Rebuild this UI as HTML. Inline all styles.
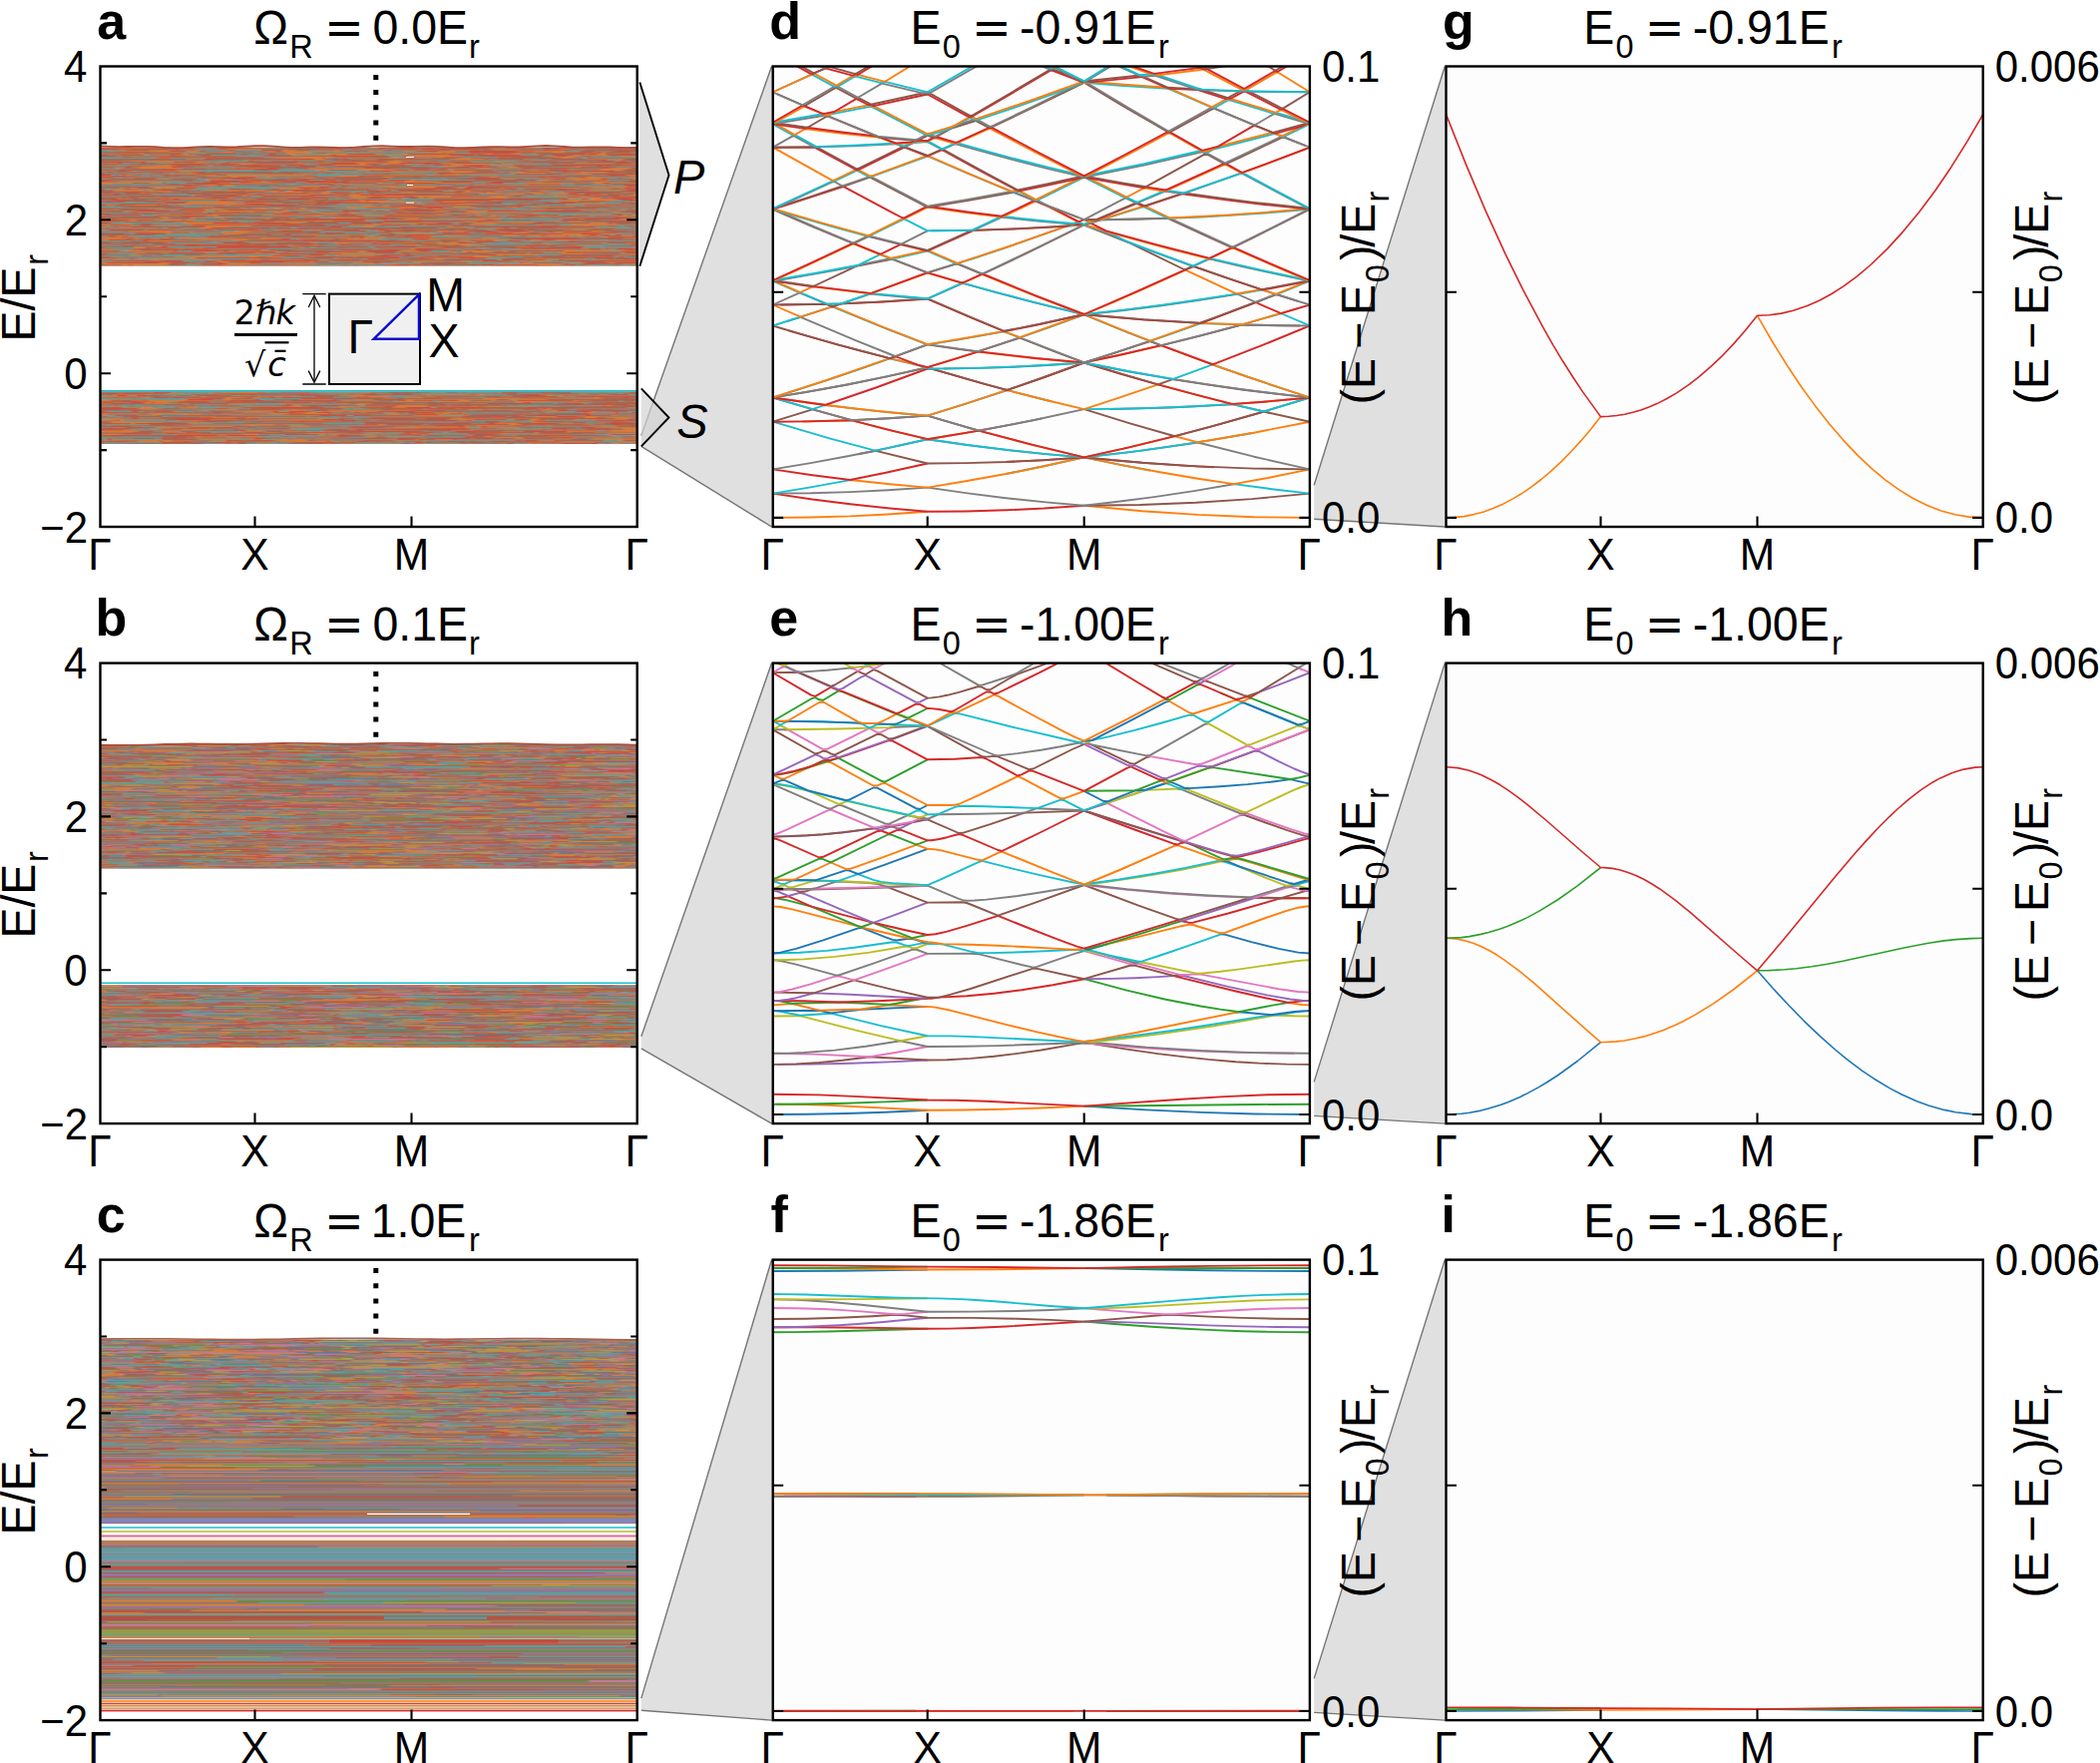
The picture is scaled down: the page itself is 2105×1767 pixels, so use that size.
<!DOCTYPE html>
<html><head><meta charset="utf-8"><title>Figure</title><style>html,body{margin:0;padding:0;background:#fff}svg{display:block}</style></head><body>
<svg width="2105" height="1767" viewBox="0 0 2105 1767" font-family="'Liberation Sans',sans-serif" fill="#000">
<rect width="2105" height="1767" fill="#fff"/>
<rect x="774.7" y="66.5" width="538.2" height="461.5" fill="#fdfdfd"/>
<rect x="1449.5" y="66.5" width="538.2" height="461.5" fill="#fdfdfd"/>
<rect x="774.7" y="664.6" width="538.2" height="461.5" fill="#fdfdfd"/>
<rect x="1449.5" y="664.6" width="538.2" height="461.5" fill="#fdfdfd"/>
<rect x="774.7" y="1262.6" width="538.2" height="461.5" fill="#fdfdfd"/>
<rect x="1449.5" y="1262.6" width="538.2" height="461.5" fill="#fdfdfd"/>
<defs><filter id="bl" x="-1%" y="-3%" width="102%" height="106%"><feGaussianBlur stdDeviation="1.6 0.6"/></filter><filter id="bl2" x="-1%" y="-1%" width="102%" height="102%"><feGaussianBlur stdDeviation="1.6 0.4"/></filter>
<clipPath id="cp00"><rect x="100.5" y="66.5" width="538.2" height="461.5"/></clipPath>
<clipPath id="cp01"><rect x="100.5" y="664.6" width="538.2" height="461.5"/></clipPath>
<clipPath id="cp02"><rect x="100.5" y="1262.6" width="538.2" height="461.5"/></clipPath>
<clipPath id="cp10"><rect x="774.7" y="66.5" width="538.2" height="461.5"/></clipPath>
<clipPath id="cp11"><rect x="774.7" y="664.6" width="538.2" height="461.5"/></clipPath>
<clipPath id="cp12"><rect x="774.7" y="1262.6" width="538.2" height="461.5"/></clipPath>
<clipPath id="cp20"><rect x="1449.5" y="66.5" width="538.2" height="461.5"/></clipPath>
<clipPath id="cp21"><rect x="1449.5" y="664.6" width="538.2" height="461.5"/></clipPath>
<clipPath id="cp22"><rect x="1449.5" y="1262.6" width="538.2" height="461.5"/></clipPath>
</defs>
<path d="M642.8 436.6L773.5 66.5V528L642.8 447.4Z" fill="#d3d3d3" fill-opacity=".7"/>
<path d="M642.8 436.6L773.5 66.5M773.5 528L642.8 447.4" stroke="#757575" stroke-width="1.4" fill="none"/>
<path d="M1317.2 486.3L1448.3 66.5V528L1317.2 520.3Z" fill="#d3d3d3" fill-opacity=".7"/>
<path d="M1317.2 486.3L1448.3 66.5M1448.3 528L1317.2 520.3" stroke="#757575" stroke-width="1.4" fill="none"/>
<path d="M642.8 1038.8L773.5 664.6V1126.1L642.8 1050.8Z" fill="#d3d3d3" fill-opacity=".7"/>
<path d="M642.8 1038.8L773.5 664.6M773.5 1126.1L642.8 1050.8" stroke="#757575" stroke-width="1.4" fill="none"/>
<path d="M1317.2 1084.4L1448.3 664.6V1126.1L1317.2 1118.4Z" fill="#d3d3d3" fill-opacity=".7"/>
<path d="M1317.2 1084.4L1448.3 664.6M1448.3 1126.1L1317.2 1118.4" stroke="#757575" stroke-width="1.4" fill="none"/>
<path d="M642.8 1702.1L773.5 1262.6V1724.1L642.8 1714.3Z" fill="#d3d3d3" fill-opacity=".7"/>
<path d="M642.8 1702.1L773.5 1262.6M773.5 1724.1L642.8 1714.3" stroke="#757575" stroke-width="1.4" fill="none"/>
<path d="M1317.2 1682.4L1448.3 1262.6V1724.1L1317.2 1716.4Z" fill="#d3d3d3" fill-opacity=".7"/>
<path d="M1317.2 1682.4L1448.3 1262.6M1448.3 1724.1L1317.2 1716.4" stroke="#757575" stroke-width="1.4" fill="none"/>
<path d="M641.3 82.5L670.5 175.5L641.3 266.8Z" fill="#d3d3d3" fill-opacity=".7"/><path d="M641.3 82.5L670.5 175.5L641.3 266.8" stroke="#000" stroke-width="1.9" fill="none"/>
<path d="M642.8 389.3L670.5 418.5L642.8 447.4Z" fill="#d3d3d3" fill-opacity=".7"/><path d="M642.8 389.3L670.5 418.5L642.8 447.4" stroke="#000" stroke-width="1.9" fill="none"/>
<rect x="101.2" y="147.6" width="536.8" height="119" fill="#b5785c"/>
<rect x="101.2" y="392.4" width="536.8" height="52.6" fill="#b5785c"/>
<clipPath id="ca"><path d="M101.2 147.6H638.0V266.6H101.2ZM101.2 392.4H638.0V445H101.2Z"/></clipPath>
<g clip-path="url(#ca)"><g opacity="0.52" filter="url(#bl)">
<g fill="none" stroke-width="0.95"><path d="M95 143.5h5m18 0h22m57 0h18m0 0h25m66 0h6m23 0h62m121 0h7m35 0h18M105 144.3h22m44 0h8m18 0h41m40 0h108m50 0h32m111 0h65M121 145.1h14m118 0h4m249 0h4m13 0h27m41 0h4m47 0h2M95 145.9h2m0 0h4m4 0h17m70 0h33m20 0h40m197 0h6m35 0h4m56 0h24M116 146.7h5m13 0h19m10 0h29m0 0h4m156 0h38m7 0h40m22 0h4m97 0h57M95 147.5h21m18 0h62m0 0h45m20 0h34m55 0h35m10 0h4m8 0h24m106 0h4M106 148.3h7m4 0h43m92 0h13m262 0h11M229 149.1h22m71 0h12m65 0h18m76 0h29m39 0h11M120 149.9h13m38 0h33m17 0h68m45 0h8m8 0h40m29 0h4m68 0h7m64 0h9m12 0h5m28 0h4m4 0h8M149 150.7h22m113 0h12m39 0h5m76 0h24m12 0h22m23 0h18M111 151.5h58m18 0h5m0 0h7m67 0h10m6 0h63m24 0h14m22 0h12m23 0h15m63 0h31m0 0h15M151 152.3h35m4 0h9m24 0h12m19 0h5m27 0h22m121 0h26m81 0h45m14 0h4m4 0h6m23 0h12M117 153.1h25m49 0h42m36 0h16m0 0h26m129 0h15m63 0h4m32 0h12m36 0h4M141 153.9h4m28 0h11m4 0h4m95 0h5m0 0h27m0 0h66m8 0h50m4 0h4m4 0h38m20 0h9m11 0h4m53 0h44M112 154.7h59m12 0h6m100 0h4m35 0h20m57 0h4m77 0h56m57 0h8M175 155.5h22m95 0h40m6 0h49m4 0h23m0 0h36m25 0h4m97 0h33M95 156.3h4m20 0h26m11 0h15m248 0h45m105 0h13m23 0h7m7 0h25M180 157.1h59m64 0h54m0 0h15m24 0h63m88 0h31m46 0h20M271 157.9h63m56 0h9m38 0h8m53 0h14m44 0h20m9 0h4m51 0h4M153 158.7h19m105 0h46m29 0h80m28 0h12m92 0h4M186 159.5h18m111 0h11m125 0h34m40 0h4m19 0h5m38 0h35M243 160.3h14m33 0h40m10 0h4m21 0h13m80 0h32M131 161.1h11m6 0h26m211 0h17m93 0h22m18 0h6m74 0h15M95 161.9h115m52 0h10m50 0h4m10 0h4m50 0h21m38 0h19m0 0h4m91 0h13m40 0h5M197 162.7h5m136 0h40m11 0h4m0 0h16m8 0h24m32 0h33m134 0h4M110 163.5h8m38 0h52m9 0h6m7 0h15m52 0h5m15 0h16m24 0h43m43 0h12m121 0h33m0 0h7M95 164.3h8m137 0h24m34 0h15m47 0h6m17 0h22m0 0h21m15 0h51m10 0h33m88 0h21M111 165.1h8m9 0h12m25 0h10m59 0h5m4 0h9m81 0h23m0 0h14m57 0h4m21 0h62M157 165.9h14m38 0h4m48 0h21m54 0h33m75 0h14m164 0h22M142 166.7h13m0 0h23m10 0h50m173 0h4m30 0h25m30 0h16m61 0h15m12 0h4M132 167.5h40m145 0h8m185 0h9m47 0h16M95 168.3h29m15 0h23m4 0h16m57 0h23m0 0h6m212 0h19m0 0h25m93 0h15M115 169.1h5m18 0h44m125 0h23m4 0h51m7 0h7m33 0h7m8 0h45m40 0h23m50 0h22m0 0h7m0 0h4M229 169.9h28m52 0h81m59 0h4m106 0h18m23 0h28M317 170.7h12m29 0h37m15 0h4m179 0h20m0 0h11M95 171.5h18m15 0h6m25 0h41m193 0h12m0 0h74m50 0h23M180 172.3h12m0 0h5m134 0h4m20 0h4m25 0h18m50 0h22m47 0h5m26 0h6m10 0h42m29 0h5M131 173.1h34m40 0h27m0 0h22m182 0h4m11 0h30m0 0h16m0 0h8m7 0h43m27 0h4M170 173.9h4m13 0h12m146 0h25m27 0h4m0 0h25m83 0h38m30 0h50M166 174.7h30m108 0h9m26 0h4m102 0h13m105 0h30M121 175.5h11m64 0h21m10 0h78m67 0h57m4 0h65m129 0h15M99 176.3h14m94 0h106m30 0h16m271 0h12M221 177.1h36m10 0h4m48 0h41m4 0h50m11 0h4m54 0h57m6 0h4m35 0h8M122 177.9h4m4 0h10m23 0h8m0 0h6m15 0h6m34 0h5m24 0h15m33 0h6m70 0h9m97 0h7m90 0h13m30 0h4M95 178.7h15m20 0h4m122 0h6m27 0h31m12 0h4m106 0h4m98 0h67m11 0h17m0 0h5M156 179.5h15m37 0h25m271 0h13m51 0h15m0 0h19m32 0h4M193 180.3h27m164 0h5m22 0h12m115 0h17m19 0h35m26 0h9M108 181.1h4m128 0h26m60 0h13m12 0h65m126 0h8m27 0h4m62 0h1M119 181.9h69m84 0h11m123 0h33m39 0h9m111 0h17M100 182.7h61m91 0h20m76 0h95m149 0h13m0 0h5M95 183.5h32m0 0h6m18 0h11m57 0h14m6 0h40m28 0h4m4 0h20m43 0h5m55 0h34m56 0h60m7 0h9m8 0h9m0 0h23M95 184.3h15m177 0h8m38 0h18m56 0h25m53 0h14m4 0h29m0 0h31m34 0h17M168 185.1h4m27 0h34m122 0h8m0 0h12m99 0h13M207 185.9h10m8 0h14m105 0h6m27 0h20m129 0h38M223 186.7h11m37 0h4m30 0h28m20 0h92m0 0h8m116 0h7M150 187.5h49m9 0h4m65 0h43m70 0h47m22 0h10m113 0h27m0 0h26M120 188.3h4m0 0h13m17 0h22m169 0h5m7 0h23m32 0h24m21 0h4m41 0h80m11 0h32m16 0h3M109 189.1h15m8 0h64m84 0h4m5 0h14m9 0h6m183 0h4m117 0h22M207 189.9h16m48 0h46m5 0h32m0 0h12m14 0h45m151 0h47M114 190.7h27m9 0h4m49 0h62m114 0h9m4 0h4m38 0h69m0 0h4m37 0h14M113 191.5h59m56 0h13m4 0h35m10 0h5m158 0h4m10 0h4m71 0h4m43 0h5m0 0h16m0 0h12M159 192.3h12m104 0h25m8 0h23m22 0h4m0 0h4m41 0h14m48 0h20m4 0h4m4 0h6m121 0h4M95 193.1h3m41 0h7m128 0h4m6 0h21m17 0h30m8 0h4m26 0h80m19 0h7m34 0h17m15 0h15M95 193.9h7m40 0h14m92 0h10m51 0h5m10 0h6m150 0h21m8 0h36m4 0h16m49 0h8m4 0h18M101 194.7h12m40 0h5m55 0h25m63 0h27m24 0h14m9 0h11m59 0h19m16 0h4m4 0h37m10 0h33m68 0h8M194 195.5h4m0 0h5m36 0h14m12 0h45m26 0h8m4 0h13m231 0h13m0 0h4m12 0h4m4 0h15M95 196.3h3m145 0h4m10 0h5m88 0h121m28 0h17m41 0h32m47 0h8M262 197.1h4m15 0h92m13 0h18m11 0h37m39 0h16m15 0h46M139 197.9h13m0 0h15m60 0h5m122 0h13m52 0h6m4 0h84m60 0h9m0 0h19m11 0h32M171 198.7h10m4 0h16m28 0h4m104 0h5m8 0h20m13 0h22m14 0h4m0 0h13m21 0h49m61 0h35M118 199.5h15m29 0h11m7 0h39m14 0h5m4 0h15m22 0h9m23 0h15m69 0h4m195 0h23m17 0h10M156 200.3h6m198 0h4m195 0h62M311 201.1h4m17 0h56m184 0h42M163 201.9h21m6 0h4m0 0h12m0 0h13m0 0h10m27 0h21m31 0h11m43 0h4m4 0h35m39 0h56m57 0h23M187 202.7h57m80 0h4m16 0h16m0 0h40m0 0h49m0 0h18m160 0h14M162 203.5h4m20 0h50m10 0h38m19 0h14m86 0h17m158 0h25M165 204.3h4m12 0h64m94 0h36m75 0h13m0 0h18m29 0h4m8 0h10m35 0h9m62 0h6M105 205.1h14m18 0h24m14 0h15m28 0h35m203 0h18m94 0h44M106 205.9h4m14 0h33m151 0h4m56 0h5M110 206.7h4m85 0h8m56 0h6m96 0h9m8 0h9m33 0h47m112 0h58M207 207.5h7m135 0h68m37 0h23m30 0h11m14 0h8m0 0h18m0 0h9m0 0h9M130 208.3h35m77 0h4m8 0h9m14 0h30m29 0h32m33 0h22m0 0h4m87 0h7m121 0h2M205 209.1h45m4 0h24m23 0h4m44 0h7m69 0h51m11 0h6m51 0h4M155 209.9h40m0 0h28m38 0h6m8 0h14m6 0h25m67 0h21m26 0h8m180 0h22M95 210.7h25m105 0h4m145 0h16m145 0h28m18 0h45m12 0h6M122 211.5h13m52 0h28m4 0h71m9 0h14m59 0h4m24 0h8m28 0h15m15 0h23M133 212.3h23m58 0h43m27 0h6m23 0h4m151 0h80m31 0h4m11 0h4m4 0h12m0 0h8M102 213.1h5m83 0h17m43 0h4m4 0h24m39 0h51m17 0h6m11 0h7m24 0h25m4 0h22m66 0h6m55 0h20m4 0h5M170 213.9h12m93 0h18m13 0h32m12 0h6m40 0h10m58 0h5m4 0h6m10 0h26M111 214.7h4m98 0h23m201 0h5m87 0h11M95 215.5h3m0 0h6m52 0h63m44 0h76m19 0h32m4 0h59m25 0h4m10 0h4m80 0h34m15 0h4m4 0h8M207 216.3h11m96 0h5m142 0h11m4 0h51m9 0h30m50 0h28M95 217.1h6m60 0h6m48 0h13m42 0h5m0 0h14m79 0h71m18 0h4m81 0h4m26 0h23m25 0h24M112 217.9h9m37 0h10m24 0h15m9 0h6m82 0h25m4 0h4m0 0h31m113 0h19M95 218.7h14m54 0h9m18 0h4m52 0h27m61 0h27m36 0h23m93 0h10M118 219.5h50m54 0h5m39 0h4m21 0h6m109 0h95m80 0h5m40 0h18M169 220.3h13m4 0h20m160 0h23m16 0h15m58 0h9m8 0h5m116 0h28M120 221.1h75m120 0h38m152 0h5m38 0h13M129 221.9h8m102 0h9m27 0h59m30 0h6m95 0h35m57 0h6m7 0h16m48 0h10M95 222.7h13m0 0h8m59 0h58m21 0h54m153 0h14m38 0h24m26 0h22M186 223.5h27m76 0h12m83 0h54m20 0h4m13 0h59m58 0h18m4 0h4m23 0h3M95 224.3h4m22 0h12m20 0h106m154 0h5m54 0h24m77 0h19m0 0h15M95 225.1h38m216 0h33m41 0h33m15 0h57m10 0h17m20 0h35m0 0h34M95 225.9h15m80 0h93m18 0h8m56 0h62m113 0h4m21 0h53m19 0h7M121 226.7h20m12 0h24m29 0h4m0 0h42m98 0h27m210 0h4M95 227.5h9m101 0h23m139 0h5m76 0h19M95 228.3h63m26 0h27m228 0h4m57 0h4m53 0h19m12 0h45M170 229.1h15m16 0h14m136 0h4m30 0h10m75 0h7m163 0h4M235 229.9h4m8 0h13m65 0h24m10 0h4m106 0h4m6 0h26m67 0h15m11 0h7M144 230.7h4m66 0h4m56 0h31m6 0h12m69 0h11m13 0h24m17 0h4m27 0h4m33 0h4m36 0h26M95 231.5h10m23 0h42m68 0h25m115 0h7m54 0h12m4 0h14m28 0h4m29 0h5m58 0h14M151 232.3h16m0 0h27m28 0h30m145 0h8m7 0h9m20 0h6m15 0h4m39 0h4m47 0h46M131 233.1h41m51 0h23m20 0h17m0 0h6m12 0h9m51 0h8m145 0h14m21 0h15M165 233.9h16m0 0h86m113 0h15m0 0h35m0 0h6m19 0h17m14 0h47m8 0h11m12 0h41m0 0h5m0 0h6m24 0h4M224 234.7h17m73 0h4m79 0h40m127 0h19m20 0h19M303 235.5h63m139 0h12m4 0h70m7 0h4m30 0h4M115 236.3h16m118 0h8m112 0h7m37 0h52m39 0h17m7 0h14m8 0h17m14 0h22m20 0h11M119 237.1h4m8 0h10m225 0h34m47 0h25m68 0h46m20 0h38M95 237.9h26m43 0h24m73 0h4m49 0h72m15 0h4m200 0h5M95 238.7h35m4 0h4m26 0h6m11 0h49m32 0h20m59 0h10m64 0h17m51 0h16m126 0h19M106 239.5h20m6 0h14m5 0h9m29 0h78m0 0h14m18 0h15m0 0h21m14 0h32m49 0h82m125 0h7M95 240.3h13m125 0h15m93 0h49m10 0h40m91 0h13m15 0h15m0 0h4m64 0h2M106 241.1h15m4 0h11m13 0h24m40 0h87m25 0h4m123 0h19m24 0h4m28 0h14m4 0h24m17 0h24M149 241.9h54m105 0h12m89 0h4m50 0h39m4 0h5m115 0h7M375 242.7h4m75 0h4m58 0h5M165 243.5h4m81 0h27m34 0h4m22 0h25m16 0h39m6 0h36m85 0h4m53 0h4m23 0h16M176 244.3h26m126 0h15m0 0h7m14 0h8m67 0h53m117 0h9M249 245.1h4m61 0h10m81 0h72m71 0h7m21 0h13m0 0h14M126 245.9h4m69 0h40m38 0h4m0 0h38m90 0h9m43 0h9m55 0h14m0 0h12m89 0h4M465 246.7h22m79 0h36M134 247.5h27m132 0h11m7 0h5m101 0h27m73 0h14M136 248.3h5m50 0h14m273 0h12m114 0h40M135 249.1h5m10 0h5m0 0h17m43 0h25m19 0h10m32 0h4m107 0h4m20 0h4m67 0h8m0 0h7m57 0h10M95 249.9h18m58 0h38m82 0h10m76 0h39m28 0h16m59 0h37m32 0h4m42 0h4M95 250.7h27m0 0h19m322 0h13m76 0h24m8 0h30M127 251.5h4m0 0h43m45 0h4m6 0h49m67 0h4m0 0h19m32 0h19m45 0h45m56 0h79M95 252.3h19m89 0h15m58 0h4m80 0h4m34 0h31m15 0h12m9 0h4m5 0h15m15 0h4m10 0h43m0 0h5m0 0h23m54 0h1M113 253.1h32m18 0h28m5 0h29m12 0h41m52 0h45m76 0h17m6 0h20m67 0h6m55 0h5M133 253.9h8m0 0h28m87 0h5m28 0h19m7 0h60m35 0h36m118 0h39m19 0h22M399 254.7h5m87 0h93M130 255.5h12m60 0h22m49 0h21m44 0h21m0 0h25m18 0h4m92 0h39m94 0h13M102 256.3h4m132 0h4m0 0h30m29 0h30m0 0h45m14 0h7m16 0h6m11 0h9m11 0h53m112 0h16M112 257.1h4m0 0h6m53 0h62m13 0h36m189 0h17m79 0h37M161 257.9h97m11 0h14m22 0h10m39 0h31m34 0h69m50 0h6M192 258.7h4m293 0h19M95 259.5h35m4 0h23m0 0h51m44 0h8m76 0h16m41 0h8m34 0h9m82 0h61M155 260.3h11m45 0h12m24 0h13m11 0h33m122 0h4m0 0h16m150 0h44m0 0h4M95 261.1h7m47 0h9m24 0h8m171 0h15m4 0h13m69 0h22m24 0h10m16 0h19M213 261.9h40m58 0h51m42 0h21m65 0h4m20 0h40m84 0h6M95 262.7h50m46 0h4m24 0h9m57 0h30m98 0h33m4 0h5m0 0h17m133 0h36M95 263.5h12m53 0h12m25 0h4m23 0h26m104 0h4m4 0h13m5 0h4m140 0h10m30 0h23m23 0h6M106 264.3h62m74 0h50m4 0h21m25 0h36m9 0h35m33 0h92m0 0h16m62 0h19M99 265.1h57m0 0h12m56 0h21m38 0h29m74 0h14m99 0h62m27 0h9M123 265.9h5m5 0h37m12 0h73m66 0h20m9 0h4m6 0h4m46 0h22m47 0h4m57 0h33M101 266.7h28m0 0h8m231 0h9m33 0h4m76 0h7m88 0h46M112 267.5h5m18 0h65m4 0h17m11 0h9m256 0h40m29 0h22m8 0h24M95 268.3h46m14 0h4m80 0h35m8 0h5m10 0h8m170 0h49m9 0h62m10 0h5m4 0h13M97 269.1h25m55 0h4m0 0h5m20 0h8m69 0h22m107 0h21m12 0h4m0 0h16m39 0h22m95 0h4M112 269.9h4m152 0h15m59 0h4m21 0h10m228 0h5" stroke="#ff7f0e"/><path d="M111 143.5h7m22 0h5m95 0h44m11 0h11m19 0h4m68 0h76m52 0h23m8 0h4m18 0h54M95 144.3h10m164 0h9m108 0h42m4 0h4m46 0h22m37 0h15M163 145.1h90m4 0h5m27 0h15m11 0h25m65 0h7m87 0h7m44 0h19m26 0h35M122 145.9h58m105 0h9m20 0h102m195 0h4M95 146.7h21m5 0h13m79 0h29m8 0h28m269 0h13M241 147.5h20m39 0h4m0 0h46m35 0h10m4 0h8m24 0h9m8 0h6m30 0h49M95 148.3h11m84 0h4m22 0h36m126 0h39m43 0h13m32 0h18m20 0h46M104 149.1h26m0 0h40m0 0h25m20 0h14m105 0h9m7 0h12m55 0h76m29 0h39m51 0h32M95 149.9h25m222 0h8m40 0h29m4 0h56m92 0h8m9 0h28m4 0h4M175 150.7h4m82 0h23m47 0h4m5 0h5m43 0h4m92 0h4m31 0h53m58 0h7M169 151.5h14m0 0h4m12 0h8m69 0h6m63 0h24m48 0h23m29 0h49m100 0h14M101 152.3h9m125 0h19m5 0h9m187 0h81m45 0h14m4 0h4m6 0h15M233 153.1h4m82 0h9m142 0h19m0 0h11m0 0h18m48 0h32m0 0h4M95 153.9h46m99 0h31m12 0h4m98 0h4m54 0h4m46 0h20m69 0h4M171 154.7h12m85 0h10m70 0h30m31 0h33m109 0h22m4 0h22m22 0h9M95 155.5h13m63 0h4m157 0h6m112 0h25m4 0h44m30 0h11m45 0h35M99 156.3h20m83 0h9m52 0h30m45 0h36m0 0h16m74 0h4m4 0h22m65 0h10M161 157.1h19m310 0h37M121 157.9h11m27 0h106m69 0h22m54 0h7m28 0h19m48 0h44M323 158.7h4m16 0h4m125 0h36m80 0h11M204 159.5h9m38 0h5m0 0h48m0 0h11m11 0h25m45 0h27m96 0h6m42 0h4M185 160.3h36m4 0h18m91 0h6m38 0h17m160 0h55m13 0h4M345 161.1h28m0 0h12m17 0h17m98 0h18m66 0h14m15 0h14M272 161.9h27m234 0h22m0 0h4m62 0h7M95 162.7h52m26 0h7m5 0h12m29 0h22m4 0h67m59 0h7m24 0h4m113 0h4m59 0h51M118 163.5h6m99 0h7m103 0h24m43 0h20m0 0h15m20 0h18m143 0h4M103 164.3h9m219 0h29m6 0h17m43 0h15m57 0h4M95 165.1h12m68 0h28m17 0h9m0 0h5m18 0h12m0 0h42m13 0h14m56 0h18m28 0h17m68 0h4m28 0h92M171 165.9h38m4 0h48m25 0h50m82 0h26m19 0h26m0 0h4m37 0h92M238 166.7h45m17 0h18m19 0h22m111 0h14m114 0h6m4 0h4m29 0h3M125 167.5h7m40 0h23m167 0h13m81 0h16m4 0h23M124 168.3h15m96 0h4m29 0h12m85 0h22m0 0h63m74 0h31m48 0h8m21 0h12M182 169.1h96m23 0h6m78 0h7m19 0h21m90 0h4m29 0h15m68 0h6M95 169.9h6m68 0h39m5 0h4m44 0h20m24 0h4m128 0h7m77 0h4m52 0h23m28 0h16M99 170.7h17m12 0h50m217 0h15m44 0h40m68 0h8M117 171.5h11m193 0h4m44 0h4m9 0h11m127 0h9m35 0h53M155 172.3h25m17 0h11m4 0h36m278 0h22m16 0h4m42 0h15M107 173.1h6m79 0h13m49 0h45m141 0h11m54 0h7m66 0h4M95 173.9h11m56 0h8m40 0h5m110 0h8m8 0h4m39 0h13m41 0h71M95 174.7h31m163 0h4m69 0h17m170 0h14m30 0h4m0 0h45M95 175.5h18m495 0h19M113 176.3h14m23 0h4m21 0h6m178 0h26m239 0h6m12 0h2M101 177.1h33m170 0h15m41 0h4m50 0h11m49 0h5m61 0h6m4 0h12M95 177.9h20m83 0h11m19 0h4m5 0h20m69 0h34m121 0h10m43 0h36m12 0h6M150 178.7h8m64 0h34m211 0h35m116 0h4M138 179.5h14m81 0h15m208 0h44m17 0h9m28 0h9m39 0h12m24 0h6M95 180.3h11m138 0h44m11 0h12m13 0h14m42 0h4m5 0h22m122 0h5M95 181.1h13m101 0h5m0 0h26m26 0h60m17 0h8m179 0h8m94 0h11M95 181.9h24m91 0h54m19 0h107m4 0h12m33 0h14m0 0h18m16 0h5m4 0h23M96 182.7h4m103 0h49m20 0h4m30 0h42m95 0h32m16 0h23m30 0h20m24 0h4M133 183.5h6m46 0h34m92 0h4m20 0h4m8 0h31m17 0h18m0 0h25m48 0h20m98 0h4M168 184.3h10m16 0h66m58 0h15M189 185.1h10m95 0h30m51 0h24m0 0h58m9 0h8m55 0h12m66 0h27M95 185.9h55m0 0h43m6 0h4m14 0h4m22 0h36m206 0h14m125 0h20M183 186.7h16m61 0h11m4 0h24m308 0h4m16 0h17M132 187.5h18m170 0h11m106 0h4m0 0h14m14 0h45M137 188.3h17m22 0h23m98 0h29m110 0h4m25 0h4m0 0h33m80 0h11m32 0h16M95 189.1h3m26 0h8m171 0h9m10 0h10m59 0h22m0 0h61m31 0h9m97 0h11M162 189.9h6m149 0h5m44 0h5m54 0h24m15 0h9m0 0h5m0 0h21m0 0h19m7 0h51m47 0h21M110 190.7h4m40 0h26m85 0h96m27 0h4m4 0h13m0 0h25m124 0h33m36 0h17M109 191.5h4m182 0h11m61 0h20m144 0h7m0 0h4m80 0h22M95 192.3h17m0 0h38m64 0h9m6 0h38m64 0h22m41 0h4m86 0h4m31 0h4m20 0h4m17 0h59M128 193.1h11m7 0h4m165 0h7m34 0h4M102 193.9h19m35 0h8m37 0h10m0 0h20m27 0h51m146 0h21m93 0h32M113 194.7h36m89 0h10m88 0h4m31 0h4m11 0h59m31 0h4m45 0h10m33 0h12m5 0h19M228 195.5h11m14 0h12m45 0h26m25 0h50m165 0h16M160 196.3h31m4 0h11m41 0h6m9 0h54m22 0h4m174 0h4m0 0h4m65 0h34M226 197.1h7m4 0h6m23 0h9m98 0h13m18 0h11m37 0h39m20 0h11m46 0h14m14 0h48M122 197.9h4m4 0h9m74 0h14m74 0h27m39 0h52m6 0h4M99 198.7h19m46 0h7m34 0h24m113 0h8m20 0h13m26 0h10m144 0h4m35 0h31m0 0h11M95 199.5h23m38 0h6m11 0h7m77 0h8m23 0h23m88 0h4m86 0h62m12 0h4m0 0h4m46 0h17M111 200.3h20m31 0h80m106 0h12m65 0h118m78 0h23M95 201.1h33m91 0h10m206 0h26m9 0h23m31 0h12M116 201.9h6m123 0h11m21 0h13m29 0h43m4 0h4m68 0h6m56 0h5m93 0h9m23 0h4M95 202.7h23m47 0h16m63 0h23m39 0h18m4 0h16m147 0h63m27 0h4m38 0h4M166 203.5h20m131 0h21m18 0h25m58 0h42m64 0h33M120 204.3h45m80 0h21m33 0h4m78 0h38m95 0h8m23 0h22m39 0h4M130 205.1h7m28 0h4m84 0h58m4 0h15m122 0h4m62 0h10M95 205.9h3m4 0h4m12 0h6m33 0h4m27 0h38m9 0h23m4 0h26m85 0h12m4 0h5m4 0h56m82 0h4m45 0h59M269 206.7h27m95 0h33m47 0h55m115 0h3M214 207.5h13m190 0h37m23 0h4m37 0h4m54 0h4M165 208.3h48m94 0h22m39 0h33m26 0h18m65 0h4M297 209.1h4m100 0h18m129 0h50M442 209.9h17m7 0h19m124 0h13M139 210.7h18m21 0h29m22 0h57m43 0h45m16 0h17m0 0h36m120 0h18M139 211.5h32m44 0h4m123 0h20m46 0h28m53 0h35m8 0h52M107 212.3h18m31 0h49m85 0h23m134 0h21m130 0h4m20 0h22M235 213.1h7m12 0h4m24 0h19m71 0h8m0 0h9m6 0h11m7 0h8m41 0h4m22 0h4m68 0h50M114 213.9h39m29 0h11m15 0h34m102 0h6m60 0h37m68 0h19M96 214.7h15m74 0h28m60 0h42m0 0h8m13 0h13m264 0h11M119 215.5h23m201 0h15m32 0h4m59 0h16m52 0h30m5 0h5m57 0h7m4 0h4M258 216.3h4m122 0h14m0 0h20m148 0h12M182 217.1h20m48 0h20m19 0h9m59 0h7m186 0h22m23 0h5m0 0h9M95 217.9h17m56 0h18m0 0h6m266 0h23m19 0h34m81 0h7M223 218.7h5m133 0h4m10 0h22m185 0h52M285 219.5h6m15 0h66m9 0h25m157 0h18m5 0h36M95 220.3h35m6 0h15m31 0h4m71 0h36m0 0h43m0 0h30m54 0h4m63 0h8m69 0h14M363 221.1h4m17 0h121M95 221.9h34m123 0h23m59 0h30m13 0h88m131 0h7m0 0h20m5 0h6M160 222.7h15m133 0h5m296 0h35M95 223.5h9m109 0h54m0 0h22m62 0h33m54 0h16m80 0h23m53 0h4M133 224.3h20m265 0h33m88 0h6m92 0h7M140 225.1h22m31 0h14m11 0h4m0 0h21m7 0h49m83 0h30m48 0h11m57 0h10M110 225.9h18m155 0h18m12 0h36m78 0h25M141 226.7h4m54 0h7m74 0h48m125 0h6m69 0h10m0 0h22m65 0h19M329 227.5h15m56 0h15m59 0h32m0 0h24m9 0h59M167 228.3h17m27 0h27m22 0h12m101 0h35m96 0h8m41 0h4M95 229.1h10m139 0h37m14 0h37m23 0h30m63 0h22M105 229.9h35m365 0h32m68 0h28M109 230.7h35m4 0h66m4 0h56m49 0h39m17 0h13m20 0h4m24 0h13m0 0h4m39 0h29m4 0h36M124 231.5h4m153 0h23m40 0h24m27 0h44m62 0h29m59 0h4M194 232.3h28m86 0h6m0 0h7m106 0h5m34 0h4m7 0h24m47 0h8m56 0h7m4 0h21M289 233.1h12m68 0h8m65 0h72m50 0h35m6 0h15M95 233.9h35m5 0h23m167 0h21M95 234.7h30m9 0h25m0 0h9m150 0h18m53 0h4m50 0h121m19 0h20M145 235.5h5m135 0h7m114 0h23m162 0h7m18 0h8M389 236.3h8m84 0h23m17 0h7m39 0h4m32 0h4M123 237.1h8m14 0h5m20 0h4m157 0h35m34 0h33m153 0h15M121 237.9h4m82 0h24m62 0h21m91 0h28m75 0h21m81 0h34M130 238.7h4m100 0h28m97 0h7m105 0h12m55 0h39m0 0h4m27 0h17M281 239.5h11m126 0h12m82 0h81m0 0h10M108 240.3h64m7 0h4m82 0h54m75 0h6m126 0h5m13 0h11m54 0h4m4 0h25M142 241.1h7m155 0h4m0 0h17m4 0h45m42 0h4m51 0h24m12 0h20m55 0h4M142 241.9h7m109 0h50m12 0h85m37 0h17m52 0h12m46 0h4m0 0h4m60 0h5M218 242.7h27m134 0h4m93 0h31m50 0h37m5 0h29m0 0h16M95 243.5h17m110 0h28m124 0h4m81 0h15m59 0h11M151 244.3h25m84 0h12m0 0h12m0 0h44m44 0h29m0 0h38m194 0h5M134 245.1h15m20 0h80m50 0h15m10 0h24m33 0h11m141 0h15M185 245.9h10m0 0h4m40 0h27m83 0h4m101 0h7M123 246.7h9m29 0h9m13 0h107m35 0h4m25 0h7m39 0h5m82 0h66m54 0h37M161 247.5h8m47 0h77m11 0h7m5 0h4m55 0h42m27 0h10m77 0h4m33 0h19m50 0h7M145 248.3h29m31 0h81m51 0h6m94 0h31m22 0h94M140 249.1h10m22 0h6m16 0h17m94 0h5m106 0h20m96 0h47m10 0h55M133 249.9h8m228 0h4m43 0h16m28 0h20m0 0h24m88 0h11m15 0h16m4 0h6M141 250.7h121m79 0h19m27 0h15m13 0h35m26 0h8M174 251.5h5m13 0h27m4 0h6m49 0h4m37 0h4m45 0h32m19 0h15M114 252.3h4m118 0h8m0 0h32m27 0h57m8 0h30m102 0h4m118 0h21M99 253.1h14m112 0h8m82 0h15m45 0h22m71 0h6m48 0h23m22 0h42m18 0h11M95 253.9h4m70 0h38m10 0h39m5 0h28m19 0h7m60 0h20m208 0h19M284 254.7h24M310 255.5h16m58 0h4m0 0h14m83 0h13m85 0h9m11 0h18M95 256.3h7m39 0h13m118 0h29m75 0h14m12 0h11m218 0h13M108 257.1h4m59 0h4m123 0h13m58 0h106m165 0h4M95 257.9h6m247 0h6m31 0h16m123 0h10m0 0h4m6 0h82M95 258.7h1m38 0h5m57 0h69m0 0h9m0 0h4m32 0h24m4 0h88m32 0h31m106 0h19M130 259.5h4m233 0h4m52 0h12m36 0h5m25 0h4m104 0h8m6 0h12M108 260.3h7m108 0h4m102 0h4m37 0h6m21 0h29m20 0h43m0 0h10m4 0h45m11 0h7M112 261.1h26m0 0h11m15 0h11m0 0h7m40 0h98m15 0h26m15 0h4m104 0h24m61 0h8m0 0h14m33 0h18M105 261.9h4m25 0h51m20 0h8m40 0h58m172 0h7m78 0h34m0 0h29m0 0h7M145 262.7h46m4 0h24m9 0h57m30 0h4m4 0h4m35 0h32m15 0h4m33 0h4M107 263.5h53m12 0h6m39 0h7m26 0h10m115 0h5m41 0h4m95 0h4m33 0h7m23 0h10m0 0h4m0 0h9m6 0h28M168 264.3h13m17 0h31m210 0h12m0 0h4m129 0h41M95 265.1h4m117 0h8m343 0h21M128 265.9h5m260 0h17m22 0h6m45 0h57m33 0h4m37 0h9M95 266.7h6m118 0h15m270 0h4m26 0h19M95 267.5h17m5 0h18m230 0h11m39 0h17m6 0h12m138 0h8M141 268.3h14m31 0h45m47 0h4m23 0h42m60 0h10m107 0h5m66 0h10m5 0h4M165 269.1h7m293 0h39m58 0h4m29 0h19m28 0h2M147 269.9h121m15 0h7m87 0h4m103 0h33" stroke="#d62728"/><path d="M182 143.5h15m87 0h11m17 0h13m148 0h45m30 0h8m76 0h12M127 144.3h12m54 0h4m41 0h4m10 0h17m199 0h14m22 0h37M139 145.1h24m211 0h13m53 0h34m95 0h5m4 0h13M101 145.9h4m75 0h8m0 0h4m102 0h20m111 0h57m6 0h15m24 0h6m74 0h4m4 0h29M153 146.7h10m79 0h8m28 0h4m18 0h52m145 0h18m4 0h8m4 0h16m70 0h8m0 0h11M121 147.5h6m313 0h8m6 0h30M113 148.3h4m68 0h5m127 0h39m70 0h9m8 0h4m35 0h19m22 0h4m62 0h18m35 0h2M95 149.1h9m158 0h12m0 0h48m40 0h25M133 149.9h38m118 0h45m145 0h12m53 0h7m28 0h4m53 0h8M125 150.7h4m0 0h20m79 0h8m60 0h16m128 0h12m22 0h6m8 0h9m88 0h45m7 0h7M581 151.5h16m17 0h4m14 0h12M95 152.3h6m9 0h41m473 0h8M142 153.1h49m124 0h4m218 0h17m52 0h38M145 153.9h28m33 0h30m35 0h12m106 0h4m58 0h4m67 0h11m4 0h45M189 154.7h60m193 0h44m56 0h9m22 0h4m30 0h14m9 0h13M121 155.5h24m52 0h15m57 0h23m247 0h9m16 0h12M171 156.3h16m24 0h24m67 0h36m65 0h8m57 0h4m22 0h51m10 0h4m23 0h13M95 157.1h21m4 0h41m211 0h20m135 0h20M95 157.9h7m254 0h34m186 0h5m8 0h4M206 158.7h63m163 0h24m52 0h56m16 0h4m15 0h45M95 159.5h91m27 0h38m126 0h19m27 0h28m34 0h4m10 0h20m22 0h7m5 0h14m4 0h15m40 0h18M95 160.3h61m0 0h29m36 0h4m119 0h21m182 0h8m72 0h17M95 161.1h36m117 0h7m39 0h51m86 0h64M248 161.9h14m55 0h5m18 0h50m36 0h14m136 0h40M180 162.7h5m63 0h4m67 0h19m47 0h4m52 0h32m61 0h44M140 163.5h16m101 0h40m138 0h8m30 0h28m49 0h26m44 0h13m4 0h7M112 164.3h8m0 0h120m73 0h18m288 0h4M140 165.1h7m4 0h4m215 0h11M373 165.9h45m96 0h16M127 166.7h15m36 0h10m171 0h14m0 0h38m105 0h61m58 0h6M95 167.5h19m134 0h69m38 0h7m13 0h55m89 0h18m45 0h37M280 168.3h30m140 0h26m79 0h48M95 169.1h14m0 0h6m163 0h5m14 0h4m142 0h4m45 0h11m23 0h6M119 169.9h50m88 0h4m156 0h12m15 0h5m101 0h9M116 170.7h12m126 0h18m57 0h29m56 0h36m89 0h23m62 0h20M373 171.5h9m97 0h41m32 0h12m63 0h17M95 172.3h60m93 0h27m4 0h32m48 0h8m107 0h23m51 0h4m73 0h14M330 173.1h7m222 0h19m29 0h37M150 173.9h12m37 0h11m5 0h81m251 0h7m73 0h17M196 174.7h24m93 0h5m61 0h12m50 0h4m70 0h34M161 175.5h35m21 0h10m415 0h2M164 176.3h6m23 0h14m178 0h85m97 0h57M95 177.1h6m33 0h43m252 0h45m5 0h4m79 0h23M222 177.9h6m29 0h4m15 0h4m0 0h24m11 0h11m34 0h25m9 0h27m56 0h4m17 0h36m106 0h4M134 178.7h16m52 0h20m98 0h7m9 0h106m4 0h21M95 179.5h4m10 0h29m14 0h4m15 0h27m78 0h49m0 0h65m110 0h4m59 0h5m46 0h20M106 180.3h87m27 0h6m69 0h4m43 0h38m95 0h28m0 0h30m98 0h4M182 181.1h23m211 0h114m20 0h27m4 0h51M188 181.9h7m73 0h4m118 0h4m77 0h7m149 0h17M95 182.7h1m180 0h22m216 0h6m44 0h24m42 0h14M139 183.5h12m11 0h5m176 0h4m261 0h4M164 184.3h4m92 0h27m152 0h4m56 0h4m72 0h14m0 0h4m21 0h30M172 185.1h17m135 0h12m151 0h4m50 0h52m41 0h10M221 185.9h4m104 0h15m53 0h4m53 0h12m4 0h4m25 0h11m12 0h4M219 186.7h4m110 0h4m4 0h8m104 0h32M95 187.5h37m382 0h68M101 188.3h19m217 0h8m95 0h17M228 189.1h24m14 0h14m52 0h59m123 0h6m4 0h44M95 189.9h11m62 0h25m36 0h32m188 0h15M95 190.7h11m93 0h4m158 0h18M95 191.5h14m63 0h28m41 0h4m35 0h6m20 0h22m59 0h6m6 0h46m12 0h10m4 0h25M182 192.3h8m13 0h11m9 0h6m75 0h4m53 0h20m9 0h4m4 0h4m14 0h48m28 0h4M98 193.1h10m0 0h4m12 0h4m22 0h105m50 0h10m54 0h21m187 0h67M125 193.9h17m30 0h29m30 0h17m86 0h52m90 0h4m65 0h4m52 0h13M149 194.7h4m34 0h26m127 0h12m256 0h28M95 195.5h26m82 0h25m116 0h4m63 0h94m104 0h12m4 0h4M121 196.3h35m50 0h4m0 0h33m99 0h8M128 197.1h98m7 0h4m38 0h6M259 197.9h8M122 198.7h16m95 0h47m0 0h57m173 0h53M133 199.5h23m109 0h14m47 0h4m103 0h56m62 0h12m19 0h4m0 0h4M131 200.3h16m95 0h106m16 0h33m8 0h9m0 0h11M128 201.1h37m64 0h6m15 0h30m35 0h12m134 0h9m34 0h20m100 0h7m0 0h13M107 201.9h5m10 0h36m26 0h6m231 0h17m142 0h18M118 202.7h8m22 0h17m16 0h6m80 0h39m181 0h4m70 0h20m4 0h16M284 203.5h19m35 0h18m125 0h23m117 0h20M303 204.3h14m0 0h22m36 0h6m45 0h24m31 0h25m26 0h13m86 0h7M95 205.1h10m14 0h11m200 0h9m189 0h19M161 205.9h20m49 0h5m23 0h4m26 0h13m11 0h19m63 0h4m56 0h22m4 0h56M95 206.7h9m10 0h59m205 0h4m169 0h18M127 207.5h32m0 0h26m42 0h43m16 0h43m152 0h26m73 0h31M217 208.3h25m4 0h4m79 0h7m147 0h6m54 0h99M95 209.1h52m35 0h23m77 0h15m20 0h32m70 0h6m205 0h4M95 209.9h20m4 0h36m68 0h23m43 0h6m113 0h26m51 0h19m42 0h11M120 210.7h19m487 0h12M95 211.5h27m13 0h4m237 0h10m65 0h9m64 0h8m97 0h15M129 212.3h4m124 0h10m54 0h4m0 0h25m35 0h23m140 0h31m4 0h11M95 213.1h7m29 0h7m69 0h28m7 0h8m171 0h12m177 0h5m20 0h4M100 213.9h14m128 0h33m131 0h4m222 0h12M143 214.7h20m7 0h15m192 0h47m0 0h13m13 0h5m57 0h4M104 215.5h15m100 0h44m76 0h4m145 0h4m25 0h4m30 0h5m85 0h3M155 216.3h52m11 0h17m0 0h23m65 0h5m0 0h37m53 0h43m11 0h4m51 0h9m42 0h14M101 217.1h60m41 0h13m123 0h19m7 0h4m93 0h29m8 0h4m5 0h35m4 0h4m59 0h11M121 217.9h28m0 0h9m114 0h18m78 0h90m119 0h5m40 0h22M109 218.7h54m9 0h18m38 0h18m27 0h48m99 0h19m114 0h7M112 219.5h6m77 0h14m0 0h13m5 0h39m4 0h11m16 0h9m66 0h9M151 220.3h4m51 0h51m243 0h33m45 0h23M95 221.1h25m142 0h53m38 0h10m151 0h34m13 0h51m0 0h32M137 221.9h4m24 0h65m18 0h4m311 0h7m16 0h10m27 0h5M125 222.7h35m73 0h7m73 0h109m57 0h4m54 0h22M104 223.5h9m193 0h34m122 0h13m82 0h35m26 0h15M99 224.3h10m150 0h115m77 0h21m24 0h43m78 0h20M207 225.1h11m25 0h7m49 0h27m92 0h5m132 0h6M128 225.9h24m157 0h4m139 0h18M95 226.7h12m38 0h8m28 0h18m53 0h28m52 0h18m27 0h10m72 0h69m81 0h12M114 227.5h4m14 0h73m210 0h33m82 0h9M158 228.3h5m75 0h22m16 0h16m6 0h75m35 0h31m79 0h13m0 0h22m80 0h11M105 229.1h4m76 0h16m14 0h29m37 0h14m37 0h15m0 0h4m44 0h43m59 0h78m19 0h24M140 229.9h7m57 0h19m77 0h9m40 0h10m4 0h106m4 0h6m89 0h4m15 0h11M403 230.7h9m49 0h27m103 0h22M385 231.5h10m74 0h23m43 0h54m18 0h22m12 0h3M252 232.3h15m0 0h41m53 0h4m20 0h8m12 0h7m101 0h9m97 0h4M95 233.1h1m76 0h19m119 0h51m16 0h17m134 0h13m58 0h6M158 233.9h7m102 0h54m115 0h19m78 0h8M218 234.7h6m17 0h31m12 0h7m45 0h39m18 0h4m236 0h11M95 235.5h50m5 0h4m75 0h28m0 0h15m108 0h26m23 0h15m158 0h10M109 236.3h6m96 0h38m18 0h51m31 0h20m7 0h13m18 0h6m58 0h10m61 0h4m61 0h16m11 0h10M108 237.1h11m31 0h20m4 0h60m0 0h97M386 237.9h15M138 238.7h13m19 0h6m175 0h4m77 0h35m32 0h39m50 0h20M126 239.5h6m14 0h5m9 0h15m160 0h14m63 0h6m185 0h21M172 240.3h7m4 0h14m51 0h17m54 0h22m49 0h4m46 0h20M121 241.1h4m249 0h21m25 0h32M131 241.9h11m99 0h17M95 242.7h112m176 0h55m4 0h8m8 0h10m53 0h4m69 0h5M121 243.5h23m0 0h21m112 0h34m106 0h6m51 0h10m125 0h19M95 244.3h45m97 0h23m90 0h14m215 0h30m29 0h6M153 245.1h16m84 0h35m4 0h7m49 0h4m129 0h52m22 0h21m57 0h11M116 245.9h10m4 0h6m130 0h4m49 0h4m17 0h9m77 0h23m102 0h29M132 246.7h24m14 0h13m111 0h31m70 0h5m5 0h9m0 0h12m0 0h39m88 0h4M95 247.5h39m186 0h50m84 0h63m34 0h17M95 248.3h10m181 0h16m41 0h4m125 0h6M95 249.1h40m49 0h10m17 0h4m95 0h29m42 0h31m110 0h10M141 249.9h30m82 0h38m22 0h56m63 0h12m133 0h11M269 250.7h28m63 0h27m238 0h19M95 251.5h26m161 0h37m4 0h11m116 0h10m0 0h4m45 0h56M284 252.3h19m166 0h5m21 0h5m8 0h10M145 253.1h18m28 0h5m37 0h4m164 0h46m47 0h28m87 0h13m16 0h6M395 253.9h15m36 0h82m4 0h32M95 254.7h13m29 0h101m41 0h5m24 0h36m60 0h9m48 0h30m145 0h8M95 255.5h35m26 0h9m19 0h18m204 0h20m54 0h5m78 0h20m9 0h11M439 256.3h11m53 0h48m0 0h64M95 257.1h13m14 0h10m26 0h13m115 0h12m13 0h38m9 0h11m123 0h19m32 0h24m41 0h8m5 0h19M101 257.9h9m148 0h11m46 0h21M96 258.7h10m0 0h12m11 0h5m144 0h7m223 0h79m31 0h26M290 259.5h17m64 0h16m22 0h14m82 0h21m91 0h6m12 0h9M227 260.3h20m13 0h11m33 0h15m14 0h37m6 0h21M427 261.1h35m91 0h16m22 0h33M113 261.9h4m0 0h17m228 0h38m94 0h20M319 262.7h4m4 0h4m251 0h23m36 0h3M178 263.5h19m63 0h4m73 0h17m75 0h41m64 0h23M181 264.3h5m131 0h21m84 0h17m128 0h4M168 265.1h19m15 0h14m184 0h30m4 0h15m4 0h42M95 265.9h28m47 0h12m126 0h13m20 0h9m4 0h6m78 0h41M194 266.7h25m15 0h60m0 0h29m16 0h29m129 0h7m77 0h4M221 267.5h11m9 0h68m67 0h39m35 0h47m123 0h24M159 268.3h27m45 0h4m52 0h10m50 0h18m164 0h4M172 269.1h5m9 0h20m99 0h72m23 0h12m21 0h12m98 0h19m4 0h29m19 0h7m4 0h6M290 269.9h39m52 0h12m70 0h21m33 0h27m0 0h5m61 0h6" stroke="#8c564b"/><path d="M100 143.5h4m0 0h7m218 0h6M139 144.3h32m71 0h10m176 0h4m124 0h23M95 145.1h26m14 0h4m201 0h34m13 0h14m21 0h18m190 0h12M416 145.9h5m0 0h4m78 0h20M282 146.7h18m90 0h7m40 0h22m4 0h34m18 0h4m8 0h4m105 0h8M295 147.5h5m233 0h4M160 148.3h13m0 0h12m9 0h4m115 0h4m100 0h9m9 0h8m30 0h9m56 0h5m64 0h35M195 149.1h20m36 0h11m125 0h12m173 0h40M204 149.9h17m277 0h37m16 0h11m70 0h4M95 150.7h2m74 0h4m4 0h20m113 0h19m22 0h35m4 0h24m64 0h4m31 0h4m53 0h13M207 151.5h59m117 0h22m50 0h14m128 0h17M199 152.3h24m45 0h18M95 153.1h4m4 0h14m211 0h22m5 0h47m0 0h38m82 0h15M586 153.9h4m44 0h10M95 154.7h17m137 0h19M108 155.5h13m28 0h22m69 0h10m6 0h13m279 0h5M145 156.3h11m31 0h15m33 0h4m54 0h9m293 0h10m7 0h7M116 157.1h4m119 0h64m156 0h31m88 0h46M132 157.9h27m258 0h20M269 158.7h8m179 0h4m108 0h12M351 159.5h26m112 0h10m30 0h12m45 0h5M257 160.3h33m40 0h4m61 0h63m32 0h44M142 161.1h6m26 0h46m35 0h39m125 0h12m110 0h60M411 161.9h15m93 0h14m26 0h4m65 0h16M202 162.7h20m191 0h4m89 0h20m4 0h4m44 0h11M95 163.5h15m98 0h9m28 0h12m45 0h15m184 0h49m83 0h4M264 164.3h34m237 0h84M107 165.1h4m36 0h4m4 0h6m0 0h4m38 0h17m19 0h4m142 0h4m31 0h7m87 0h6m4 0h12M95 165.9h62m212 0h4M95 166.7h32m156 0h17m18 0h13m0 0h6m147 0h16m92 0h6m14 0h23M114 167.5h11m70 0h53m77 0h30m75 0h8m4 0h14m16 0h4m23 0h11m27 0h29m53 0h25M162 168.3h4m144 0h55m111 0h4m131 0h6M120 169.1h18m145 0h14m33 0h4m65 0h4m36 0h4m60 0h19m48 0h35M208 169.9h5m4 0h12m161 0h27m12 0h8m16 0h68m4 0h25M95 170.7h4m173 0h7m219 0h41m31 0h23M113 171.5h4m21 0h21m458 0h10M208 172.3h4m99 0h20m4 0h20m12 0h17m18 0h50m45 0h4m57 0h6M113 173.1h18m45 0h16m107 0h31m225 0h4m27 0h21M117 173.9h26m31 0h13m109 0h29m8 0h8m35 0h8m42 0h12m116 0h23M126 174.7h40m54 0h9m38 0h22m4 0h11m39 0h19m29 0h50m201 0h2M132 175.5h29m144 0h10m53 0h4m126 0h110M95 176.3h4m28 0h16m27 0h5m6 0h12m120 0h7m150 0h20m0 0h77M177 177.1h44m50 0h33m293 0h47M126 177.9h4m10 0h23m14 0h15m17 0h13m82 0h5m112 0h39m11 0h6m98 0h7m19 0h30M110 178.7h20m45 0h27m60 0h4m61 0h5m208 0h4M105 179.5h4m139 0h28m172 0h8m70 0h28M240 180.3h4m44 0h7m43 0h4m213 0h19M112 181.1h70m157 0h4M492 181.9h4m23 0h79m17 0h12M302 182.7h4m214 0h24m66 0h20M279 183.5h28m32 0h4m40 0h12m77 0h14m38 0h4m60 0h7M178 184.3h16m105 0h19m114 0h7m4 0h42m108 0h4M141 185.1h27m65 0h9m94 0h19m136 0h38m64 0h14M193 185.9h6m4 0h4m32 0h4m36 0h10m61 0h27m97 0h11m25 0h12M104 186.7h29m66 0h20m15 0h26m39 0h6m44 0h4m132 0h84m7 0h31M199 187.5h9m123 0h59m65 0h4m176 0h9M95 188.3h6m225 0h7m52 0h9M98 189.1h7m213 0h4m152 0h27m67 0h43M123 189.9h39m61 0h6m289 0h7M106 190.7h4m70 0h19m313 0h32m47 0h4M200 191.5h28m268 0h28m0 0h7m15 0h43M150 192.3h9m12 0h11m8 0h13m178 0h9m112 0h17m4 0h20m84 0h17M112 193.1h12m131 0h19m4 0h6m186 0h19m7 0h34m17 0h7M164 193.9h8m142 0h10m6 0h4m52 0h69m46 0h8m113 0h4M248 194.7h53m27 0h8m30 0h5m93 0h12m128 0h4M121 195.5h61m323 0h71M98 196.3h23m35 0h4m31 0h4m121 0h22m133 0h4m49 0h4m95 0h13M95 197.1h33m115 0h10m254 0h4m71 0h14M95 197.9h27m4 0h4m37 0h46m19 0h27m8 0h34m27 0h26m215 0h4M95 198.7h4m19 0h4m16 0h26m17 0h4m16 0h4m231 0h21M219 199.5h14m114 0h44M95 200.3h16m36 0h9m241 0h8M165 201.1h18m52 0h15m30 0h31m16 0h5m161 0h11m32 0h36M95 201.9h12m5 0h4m42 0h5m66 0h16m45 0h18m299 0h15M134 202.7h14m319 0h20m114 0h22M157 203.5h5m74 0h10m135 0h22m21 0h15m80 0h26M95 204.3h25m49 0h8m89 0h8m7 0h14m315 0h21M161 205.1h4m146 0h4m86 0h51m22 0h22m51 0h21m44 0h32M110 205.9h8m183 0h7m23 0h37m108 0h4M104 206.7h6m63 0h26m8 0h56m33 0h29m49 0h4m160 0h13m18 0h14M121 207.5h6m75 0h5m63 0h16m43 0h14m179 0h10m79 0h12m0 0h21M95 208.3h35m83 0h4m33 0h4m235 0h21m11 0h22M147 209.1h35m68 0h4m51 0h12m187 0h7m14 0h19M115 209.9h4m127 0h15m6 0h8m184 0h7m38 0h42m11 0h52M157 210.7h21m39 0h8m92 0h12m114 0h73M171 211.5h16m103 0h9m63 0h10m18 0h10m60 0h6m118 0h45M97 212.3h10m210 0h4m29 0h35m23 0h39M138 213.1h52m243 0h4m55 0h7m0 0h55M153 213.9h17m23 0h15m85 0h13m163 0h4M115 214.7h28m20 0h7m153 0h13m13 0h28m65 0h8m5 0h57m4 0h13M469 215.5h9m4 0h6m8 0h21m93 0h8M95 216.3h60m107 0h52m282 0h20M167 217.1h15m46 0h22m48 0h40m101 0h18m33 0h8M534 217.9h43m5 0h33M365 218.7h10m64 0h62m22 0h4m0 0h26m7 0h7m4 0h11M95 219.5h17m56 0h27m86 0h4m337 0h4M130 220.3h6m19 0h8m370 0h31m37 0h15M218 221.1h13m279 0h4M141 221.9h19m70 0h9M116 222.7h5m301 0h39m14 0h4m4 0h30m72 0h24M301 223.5h5m327 0h8M109 224.3h12m257 0h16m151 0h28m34 0h10M162 225.1h31m144 0h12m63 0h6M349 225.9h16m105 0h17m25 0h16m16 0h21M112 226.7h9m207 0h4m55 0h16m157 0h27m4 0h18M108 227.5h6m4 0h14m96 0h101m300 0h15M272 228.3h4m167 0h57m76 0h12M109 229.1h35m0 0h26m268 0h10m29 0h4m94 0h14m0 0h5M147 229.9h30m46 0h12m4 0h8m29 0h24m9 0h16m212 0h31m65 0h11M95 230.7h5m270 0h9m113 0h4m117 0h31M105 231.5h19m46 0h48m45 0h18m23 0h40m107 0h4m37 0h5m132 0h12M95 232.3h56m214 0h20m8 0h4m24 0h6m20 0h15m8 0h7m32 0h4m9 0h26m54 0h10M246 233.1h20m275 0h8m71 0h19M552 233.9h12m52 0h24M125 234.7h9m62 0h22m54 0h12m7 0h23m61 0h14m48 0h6M154 235.5h4m60 0h11m43 0h13m7 0h11m141 0h61m12 0h4m103 0h8m4 0h8M95 236.3h14m91 0h11m46 0h10m130 0h10m58 0h6m75 0h4M95 237.1h13M125 237.9h11m95 0h30m4 0h28m186 0h29m21 0h76M151 238.7h13m66 0h4m48 0h59m46 0h28m52 0h4m110 0h7M95 239.5h11m69 0h14m435 0h13M197 240.3h36m227 0h36m59 0h4m19 0h4m31 0h4M95 241.1h11m67 0h40m87 0h4m91 0h21m87 0h4m34 0h4m24 0h13M203 241.9h19m15 0h4m164 0h4m16 0h17m17 0h4m72 0h20m22 0h49m7 0h4M207 242.7h6m73 0h85m0 0h4m75 0h4m53 0h9m9 0h23m0 0h9M112 243.5h9m241 0h12m140 0h19m15 0h53M140 244.3h11m51 0h30m0 0h5m324 0h18m39 0h15M95 245.1h39m154 0h4m60 0h29m96 0h4m145 0h7M95 245.9h21m24 0h45m168 0h56m13 0h4m23 0h5m178 0h8M95 246.7h28m206 0h25m7 0h25m0 0h9m162 0h9M535 247.5h16M174 248.3h17m156 0h90m31 0h4M178 249.1h6m56 0h19m33 0h9m38 0h42m59 0h20M209 249.9h44m48 0h12m243 0h21m30 0h4M297 250.7h44m61 0h13m35 0h13m21 0h50m0 0h7m5 0h6M334 251.5h11M118 252.3h85m15 0h18m128 0h4m121 0h6m94 0h33M278 253.1h23m146 0h4M99 253.9h34M238 254.7h30m149 0h44m123 0h52M142 255.5h14m138 0h16m116 0h4m0 0h50m79 0h4m58 0h10M397 256.3h5m24 0h4M132 257.1h26m79 0h13m99 0h9m164 0h21m24 0h4M110 257.9h39m0 0h12m175 0h12M118 258.7h11m156 0h25m24 0h4m88 0h32m129 0h8m19 0h4M260 259.5h30m17 0h29m16 0h11m24 0h6m8 0h8m35 0h27m5 0h11m100 0h22M95 260.3h13m211 0h10m237 0h21M158 261.1h6m26 0h28m0 0h4m98 0h15m58 0h34m91 0h16M95 261.9h10m4 0h4m287 0h4m21 0h38m91 0h14M394 262.7h15m63 0h43m4 0h12M201 263.5h16m47 0h73m21 0h4m34 0h4m25 0h4M95 264.3h11m80 0h12m40 0h4m50 0h4m42 0h4m36 0h9m176 0h4m13 0h4M245 265.1h38m147 0h4m15 0h4m42 0h4m62 0h6m63 0h14M255 265.9h53m56 0h29M323 266.7h16m38 0h33m4 0h25m69 0h26m19 0h28m50 0h13M309 267.5h56m67 0h6m99 0h29M365 268.3h9m43 0h42m168 0h17M95 269.1h2m117 0h69m98 0h19m231 0h11M116 269.9h31m182 0h13m4 0h17m30 0h18m0 0h52m86 0h17m50 0h23" stroke="#7f7f7f"/><path d="M145 143.5h37M179 144.3h14M262 145.1h27m15 0h11m86 0h4m7 0h10m52 0h25m11 0h13m51 0h4M225 145.9h20m288 0h50M196 146.7h17M116 147.5h5m6 0h7m407 0h103M198 148.3h18m49 0h48m43 0h22m69 0h13m41 0h4M343 149.1h7M535 149.9h9M97 150.7h28m74 0h29m8 0h25m84 0h8M95 151.5h16m453 0h17M186 152.3h4m118 0h121M99 153.1h4m134 0h32m42 0h4m35 0h5m100 0h15M184 153.9h4m4 0h14m30 0h4M278 154.7h11m4 0h35m50 0h27m238 0h1M145 155.5h4m63 0h28m10 0h6m131 0h4m132 0h16M239 156.3h24m127 0h13m8 0h8m126 0h10M392 157.1h4M102 157.9h19m144 0h6m128 0h11m54 0h34m83 0h4m8 0h47M95 158.7h58m19 0h34m121 0h9m0 0h7m4 0h5m232 0h4M534 160.3h13m63 0h13M220 161.1h28M210 161.9h38m51 0h18m9 0h10m104 0h9m23 0h47M147 162.7h26m49 0h4M124 163.5h16M492 164.3h6M119 165.1h9m178 0h13m62 0h4m22 0h13m11 0h4m101 0h16M282 165.9h4m172 0h5m30 0h21M415 166.7h30M438 167.5h4M182 168.3h53M403 169.1h8M101 169.9h4m0 0h14m162 0h24M178 170.7h76m25 0h38m133 0h4m40 0h4M134 171.5h4m62 0h121m4 0h44M275 172.3h4m222 0h20M95 173.1h12m58 0h11m161 0h99M106 173.9h11m26 0h7m220 0h6M229 174.7h38m51 0h21m119 0h57M113 175.5h8m194 0h53m61 0h4M143 176.3h7m4 0h10m156 0h23M257 177.1h10m326 0h4M115 177.9h7m338 0h11m99 0h5m60 0h5M158 178.7h17m91 0h23m213 0h38m71 0h7M99 179.5h6m93 0h10m182 0h58M226 180.3h14m71 0h13m99 0h52m134 0h22M205 181.1h4m329 0h4M195 181.9h15m54 0h4M161 182.7h42m95 0h4m173 0h16M167 183.5h18m48 0h6m267 0h18M110 184.3h54m131 0h4m52 0h56m156 0h12M95 185.1h46m101 0h52m163 0h9M289 185.9h40m72 0h53m12 0h4m94 0h60M95 186.7h9m29 0h50m154 0h4m270 0h16M212 187.5h65M199 188.3h98m36 0h4m13 0h7m23 0h5m9 0h18m49 0h4M105 189.1h4m87 0h32m24 0h14m18 0h5m231 0h4M106 189.9h17m70 0h14m54 0h10m100 0h9M141 190.7h9m357 0h5m83 0h32M286 191.5h4m38 0h39m26 0h6m46 0h8M267 192.3h8m25 0h4m243 0h17M352 193.1h4m8 0h5m185 0h8M121 193.9h4m440 0h4M95 194.7h6m57 0h29m297 0h4m92 0h5M182 195.5h12M253 196.3h4m218 0h24m29 0h29M253 197.1h9M513 197.9h56m32 0h11M405 198.7h4m97 0h4M238 199.5h4m88 0h17m44 0h4m8 0h30m138 0h11m8 0h4M543 200.3h16M183 201.1h36m169 0h47m179 0h10M405 201.9h16m84 0h52m65 0h8m4 0h10M126 202.7h8m420 0h7m80 0h3M95 203.5h62m263 0h4m80 0h15m84 0h18m20 0h3M177 204.3h4m93 0h7m14 0h4m120 0h7m80 0h4m66 0h30M169 205.1h6m15 0h28m121 0h62m95 0h22M98 205.9h4m79 0h7m38 0h4m155 0h4m151 0h45M325 206.7h40m161 0h12M95 207.5h26m64 0h17m141 0h6M263 208.3h14m168 0h38M278 209.1h4m74 0h45m75 0h11m6 0h11m7 0h14m73 0h32m4 0h10M320 209.9h67M207 210.7h10m69 0h31m199 0h19M313 211.5h29m44 0h4M95 212.3h2m28 0h4m76 0h9m53 0h17M107 213.1h24m170 0h20M95 213.9h5m238 0h6m12 0h40m51 0h17m15 0h10m45 0h98M95 214.7h1m140 0h37m267 0h73m11 0h20M142 215.5h14m405 0h15M319 216.3h4m42 0h19m208 0h4M502 217.1h5M207 217.9h9m6 0h50m18 0h14m25 0h4M194 218.7h29m98 0h13m167 0h12m54 0h4m63 0h10M501 219.5h62M163 220.3h6m220 0h16m19 0h54M195 221.1h23m13 0h31m105 0h17M160 221.9h5m205 0h7m123 0h57M121 222.7h4m115 0h14m305 0h4M113 223.5h73m154 0h11m103 0h4M374 224.3h4m16 0h19M133 225.1h7m186 0h11m119 0h4m101 0h14M152 225.9h38m297 0h25m16 0h12m78 0h19M107 226.7h5m65 0h4m222 0h50m168 0h4M104 227.5h4m236 0h23m5 0h28m67 0h7m124 0h31M163 228.3h4m125 0h6m214 0h6M481 229.1h16m121 0h22M95 229.9h10m72 0h27m56 0h16M100 230.7h9m196 0h6m51 0h8M218 231.5h20m130 0h10M321 232.3h40m71 0h9m60 0h4M96 233.1h35m60 0h32m171 0h48m197 0h5M130 233.9h5m186 0h4m21 0h34m92 0h14M168 234.7h28m426 0h11M158 235.5h60m148 0h14m232 0h4M131 236.3h69m118 0h31m222 0h10M141 237.1h4m288 0h14m25 0h68m61 0h5M136 237.9h28m24 0h19m226 0h46M176 238.7h5m174 0h4m7 0h21M292 239.5h7m82 0h31M496 240.3h30m56 0h27M136 241.1h6m357 0h4m107 0h34M95 241.9h36m91 0h15m176 0h12m77 0h4m17 0h12m20 0h14m73 0h2M213 242.7h5m27 0h41m152 0h4m26 0h8M169 243.5h53m93 0h22m147 0h30m91 0h4M492 244.3h69M149 245.1h4m239 0h13m198 0h23M136 245.9h4m130 0h7m46 0h17m78 0h4m48 0h55m55 0h52M156 246.7h5m129 0h4m308 0h5M169 247.5h47m154 0h5m212 0h50M105 248.3h31m5 0h4m157 0h35m247 0h20M269 249.1h23m168 0h47M113 249.9h20m240 0h4m127 0h15m84 0h4m4 0h7M262 250.7h7m272 0h5m30 0h8m30 0h11M121 251.5h6m52 0h13m242 0h16M280 252.3h4m145 0h15m12 0h9M95 253.1h4m202 0h14m82 0h4m144 0h16M207 253.9h10m311 0h4M108 254.7h29m131 0h11m65 0h55m14 0h4M165 255.5h19m40 0h49m53 0h12m199 0h22M106 256.3h35m13 0h84m181 0h7M511 257.1h11m94 0h5M283 257.9h22m96 0h18m69 0h28m0 0h8m102 0h18M139 258.7h53M208 259.5h44m111 0h4m120 0h14M115 260.3h40m11 0h45m288 0h4m45 0h11m28 0h9M102 261.1h10m530 0h2M185 261.9h20m258 0h20M331 262.7h14m0 0h17m153 0h4m12 0h51M384 263.5h12m4 0h21m49 0h50M229 264.3h9m333 0h9M187 265.1h15m110 0h74m211 0h33M577 265.9h37m9 0h21M137 266.7h57m245 0h51M200 267.5h4M235 268.3h4m35 0h4m96 0h33m52 0h16M122 269.1h43m212 0h4m145 0h17M95 269.9h17m251 0h4m199 0h39m34 0h5" stroke="#17becf"/></g>
<g fill="none" stroke-width="0.95"><path d="M149 388.5h11m66 0h25m10 0h4m38 0h16m44 0h7m117 0h22m29 0h24m4 0h40M95 389.3h6m142 0h5m38 0h25m8 0h9m201 0h4m73 0h30M133 390.1h35m103 0h6m193 0h13M102 390.9h6m42 0h4m32 0h22m11 0h4m0 0h4m18 0h5m14 0h4m85 0h50m172 0h4M103 391.7h4m36 0h8m11 0h24m4 0h5m29 0h10m161 0h22m102 0h8m29 0h5m81 0h2M250 392.5h27m61 0h6m0 0h15m16 0h13m0 0h45m23 0h19m16 0h8m129 0h4m5 0h7M211 393.3h29m0 0h28m52 0h62m49 0h11m0 0h6m11 0h5m4 0h5M118 394.1h6m20 0h20m4 0h36m20 0h34m107 0h6m128 0h8m0 0h4m31 0h15m21 0h9M165 394.9h17m31 0h4m80 0h11m171 0h19m119 0h27M103 395.7h4m5 0h36m69 0h4m136 0h7m58 0h61m61 0h47m9 0h10M172 396.5h4m15 0h6m42 0h10m91 0h26m18 0h7m36 0h4m46 0h9m61 0h4M95 397.3h43m0 0h4m61 0h4m51 0h36m56 0h39m113 0h11m46 0h4m0 0h14M146 398.1h5m51 0h51m0 0h8m109 0h17m21 0h34m89 0h27m24 0h44M95 398.9h9m14 0h38m70 0h16m12 0h4m145 0h20m63 0h22m88 0h5m30 0h9M183 399.7h19m21 0h9m151 0h15m87 0h121M105 400.5h26m94 0h30m46 0h29m24 0h20m32 0h91m13 0h38M101 401.3h10m21 0h67m0 0h32m110 0h38m28 0h7m46 0h12m21 0h25m57 0h17M95 402.1h27m28 0h35m50 0h7m104 0h4m48 0h32m10 0h29m10 0h16m20 0h63M138 402.9h28m118 0h31m20 0h4m55 0h94m32 0h30m58 0h36M111 403.7h16m18 0h6m4 0h16m142 0h15m188 0h8m46 0h14M95 404.5h15m35 0h44m39 0h19m0 0h10m24 0h12m47 0h10m7 0h16m98 0h17m67 0h4m26 0h4M359 405.3h4m267 0h7M119 406.1h4m85 0h33m9 0h4m36 0h11m55 0h75m20 0h8m53 0h4m62 0h36M294 406.9h10m36 0h16m42 0h30m46 0h5m8 0h16m35 0h4m65 0h12M95 407.7h58m35 0h8m22 0h93m30 0h34m0 0h10m9 0h100m0 0h42m17 0h8M144 408.5h6m28 0h27m130 0h5m0 0h5m48 0h13m222 0h10M138 409.3h25m17 0h15m159 0h11m92 0h5m77 0h4m6 0h4M121 410.1h37m46 0h34m44 0h14m0 0h11m61 0h5m4 0h4m11 0h32m4 0h21m21 0h14m58 0h10m15 0h7M218 410.9h32m43 0h4m168 0h63m4 0h6m6 0h17m21 0h9M196 411.7h10m52 0h29m0 0h4m0 0h22m16 0h84m141 0h4M173 412.5h4m56 0h40m48 0h24m4 0h30m37 0h18m109 0h12m0 0h12m25 0h4M209 413.3h4m31 0h18m34 0h21m44 0h7m68 0h8m0 0h16m73 0h7m43 0h34M95 414.1h5m0 0h88m82 0h18m18 0h10m0 0h25m44 0h16m43 0h22m123 0h7m17 0h9m0 0h16M104 414.9h4m44 0h49m63 0h64m35 0h45m10 0h32m14 0h4M96 415.7h9m49 0h6m26 0h16m22 0h37m129 0h9m229 0h4M101 416.5h4m4 0h6m23 0h19m104 0h59m95 0h55m52 0h4m87 0h5M201 417.3h14m140 0h4m61 0h43m76 0h19m21 0h21M214 418.1h107m52 0h45m75 0h11m28 0h25m30 0h57M95 418.9h4m102 0h36m11 0h12m200 0h4m91 0h42m11 0h23m12 0h1M107 419.7h15m123 0h4m70 0h20m78 0h9m24 0h39m6 0h45m77 0h16m0 0h11M95 420.5h71m45 0h29m19 0h64m129 0h23m56 0h9m35 0h4m8 0h41M95 421.3h13m12 0h5m51 0h27m41 0h5m41 0h47m34 0h6m86 0h5m59 0h21M95 422.1h4m8 0h16m241 0h4m245 0h9m4 0h18M112 422.9h40m18 0h4m22 0h12m21 0h7m10 0h6m11 0h16m0 0h20m7 0h29m197 0h10m23 0h16M109 423.7h55m23 0h9m301 0h28m8 0h22m44 0h12M131 424.5h4m54 0h24m284 0h21m42 0h14M241 425.3h63m75 0h9m34 0h8m81 0h11m63 0h10M108 426.1h39m102 0h26m90 0h20m82 0h85M186 426.9h67m36 0h21m31 0h5m49 0h4m65 0h4m10 0h20m50 0h28m0 0h28m13 0h14M132 427.7h11m50 0h40m58 0h25m98 0h45m7 0h4m134 0h14M116 428.5h10m30 0h33m206 0h21m0 0h105m76 0h45M150 429.3h21m92 0h7m83 0h4m31 0h32m81 0h17m19 0h4m82 0h19M182 430.1h15m0 0h16m26 0h4m28 0h6m10 0h15m42 0h10m163 0h8m100 0h14M123 430.9h4m13 0h4m5 0h68m108 0h4m143 0h30m22 0h24m65 0h31M100 431.7h39m108 0h18m100 0h33m55 0h21m73 0h4m4 0h12m0 0h17m0 0h16m4 0h36M102 432.5h37m25 0h17m59 0h22m21 0h14m0 0h12m14 0h10m171 0h21m44 0h28m16 0h26M95 433.3h38m29 0h24m79 0h16m89 0h4m0 0h9m60 0h7m86 0h5m27 0h4M186 434.1h15m108 0h16m88 0h23m50 0h53m71 0h27M95 434.9h28m42 0h4m77 0h5m0 0h8m39 0h80m4 0h34m85 0h7m82 0h54M95 435.7h23m59 0h80m63 0h5m5 0h10m24 0h11m158 0h39M423 436.5h4m41 0h5m41 0h4m93 0h4m21 0h8M95 437.3h8m90 0h89m37 0h19m28 0h12m4 0h42m65 0h4m57 0h73m13 0h8M187 438.1h4m6 0h4m48 0h10m114 0h4m108 0h38M197 438.9h44m256 0h54M97 439.7h11m4 0h22m21 0h7m154 0h16m88 0h8m44 0h4m40 0h9m29 0h22m19 0h49M198 440.5h67m10 0h14m4 0h13m84 0h7m19 0h4m16 0h18m140 0h50M106 441.3h88m85 0h29m22 0h4m188 0h4m14 0h15m66 0h4M95 442.1h3m45 0h16m5 0h8m36 0h119m57 0h21m19 0h9m9 0h7m29 0h16m58 0h54m0 0h38M128 442.9h45m4 0h7m4 0h7m14 0h17m57 0h70m17 0h4m25 0h28m209 0h8M100 443.7h5m327 0h27m65 0h72m20 0h20M223 444.5h4m4 0h8m20 0h16m50 0h8m8 0h62m13 0h10m43 0h4m26 0h8m25 0h11m70 0h9m11 0h7M235 445.3h42m227 0h25m26 0h89M223 446.1h12m113 0h6m30 0h26m108 0h11m30 0h10m0 0h47M130 446.9h39m15 0h6m9 0h5m191 0h13m25 0h5m149 0h33M95 447.7h2m77 0h4m52 0h11m18 0h4m10 0h7m35 0h6m65 0h5m62 0h4m19 0h17m92 0h4M95 448.5h28m31 0h4m9 0h4m4 0h43m159 0h38m48 0h76m8 0h4m9 0h13" stroke="#ff7f0e"/><path d="M251 388.5h10m10 0h32m206 0h6m4 0h19M158 389.3h33m4 0h48m5 0h38m42 0h4m186 0h11m4 0h50M95 390.1h25m0 0h13m304 0h33m68 0h54m5 0h4M108 390.9h42m77 0h6m17 0h14m4 0h41m17 0h9M95 391.7h8m131 0h17m231 0h37m8 0h29M138 392.5h52m5 0h33m49 0h37m237 0h46M145 393.3h4m4 0h19m276 0h11m5 0h4m34 0h4M95 394.1h23m6 0h20m114 0h11m0 0h42m183 0h5m12 0h8m105 0h20M95 394.9h70m52 0h4m28 0h8M95 395.7h8m4 0h5m79 0h26m66 0h29m52 0h58m99 0h19m56 0h4m10 0h21M116 396.5h13m7 0h24m141 0h22m100 0h4m97 0h23M247 397.3h11m57 0h21m99 0h67m11 0h46m18 0h67M151 398.1h34m85 0h7m5 0h6m0 0h47m22 0h13m256 0h9m4 0h5M114 398.9h4m38 0h13m4 0h53m44 0h8m105 0h13m0 0h7m20 0h40m95 0h8m35 0h30M202 399.7h21m78 0h17m146 0h4m0 0h5M187 400.5h28m40 0h6m73 0h4m298 0h4M231 401.3h35m26 0h45m0 0h4m60 0h6m42 0h11m58 0h57M122 402.1h28m35 0h50m7 0h10m0 0h35m103 0h4m36 0h4m61 0h20m63 0h34m5 0h4M102 402.9h36m39 0h33m16 0h23m20 0h6m40 0h20m4 0h4m4 0h43M95 403.7h16m20 0h14m6 0h4m137 0h21m15 0h4m196 0h5m60 0h21M125 404.5h20m343 0h48m23 0h26m48 0h11M143 405.3h20m123 0h8m138 0h23m121 0h54M164 406.1h6m4 0h21m81 0h14m11 0h55m160 0h4m40 0h18M95 406.9h8m88 0h52m90 0h7m25 0h33m30 0h46m68 0h4m57 0h4m16 0h21M311 407.7h8m66 0h9M112 408.5h4m58 0h4m79 0h68m64 0h4m13 0h27m26 0h24m44 0h53m5 0h43M95 409.3h43m126 0h82m41 0h70m43 0h39m4 0h6M95 410.1h26m37 0h10m70 0h19m0 0h21m110 0h4m57 0h21m14 0h4m86 0h29m4 0h7M95 410.9h47m396 0h6m17 0h10M161 411.7h10m0 0h17m23 0h4m98 0h16m84 0h34m38 0h8m65 0h73M95 412.5h11m25 0h9m54 0h4m75 0h7m9 0h22m34 0h4m30 0h37m78 0h4m78 0h16M95 413.3h25m93 0h31m31 0h21m21 0h16m22 0h6m39 0h36m24 0h4m49 0h20m84 0h4m11 0h12M207 414.1h17m64 0h18m116 0h14m4 0h4m22 0h9m4 0h7m89 0h14M143 414.9h5m260 0h10m32 0h14m174 0h6M95 415.7h1m225 0h36m59 0h25m23 0h5m4 0h51m46 0h23M95 416.5h6m14 0h23m182 0h29m4 0h19m98 0h4m52 0h33m27 0h27M130 417.3h34m177 0h14m112 0h9m4 0h28m4 0h11m35 0h21M120 418.1h14m70 0h10m310 0h8m25 0h30M131 418.9h9m20 0h41m40 0h7m124 0h81m11 0h78m0 0h4m51 0h11m27 0h8M175 419.7h41m4 0h25m4 0h53m37 0h16m8 0h26m0 0h28m9 0h24m94 0h60M166 420.5h45m112 0h23m94 0h8m27 0h12m10 0h12m17 0h5M116 421.3h4m221 0h30m6 0h82m9 0h6m123 0h39M180 422.1h48m28 0h17m19 0h66m67 0h76m34 0h22m65 0h4M95 422.9h17m96 0h21m70 0h7m179 0h39M363 423.7h52m5 0h5m29 0h29m42 0h4m45 0h14m23 0h24M101 424.5h21m5 0h4m4 0h54m245 0h39m16 0h8m36 0h27m52 0h25M149 425.3h43m112 0h75m9 0h34m58 0h31m11 0h10m4 0h10m49 0h31M95 426.1h13m167 0h10m131 0h51m106 0h15m0 0h4m22 0h9M171 426.9h15m98 0h5m39 0h13m98 0h25m9 0h5m36 0h15m15 0h4m83 0h13M95 427.7h37m101 0h11m109 0h28m0 0h15m63 0h7m15 0h7M126 428.5h30m69 0h10m115 0h24m5 0h6m196 0h16M107 429.3h8m72 0h23m60 0h23m151 0h24m14 0h15m55 0h61m29 0h2M95 430.1h37m32 0h18m31 0h6m34 0h18m57 0h16m10 0h118m71 0h25M95 430.9h21m0 0h7m21 0h5m180 0h22m6 0h5m34 0h58m48 0h4m58 0h49M216 431.7h31m18 0h18m6 0h8m41 0h17m0 0h10m109 0h9m29 0h8m120 0h4M139 432.5h16m202 0h67m31 0h24m46 0h6m0 0h38M186 433.3h5m54 0h20m34 0h59m25 0h4m18 0h38m7 0h26m7 0h53m5 0h27M126 434.1h48m230 0h9m126 0h11M123 434.9h30m16 0h73m17 0h39m80 0h4m34 0h8m44 0h33m79 0h4M284 435.7h36m79 0h17m59 0h21m115 0h31M111 436.5h60m4 0h44m8 0h44m67 0h25m53 0h7m124 0h6M103 437.3h21m48 0h17m93 0h7m49 0h28m101 0h18m138 0h13M162 438.1h25m4 0h6m326 0h89M114 438.9h8m0 0h6m113 0h41m116 0h99m54 0h5m7 0h12m49 0h13m6 0h1M95 439.7h2m65 0h25m67 0h7m106 0h53m8 0h44m4 0h18m8 0h14m9 0h10m41 0h10M187 440.5h11m199 0h19m4 0h4m30 0h4M95 441.3h7m123 0h18m7 0h25m241 0h6m4 0h14m15 0h5m65 0h13M117 442.1h22m33 0h10m22 0h4m119 0h6m25 0h26m21 0h19m70 0h17M95 442.9h29m60 0h4m239 0h39m27 0h15m9 0h46M161 443.7h32m21 0h18m5 0h4m67 0h28m78 0h4m0 0h4m174 0h16M403 444.5h9m95 0h10m46 0h38M145 445.3h16m70 0h4m122 0h4m168 0h26M241 446.1h54m6 0h6m13 0h13m77 0h18M169 446.9h15m20 0h7m141 0h43m124 0h8m4 0h33m0 0h18M137 447.7h37m71 0h9m9 0h10m7 0h27m302 0h27M123 448.5h31m4 0h9m285 0h11m76 0h4m54 0h4m6 0h20" stroke="#d62728"/><path d="M95 388.5h26m39 0h38m67 0h6m65 0h27m7 0h73m163 0h38M191 389.3h4m137 0h20m236 0h18m30 0h8M249 390.1h22m6 0h12m0 0h19m4 0h4m74 0h47m87 0h14m54 0h5M208 390.9h11m94 0h13m9 0h18m50 0h67M323 391.7h54M95 392.5h43m90 0h22m64 0h5m156 0h7m5 0h4m8 0h52M390 393.3h41m75 0h67m57 0h14M164 394.1h4m203 0h51m135 0h21m20 0h22M221 394.9h28m59 0h17m24 0h29m16 0h18m57 0h10m23 0h9m0 0h68M230 395.7h53m29 0h6m189 0h10m74 0h5M160 396.5h12m4 0h11m0 0h4m6 0h35m91 0h17m174 0h10m40 0h5M152 397.3h8m47 0h40m89 0h6m0 0h8M95 398.1h2m20 0h24m49 0h12m59 0h9m216 0h45m104 0h4M104 398.9h10m128 0h12m24 0h105m138 0h37M232 399.7h22m64 0h65m15 0h46m29 0h12m121 0h38M274 400.5h27m73 0h32m91 0h13m38 0h88m4 0h4M111 401.3h21m247 0h22m13 0h35m23 0h21m99 0h52M287 402.1h41m0 0h14m270 0h5m8 0h12M249 402.9h20m6 0h9m59 0h4M171 403.7h121m44 0h108m0 0h72m8 0h4m38 0h4m44 0h30M110 404.5h15m64 0h39m122 0h7m16 0h34m21 0h17m21 0h5m65 0h19m34 0h44M95 405.3h40m28 0h21m41 0h4m138 0h65m23 0h121m61 0h7M431 406.1h8m4 0h4m12 0h43m52 0h6m54 0h28M115 406.9h4m9 0h7m148 0h11m10 0h29m23 0h4m119 0h8m16 0h5M178 407.7h10m373 0h75M95 408.5h17m4 0h7m121 0h13m104 0h28m48 0h22m24 0h44m53 0h5m53 0h6M163 409.3h17m35 0h13m22 0h14m86 0h4m11 0h22m75 0h38m53 0h22M168 410.1h32m78 0h4m25 0h9m0 0h27m30 0h4m4 0h7m136 0h18m10 0h15M250 410.9h34m32 0h13m54 0h82m63 0h4m59 0h53M129 411.7h32m27 0h8m280 0h9m8 0h21m117 0h13M144 412.5h5m6 0h18m36 0h24m201 0h60m4 0h45m69 0h18M120 413.3h89m159 0h16m12 0h4m140 0h8M341 414.1h44m16 0h4m4 0h13m53 0h4m78 0h18M95 414.9h9m141 0h19m64 0h4m164 0h4m39 0h99M289 415.7h32m36 0h14m153 0h46M157 416.5h75m140 0h43m59 0h48M95 417.3h14m14 0h7m85 0h92m4 0h22m130 0h4m9 0h4m43 0h4m109 0h8M134 418.1h70m136 0h4m25 0h4m45 0h47m0 0h28m11 0h20M237 418.9h4m305 0h9M122 419.7h53m41 0h4m82 0h17m40 0h4m177 0h4m60 0h13M240 420.5h19m126 0h4m0 0h51m47 0h10m18 0h11m14 0h35m53 0h11M203 421.3h41m271 0h12m109 0h8M228 422.1h28m17 0h19m265 0h23M252 422.9h11m96 0h24m0 0h4m155 0h19m0 0h4m16 0h42M95 423.7h14m55 0h19m232 0h5m63 0h14m32 0h4M122 424.5h5m86 0h111m41 0h69m84 0h15m73 0h6m25 0h7M430 425.3h9m0 0h41m52 0h4m10 0h39m41 0h18M147 426.1h23m0 0h4m211 0h31m136 0h21m50 0h21M111 426.9h60m139 0h18m107 0h4m29 0h5M244 427.7h47m327 0h26M189 428.5h36m22 0h9m118 0h5m142 0h56m65 0h2M95 429.3h12m8 0h35m21 0h16m30 0h22m181 0h24M160 430.1h4m71 0h4m38 0h10m34 0h7m258 0h39M235 430.9h13m114 0h34m58 0h18M195 431.7h21m67 0h6m12 0h37m92 0h23m30 0h29m8 0h27M181 432.5h13m73 0h16m54 0h20m122 0h25m135 0h5M133 433.3h29m29 0h21m69 0h18m59 0h4m114 0h7m89 0h24M95 434.1h31m48 0h4m23 0h19m0 0h89m38 0h20m91 0h28m64 0h60M424 434.9h7m111 0h38M340 435.7h6m183 0h4M95 436.5h16m60 0h4m252 0h41m5 0h31m14 0h29m6 0h54M124 437.3h48m17 0h4m185 0h4m42 0h20m49 0h8m0 0h49M201 438.1h27m69 0h53m27 0h11m76 0h21M128 438.9h69m153 0h22m0 0h19m165 0h7m74 0h6M108 439.7h4m22 0h21m106 0h7m64 0h35m131 0h4m33 0h19m32 0h9M107 440.5h6m49 0h25m237 0h12m136 0h17M243 441.3h7m58 0h8m48 0h31m165 0h46m32 0h6M98 442.1h19m42 0h5m18 0h22m245 0h29m33 0h26M124 442.9h4m98 0h45m82 0h17m4 0h25m71 0h23m15 0h9M193 443.7h21m27 0h7m47 0h7m0 0h6m32 0h17m65 0h6m0 0h4m27 0h26M126 444.5h79m22 0h4m8 0h9m40 0h37m8 0h8m154 0h4M98 445.3h47m62 0h12m173 0h112M190 446.1h23m82 0h6m6 0h13m108 0h74m9 0h7m11 0h30m57 0h28M234 446.9h57m135 0h7m187 0h6M97 447.7h40m104 0h4m9 0h5m62 0h4m57 0h4m71 0h19m21 0h88M218 448.5h12m185 0h37m186 0h6" stroke="#8c564b"/><path d="M198 388.5h28m93 0h17m107 0h30m42 0h4m43 0h4M101 389.3h57m153 0h4m88 0h89m0 0h26m65 0h5M168 390.1h81m59 0h4m4 0h74m93 0h41m77 0h39m0 0h4M95 390.9h7m52 0h32m47 0h12m225 0h105m24 0h15m24 0h6M151 391.7h11m33 0h29m27 0h72m94 0h65m79 0h81M190 392.5h5m139 0h4m21 0h16m58 0h23m26 0h5m145 0h5M95 393.3h50m4 0h4m127 0h40m62 0h8m83 0h5M204 394.1h20m260 0h10m93 0h11M257 394.9h40m28 0h20m45 0h4m18 0h4m82 0h4m77 0h38M221 395.7h9m88 0h12m0 0h27m160 0h4m19 0h4M249 396.5h52m65 0h18m7 0h5m20 0h7m8 0h46m9 0h28m55 0h75M142 397.3h10m8 0h43m186 0h46M103 398.1h14m24 0h5m39 0h5m160 0h7m85 0h32m84 0h24M169 398.9h4m85 0h12m193 0h23m22 0h13m45 0h30m44 0h4M95 399.7h1m0 0h4m344 0h20M131 400.5h17m67 0h10m105 0h4m4 0h16M95 401.3h6m165 0h26M342 402.1h4m4 0h40m79 0h10M390 402.9h4m156 0h58M127 403.7h4m201 0h4M293 404.5h47m67 0h21m17 0h21M135 405.3h8m41 0h41M95 406.1h24m51 0h4m80 0h22m163 0h4m59 0h10m130 0h2M139 406.9h42m0 0h10m52 0h40m336 0h4M153 407.7h11m155 0h22m195 0h17m83 0h8M240 408.5h4m81 0h10m10 0h16M195 409.3h20m13 0h5m342 0h69M200 410.1h4m284 0h36m79 0h4m7 0h30M142 410.9h4m0 0h19m0 0h6m113 0h9m4 0h19m13 0h54m195 0h4M95 411.7h34m86 0h43m189 0h29m38 0h40M106 412.5h4m39 0h6m43 0h11m102 0h4m281 0h16M262 413.3h13m58 0h22M188 414.1h19m17 0h46m166 0h4m46 0h71m81 0h6M108 414.9h35m58 0h44m87 0h31m117 0h16m4 0h39M105 415.7h49m48 0h22m37 0h11m10 0h7m82 0h19m9 0h17m53 0h4m126 0h29m4 0h12M232 416.5h29m298 0h27m32 0h19m0 0h7M168 417.3h33m106 0h4m22 0h8m18 0h61m88 0h4m88 0h9m0 0h27M95 418.1h25M99 418.9h22m220 0h31m81 0h7m171 0h4M489 419.7h6M346 420.5h39m63 0h4m187 0h5M108 421.3h8m9 0h51m73 0h4m7 0h30m47 0h4m118 0h4M99 422.1h8m261 0h57m155 0h33M152 422.9h18m165 0h24m28 0h27m209 0h21M183 423.7h4m56 0h120m62 0h29m101 0h19m21 0h4m36 0h9M95 424.5h6m372 0h16m85 0h32M192 425.3h49M174 426.1h75m36 0h4m15 0h22m266 0h22M95 426.9h16m148 0h25m62 0h29m0 0h20m4 0h36m63 0h16m15 0h15M164 427.7h6m0 0h23m123 0h37m43 0h13m79 0h47m18 0h51M95 428.5h21m119 0h12m9 0h94m35 0h10m182 0h4M210 429.3h7m22 0h24m85 0h5m4 0h31m80 0h14m15 0h4m112 0h10M219 430.1h16m8 0h10m219 0h45m8 0h18m25 0h4M127 430.9h13m77 0h18m116 0h6m191 0h16M96 431.7h4m39 0h56m102 0h4m97 0h32m121 0h4M155 432.5h9m30 0h5m63 0h5m66 0h4m87 0h31m142 0h16M216 433.3h29m117 0h8m17 0h18m191 0h48M178 434.1h8m139 0h22m53 0h4m233 0h7M242 434.9h4m292 0h4m42 0h6M118 435.7h45m162 0h5m16 0h18m11 0h24m17 0h59m21 0h33m43 0h27M219 436.5h8m44 0h13m40 0h14m25 0h53m88 0h10m93 0h4M289 437.3h14m12 0h4m125 0h23m18 0h4M232 438.1h17m363 0h4M95 438.9h19m172 0h64M187 439.7h46m35 0h48m178 0h4M289 440.5h4m13 0h84m68 0h114m17 0h5M194 441.3h21m60 0h4m37 0h14m4 0h30M337 442.1h21m75 0h9m95 0h15M173 442.9h4m18 0h14m62 0h12m183 0h4m93 0h40M232 443.7h5m11 0h9m20 0h18m41 0h4m145 0h39m112 0h8M95 444.5h31m286 0h4m45 0h8m4 0h4m0 0h18m48 0h20m42 0h8m9 0h11M161 445.3h38m108 0h50m26 0h9M175 446.1h15m23 0h10m12 0h6m113 0h30m118 0h9M211 446.9h23m57 0h45m72 0h18m12 0h45m143 0h18M307 447.7h8m10 0h37m54 0h28m159 0h6m27 0h8M171 448.5h4m115 0h64m0 0h23m203 0h17m4 0h6m20 0h11" stroke="#7f7f7f"/><path d="M121 388.5h28m324 0h14M315 389.3h4m33 0h51M309 390.9h4m266 0h20m15 0h24M107 391.7h36m43 0h4m187 0h18M319 392.5h15m263 0h31M172 393.3h39m57 0h12m198 0h24m71 0h23m0 0h34M311 394.1h54m57 0h62m35 0h23m78 0h4M182 394.9h31m132 0h4m29 0h12m26 0h53M148 395.7h43m292 0h24m124 0h13M95 396.5h21m13 0h7m96 0h7m157 0h20m135 0h13M294 397.3h21M97 398.1h6m174 0h5m53 0h15m37 0h21m66 0h12M100 399.7h83m71 0h47M95 400.5h10m43 0h39m74 0h13M394 402.1h4m36 0h6m181 0h4m12 0h7M95 402.9h7m64 0h11m33 0h16m262 0h32M533 403.7h33m18 0h9M257 404.5h24M229 405.3h57m8 0h65m4 0h4M123 406.1h41m31 0h13m33 0h9m197 0h4m69 0h34M103 406.9h12m4 0h9m7 0h4m221 0h5m143 0h30m8 0h57M164 407.7h14m18 0h22M123 408.5h21m6 0h24m31 0h35m193 0h4M233 409.3h17m96 0h4M343 410.1h25m56 0h4M171 410.9h47m353 0h7M206 411.7h5M110 412.5h21m9 0h4m33 0h17m86 0h9m26 0h6m246 0h9m54 0h14M384 413.3h12m68 0h49m35 0h35m38 0h11M405 414.1h4m187 0h17M148 414.9h4m316 0h12M160 415.7h26m86 0h10m159 0h23m129 0h6M105 416.5h4m240 0h4M109 417.3h14m41 0h4m359 0h12M321 418.1h19m4 0h25M121 418.9h10m9 0h20m100 0h5m0 0h76M95 419.7h12m248 0h4M509 420.5h6m64 0h8M253 421.3h7m214 0h41m33 0h49M123 422.1h57m178 0h6m137 0h34M174 422.9h22m40 0h10m168 0h71m39 0h8M196 423.7h47m345 0h7M324 424.5h41M95 425.3h54M289 426.1h15m22 0h39M253 426.9h6m345 0h13M143 427.7h21m245 0h5m56 0h11m54 0h18M293 429.3h55m170 0h19m4 0h11M132 430.1h28m142 0h19m251 0h14m53 0h5M248 430.9h77m181 0h18M95 431.7h1m504 0h4M95 432.5h7m97 0h41m69 0h14M212 433.3h4M367 434.1h33m36 0h22M153 434.9h12m266 0h37m40 0h30M163 435.7h14m80 0h27m315 0h12m31 0h2M284 436.5h40m291 0h21M303 437.3h12M95 438.1h67m66 0h4m27 0h38m53 0h23m15 0h76m152 0h28M282 438.9h4m105 0h7m177 0h49M233 439.7h21M95 440.5h12m6 0h49m103 0h10M102 441.3h4m109 0h10m170 0h121m90 0h15M139 442.1h4m190 0h4M603 442.9h33M95 443.7h1m0 0h4m5 0h56m96 0h20m80 0h57m198 0h4M205 444.5h18m25 0h11m16 0h13m138 0h35m56 0h15m69 0h4m35 0h4M95 445.3h3m101 0h8m12 0h12m46 0h30m54 0h22M95 446.1h80m158 0h15M95 446.9h35m60 0h9m137 0h16m131 0h36m8 0h4m51 0h5M178 447.7h52m132 0h20m9 0h25m28 0h9m40 0h4m92 0h14M230 448.5h60m253 0h4m4 0h9m13 0h7" stroke="#17becf"/></g>
</g></g>
<path d="M101.2 391.8H638.0" stroke="#17becf" stroke-width="1.6"/>
<path d="M407 157.4h8M408 185.5h6M407 203.2h8" stroke="#fff" stroke-width="1"/>
<path d="M101.2 146.3 110.3 146.8 119.4 147.1 128.5 147 137.6 146.8 146.7 146.8 155.8 147.2 164.9 147.9 174 148.3 183.1 148.3 192.2 147.7 201.3 147.2 210.4 147 219.5 147.1 228.6 147.3 237.7 147.1 246.8 146.6 255.9 146.1 265 146.1 274.1 146.6 283.2 147.3 292.3 147.8 301.4 147.8 310.5 147.5 319.6 147.4 328.7 147.6 337.8 148 346.9 148.1 356 147.7 365.1 147 374.1 146.4 383.2 146.2 392.3 146.6 401.4 147 410.5 147 419.6 146.8 428.7 146.6 437.8 146.9 446.9 147.5 456 148.2 465.1 148.4 474.2 148 483.3 147.5 492.4 147.1 501.5 147.1 510.6 147.3 519.7 147.3 528.8 146.9 537.9 146.3 547 146 556.1 146.3 565.2 147 574.3 147.6 583.4 147.7 592.5 147.5 601.6 147.3 610.7 147.5 619.8 147.9 628.9 148.2 638 148" stroke="#a8503c" stroke-width="1.8" fill="none"/>
<rect x="101.2" y="746" width="536.8" height="124.6" fill="#a97b68"/>
<rect x="101.2" y="987.2" width="536.8" height="62.8" fill="#a97b68"/>
<clipPath id="cb"><path d="M101.2 746H638.0V870.6H101.2ZM101.2 987.2H638.0V1050H101.2Z"/></clipPath>
<g clip-path="url(#cb)"><g opacity="0.52" filter="url(#bl)">
<g fill="none" stroke-width="0.95"><path d="M95 742.8h11M260 743.6h4m183 0h31M208 744.4h23M199 745.2h44m77 0h4M115 746h4m11 0h6m73 0h4M236 747.6h5m102 0h34M192 748.4h14m203 0h4m47 0h13m101 0h20M121 749.2h14m14 0h19m0 0h26m27 0h7m13 0h13m289 0h18M231 750h20m193 0h10m120 0h4M580 750.8h6M191 751.6h59m264 0h38M315 752.4h4M569 753.2h11M471 754.8h18m60 0h9M521 755.6h25m35 0h7m37 0h18M174 756.4h9m446 0h11M319 757.2h6m155 0h20M300 758h10M109 758.8h7m86 0h61m43 0h83m80 0h4m12 0h7m17 0h10m95 0h15M321 759.6h41m95 0h11m78 0h26M359 760.4h4m9 0h54M350 761.2h25m94 0h33m4 0h33m14 0h11m13 0h9M158 762h11m143 0h27M192 762.8h21M517 763.6h28M182 764.4h19m128 0h31M416 765.2h25M314 766h5m50 0h14m246 0h4M198 766.8h12M389 767.6h20m143 0h4M193 768.4h31m19 0h12m28 0h29m223 0h14M160 769.2h34m136 0h12m8 0h17m101 0h10m21 0h22M236 770h4m99 0h4m147 0h23M635 770.8h9M155 771.6h5m96 0h4m135 0h43M379 772.4h4m255 0h6M317 773.2h4m16 0h70M309 774h33M120 774.8h7m265 0h22m64 0h63M230 777.2h10m223 0h8M406 778h4m179 0h35M263 778.8h14m232 0h16M309 779.6h48m121 0h80M248 780.4h4m86 0h39m31 0h64m86 0h4m5 0h6M95 781.2h46m101 0h6m73 0h8M279 782h71M541 782.8h10M232 783.6h11m122 0h27m231 0h21M221 784.4h4M364 785.2h40m67 0h16m27 0h23M309 786h51m49 0h4m185 0h4M373 786.8h77M307 787.6h103M371 789.2h28m107 0h8m60 0h13M95 790h1m87 0h4m130 0h23m219 0h36M509 790.8h6M170 791.6h45m191 0h49m165 0h15M239 792.4h18m27 0h21m85 0h19M293 794h6m75 0h91m30 0h50M203 794.8h27M292 796.4h12m158 0h10m123 0h8M358 797.2h16m45 0h25m38 0h4M95 798.8h5m31 0h29m103 0h24M242 799.6h57m43 0h28m52 0h4m120 0h40M195 800.4h42m10 0h42M495 801.2h8m87 0h8m38 0h8M109 802.8h57m200 0h62m22 0h13m20 0h12m38 0h20M522 804.4h12m10 0h32m22 0h18M184 805.2h66M218 806h18m146 0h39m108 0h11M470 806.8h23M264 807.6h4m126 0h5m72 0h5m4 0h4M497 810h39M106 810.8h10m100 0h13m9 0h39m4 0h4m225 0h27M162 811.6h10m73 0h4m4 0h32M642 814h2M195 814.8h20m16 0h22m376 0h15M231 816.4h4m328 0h7m11 0h5m53 0h4M155 818h25m235 0h4m34 0h36m129 0h26M571 818.8h35M119 819.6h4m175 0h4m193 0h62M101 820.4h4m403 0h22M369 821.2h4m109 0h19m11 0h4M508 822h21M164 822.8h6M171 823.6h9M271 824.4h46m190 0h26M327 825.2h4m45 0h4M131 826h24m209 0h14M132 826.8h4m281 0h39M128 827.6h4m98 0h13m124 0h81m78 0h4m87 0h7M479 828.4h4M95 829.2h2m18 0h42m151 0h11m160 0h16m86 0h28M166 830h11m189 0h27m89 0h8m103 0h14M185 830.8h6m76 0h32m65 0h4M95 831.6h5m475 0h4M170 832.4h4m190 0h27M150 833.2h40m22 0h18m311 0h9m89 0h4M142 834h7m66 0h9m79 0h32M571 835.6h15M101 836.4h24m46 0h4m255 0h18m44 0h13M218 837.2h18m142 0h4m230 0h32M290 838.8h14M415 839.6h39m42 0h12m4 0h45M95 840.4h3m54 0h28M162 841.2h74m323 0h49M500 842h4m21 0h11M351 842.8h28M112 843.6h43M396 844.4h7m175 0h54M538 845.2h4M108 846h69m177 0h4M282 846.8h4m308 0h23m4 0h4M111 847.6h19m95 0h14m155 0h4m90 0h33m8 0h15M333 848.4h10m4 0h18M213 849.2h21M306 850.8h4m326 0h5M587 851.6h38M95 852.4h2m94 0h35M555 853.2h17M149 854h17m372 0h31m53 0h22M492 854.8h13m5 0h32m18 0h59M228 855.6h91m239 0h18M377 856.4h25m238 0h4M142 857.2h4m8 0h23m438 0h27M98 858.8h29m474 0h8M434 860.4h13m77 0h5m107 0h8M232 861.2h14m386 0h5M346 862.8h12m17 0h44m108 0h22M169 863.6h27m386 0h4M104 864.4h4m26 0h29m154 0h21M131 865.2h39m264 0h71m37 0h4M550 866h13M521 866.8h18m62 0h22M136 867.6h45M95 868.4h4m9 0h4m55 0h12m355 0h74M128 870h45m4 0h90m218 0h24m81 0h6m13 0h4M395 871.6h8m0 0h55M187 872.4h27M137 873.2h18m160 0h4M180 874h17m185 0h14" stroke="#1f77b4"/><path d="M190 742h41m179 0h14M224 742.8h4m154 0h10m4 0h24m73 0h12m125 0h14M95 743.6h5m58 0h4m44 0h39m106 0h75m129 0h5m60 0h24M231 744.4h4m48 0h31m15 0h41m69 0h4M152 745.2h47m44 0h6m8 0h6m86 0h33m158 0h26M119 746h11m136 0h57m152 0h34M112 746.8h42m32 0h110m128 0h7m7 0h5m42 0h12m130 0h17M126 747.6h16m56 0h32m11 0h9m20 0h4m232 0h9M95 748.4h34m144 0h11m29 0h4m70 0h22m12 0h22M95 749.2h5m35 0h14m45 0h23m268 0h58m50 0h23M198 750h4m49 0h53m150 0h120M133 750.8h9m128 0h16m9 0h101m4 0h22m172 0h21M136 751.6h55m63 0h4m193 0h6m8 0h29m58 0h10m0 0h35M97 752.4h78m81 0h4m42 0h13m142 0h10m58 0h7m7 0h12m4 0h13m17 0h40m5 0h14M95 753.2h4m7 0h23m14 0h31m0 0h7m45 0h34m45 0h5m81 0h8m78 0h34m8 0h4m34 0h8M354 754h4m226 0h4m12 0h44M224 754.8h4m292 0h13m25 0h9m34 0h7m24 0h8M186 755.6h38m48 0h41m44 0h44m17 0h77m51 0h4M183 756.4h12m157 0h29m5 0h23m93 0h4m118 0h5M95 757.2h81m324 0h13m47 0h4M181 758h20m109 0h12m30 0h68m75 0h17M170 758.8h12m244 0h4m4 0h4m24 0h7m67 0h33M104 759.6h4m74 0h107m73 0h5m148 0h4m4 0h23m43 0h6m18 0h31M255 760.4h4m75 0h21M271 761.2h38m33 0h4m193 0h7m22 0h9m9 0h9m16 0h19m7 0h7M95 762h23m29 0h11m11 0h91m148 0h40m135 0h12M157 762.8h7m7 0h21m44 0h41m195 0h24M144 763.6h11m113 0h19m66 0h7m9 0h36m45 0h39m20 0h8M128 764.4h8m0 0h46m30 0h66m10 0h12m101 0h6m0 0h18m62 0h15m80 0h24M147 765.2h81m54 0h118m62 0h22M167 766h69m116 0h9m52 0h24m0 0h4m42 0h47m18 0h16M218 766.8h121m18 0h28m23 0h79m143 0h14M95 767.6h36m56 0h6m175 0h21M255 768.4h21m45 0h15m227 0h17M113 769.2h27m88 0h12M95 770h24m143 0h25m158 0h45m23 0h21m28 0h17m21 0h11m27 0h6M222 770.8h16m157 0h4m4 0h4m10 0h8m37 0h53m116 0h4M160 771.6h6m94 0h13m99 0h23M95 772.4h31m88 0h4m73 0h50m211 0h32M220 773.2h28m60 0h9M146 774h17m40 0h5m4 0h50m17 0h5m4 0h14m298 0h20M153 774.8h4m188 0h32m11 0h4m46 0h4M128 775.6h18m104 0h4m60 0h8m17 0h29m0 0h19m5 0h26m0 0h6m60 0h50m25 0h78M135 776.4h4m50 0h11m44 0h28m70 0h4m6 0h50m7 0h7m68 0h24M139 777.2h23m105 0h22M138 778h43m250 0h62m4 0h92m35 0h20M102 778.8h16m27 0h22m20 0h5m85 0h9m65 0h9m141 0h4m24 0h4m86 0h12M125 779.6h9m285 0h39m100 0h12M176 780.4h17m211 0h4m154 0h5m28 0h9M141 781.2h8m99 0h4m45 0h12m132 0h26m32 0h17m21 0h36m0 0h19m46 0h6M350 782h11m46 0h4m55 0h32m61 0h13M354 782.8h6m5 0h13m139 0h8m26 0h7m48 0h7M243 783.6h10m4 0h4m210 0h50m72 0h4M113 784.4h12m290 0h47m127 0h29m17 0h9M145 785.2h30m42 0h4m28 0h4m10 0h15M95 786h11m67 0h6m4 0h38m139 0h9m36 0h4m8 0h6m56 0h8m33 0h24m69 0h9M96 786.8h8m0 0h21m89 0h14m34 0h41m176 0h11M100 787.6h11m14 0h28m31 0h11m98 0h14m154 0h12m8 0h14M148 788.4h23m8 0h19m49 0h11m181 0h4m23 0h4m17 0h58m0 0h6m39 0h22M102 789.2h42m187 0h13m153 0h9m8 0h9M115 790h46m0 0h4m4 0h14m130 0h4m53 0h10m117 0h4m21 0h23M95 790.8h38m196 0h70m27 0h17m15 0h51m86 0h4M95 791.6h33m117 0h33m38 0h21m141 0h4m153 0h4m0 0h5M148 792.4h30m5 0h4m270 0h43m44 0h40m8 0h15M169 793.2h19m36 0h16m7 0h4m144 0h4m78 0h5m95 0h16M95 794h2m153 0h19M283 794.8h9m14 0h70m70 0h12m101 0h74m6 0h5M95 795.6h3m112 0h61m36 0h25m117 0h71M472 796.4h4m84 0h6m55 0h19M184 797.2h11m78 0h8m125 0h13m72 0h24m117 0h12M95 798h1m103 0h13m15 0h8m40 0h51m4 0h4m21 0h12m68 0h39m126 0h44M100 798.8h17m88 0h4m4 0h50m116 0h47m64 0h13m22 0h18m68 0h8M426 799.6h13m4 0h4M348 800.4h15m14 0h19m51 0h5m18 0h49m73 0h46M171 801.2h17m24 0h29m104 0h24m93 0h25m16 0h20m35 0h32M202 802h41M97 802.8h12m57 0h4m11 0h14m75 0h13m145 0h22m13 0h20m120 0h13M181 803.6h4m72 0h15m13 0h13m63 0h26M95 804.4h3m6 0h24m18 0h11m134 0h62m119 0h32m30 0h10m79 0h11M100 805.2h13m16 0h28m126 0h58m19 0h9m44 0h4m103 0h29m6 0h4m17 0h68M185 806h23m275 0h15m71 0h4M178 806.8h15m49 0h10m104 0h24m52 0h4m82 0h27m4 0h36m18 0h22M215 807.6h9m48 0h12m46 0h23m46 0h8m117 0h18m26 0h10m18 0h21m11 0h14M182 808.4h22m8 0h5m137 0h4m128 0h24m71 0h21M271 809.2h4m0 0h26m68 0h36m52 0h29m154 0h4M148 810h4m114 0h25m101 0h22m7 0h49m99 0h10M116 810.8h4m20 0h23m175 0h29m53 0h17m29 0h7m99 0h7M433 811.6h14m4 0h53m34 0h14M215 812.4h4m4 0h4m9 0h8m7 0h13m12 0h4m11 0h7M238 813.2h13m181 0h11m111 0h11m70 0h9M251 814h12m21 0h30m54 0h13m77 0h18m0 0h51m4 0h11m38 0h47M257 814.8h8m0 0h9m6 0h27m292 0h6M117 815.6h5m17 0h22m4 0h22m79 0h7m125 0h13M180 816.4h30m109 0h40m59 0h14m61 0h40M95 817.2h19m36 0h93m55 0h4m211 0h4m67 0h18M199 818h4m0 0h77m86 0h20m25 0h4m8 0h30m125 0h6m19 0h15M150 818.8h6m30 0h17m9 0h58m99 0h39m32 0h53m68 0h4m41 0h4M183 819.6h10m71 0h14m16 0h4m56 0h4m116 0h21M105 820.4h8m116 0h22m288 0h24m40 0h19m13 0h9M95 821.2h44m16 0h49m112 0h4m60 0h24m112 0h4M95 822h19m92 0h21m277 0h4M191 822.8h16m245 0h12m12 0h4m90 0h22m36 0h16M114 823.6h14m117 0h22m161 0h16m48 0h23m6 0h8m0 0h7M134 824.4h53m158 0h19m8 0h37M95 825.2h9m18 0h79m32 0h35m23 0h4m262 0h62m15 0h5M161 826h8m22 0h11m302 0h18m50 0h10M136 826.8h10M132 827.6h8m29 0h43m31 0h41m22 0h4m4 0h25m147 0h14m20 0h6M95 828.4h2m86 0h4m28 0h34m25 0h26m43 0h20m26 0h4m53 0h6m31 0h11m29 0h4m22 0h4M240 829.2h17m32 0h5m171 0h4m0 0h10M95 830h5m33 0h5m15 0h13m130 0h10m98 0h4m25 0h26m38 0h96m14 0h4M95 830.8h4m82 0h4m56 0h6m80 0h37m230 0h50M120 831.6h8m159 0h16m147 0h7m77 0h6m13 0h6m42 0h21m9 0h13M95 832.4h36m30 0h9m4 0h14m33 0h44m0 0h23m41 0h4m178 0h4m62 0h14m37 0h7M103 833.2h4m87 0h18m160 0h18m49 0h49m17 0h32M250 834h8m100 0h20m103 0h23m80 0h36M125 834.8h5m69 0h4m48 0h12m106 0h47m126 0h4m82 0h16M144 835.6h8m183 0h54m227 0h23M295 836.4h4m210 0h5m72 0h4M95 837.2h7m73 0h4m328 0h17m46 0h23m7 0h4M238 838h9m29 0h29m82 0h15m4 0h4m27 0h48m72 0h9m4 0h4m33 0h31M95 838.8h54m45 0h14m25 0h29m143 0h21m167 0h41M154 839.6h9m174 0h78m39 0h38m92 0h49M98 840.4h13m69 0h4m35 0h4m125 0h12m28 0h13m4 0h4m48 0h53M255 841.2h34m114 0h34M156 842h5m172 0h50m121 0h17m38 0h12m63 0h10M107 842.8h37m40 0h46m276 0h65M205 843.6h14m10 0h4m246 0h17m24 0h28m89 0h7M356 844.4h4m17 0h19m12 0h4m54 0h6m82 0h15M253 845.2h12m64 0h40m18 0h15m110 0h26M259 846h24m42 0h9m64 0h6m21 0h76m20 0h21m8 0h16m49 0h29M108 846.8h22m17 0h4m149 0h18m9 0h4m73 0h18m29 0h12m75 0h20m16 0h20M134 847.6h4m117 0h14m65 0h50m5 0h5m4 0h54m69 0h4m41 0h55M184 848.4h6m15 0h18m26 0h52m42 0h4m62 0h14m51 0h4m4 0h4m70 0h19M104 849.2h21m65 0h9m60 0h6m62 0h4m9 0h4m135 0h47m115 0h3M123 850h43m155 0h4m54 0h17m59 0h29M110 850.8h9m25 0h107m59 0h11m19 0h7m23 0h58m54 0h15m135 0h4m5 0h3M95 851.6h66m100 0h10m21 0h45m69 0h4m22 0h19M97 852.4h5m195 0h8m28 0h93M141 853.2h13m166 0h11m16 0h92m51 0h4m10 0h6m8 0h17m43 0h44M224 854h4m132 0h34m192 0h29M206 854.8h59m24 0h17m55 0h18m126 0h5m46 0h4M98 855.6h30m49 0h47m121 0h4m110 0h4m90 0h5M125 856.4h6m72 0h12m46 0h16m25 0h4m40 0h14m187 0h87M146 857.2h8m63 0h40m99 0h4m10 0h4m61 0h12m19 0h16m42 0h7m20 0h21m70 0h2M233 858h56m37 0h11m10 0h5m33 0h17m131 0h42M266 858.8h13m59 0h12m28 0h63m4 0h45m107 0h4M221 859.6h36m145 0h6m184 0h9M187 860.4h25m32 0h22m30 0h14m4 0h21m112 0h13m31 0h5m43 0h83M95 861.2h5m122 0h4m105 0h73m27 0h21m33 0h4m87 0h4M159 862h4m91 0h4m49 0h11m63 0h57m17 0h9m167 0h9M253 862.8h32m12 0h16m128 0h24m84 0h10M105 863.6h4m13 0h47m143 0h53m9 0h12m175 0h21M95 864.4h5m30 0h4m51 0h13m4 0h4m52 0h20m103 0h33m72 0h8M95 865.2h13m148 0h10m0 0h5m16 0h4m38 0h23m186 0h4m36 0h25m14 0h27M95 866h43m43 0h11m140 0h13m82 0h30m106 0h31m33 0h6M456 866.8h6m161 0h9M95 867.6h41m114 0h33m86 0h11m61 0h22m124 0h9m18 0h14M196 868.4h13m146 0h4m6 0h4m49 0h24m4 0h80m90 0h8M95 869.2h20m79 0h18m5 0h7m60 0h9m62 0h49m137 0h21m54 0h27M173 870h4m90 0h4m172 0h42m24 0h7M387 870.8h4m41 0h9m78 0h23M174 871.6h37m48 0h8m4 0h40m4 0h4m14 0h18m13 0h5m144 0h4m81 0h17m19 0h4M221 872.4h23m17 0h9m84 0h4M159 873.2h4m6 0h19m109 0h18m182 0h56M95 874h16m181 0h14m70 0h6m14 0h6m4 0h7m71 0h35m24 0h9m11 0h12m6 0h21" stroke="#ff7f0e"/><path d="M435 742h23m65 0h97M165 742.8h4M99 744.4h17m333 0h32m153 0h10M95 746h15M466 746.8h19m12 0h19M230 747.6h6M129 748.4h9m456 0h17M370 749.2h4m4 0h4m84 0h4m91 0h5m50 0h7M95 750.8h24M467 752.4h34M338 753.2h23M288 754h25m88 0h5m48 0h6M117 754.8h6m228 0h4m27 0h15m92 0h26M138 756.4h27m156 0h31M349 757.2h16m148 0h24M169 758h8M95 758.8h3m471 0h19M289 759.6h32m259 0h9M605 760.4h31M211 761.2h41M503 762h62M118 762.8h39m153 0h121M201 764.4h4M546 765.2h7M236 766h7m18 0h9m95 0h4m79 0h35m47 0h4M513 766.8h62M131 767.6h33m136 0h21m109 0h4M217 769.2h11M181 770h6m407 0h6M95 770.8h4M341 772.4h38m138 0h4M95 773.2h76m244 0h15M423 774h71M309 774.8h8M424 775.6h60M156 776.4h10M254 777.2h9m26 0h4m207 0h34m100 0h4M347 778h59M387 778.8h4m240 0h13M134 779.6h23M301 780.4h20M182 781.2h10m171 0h33m82 0h7m145 0h8M498 782h4M378 782.8h12M95 783.6h36m32 0h6m248 0h54M234 784.4h4M616 785.2h4M228 786.8h7M443 788.4h23m146 0h22M156 789.2h23m28 0h11M96 790h19m276 0h50m162 0h4M399 790.8h12m36 0h11m57 0h80M278 791.6h9m292 0h11M309 792.4h4m195 0h13m108 0h15M256 793.2h44m217 0h20M97 794h42m352 0h4M539 794.8h4M113 796.4h35M141 798h18m20 0h20M603 798.8h8M120 799.6h33m217 0h25M95 801.2h41m110 0h94M104 802h9m195 0h40M283 802.8h13m286 0h4M298 803.6h16m13 0h34M98 804.4h6m57 0h16M113 805.2h16m28 0h4M140 806h8m219 0h10M100 806.8h5M159 807.6h56m226 0h6m195 0h2M203 809.2h56M623 810h21M175 810.8h23m412 0h34M500 812.4h32M139 813.2h15M389 814h58M541 814.8h43M309 815.6h33m141 0h17M235 816.4h4M310 817.2h20M302 818.8h4M161 819.6h14m193 0h74M113 820.4h73m26 0h6m33 0h9m113 0h38M404 821.2h42M442 822h4M174 822.8h17m162 0h52m6 0h33m25 0h7M610 823.6h7M95 824.4h5M155 826h6m177 0h18M483 826.8h4m69 0h68M140 827.6h18M163 828.4h14m298 0h4m15 0h10M271 829.2h10m13 0h10m65 0h4m34 0h42M317 830h7M128 830.8h22m255 0h4M377 831.6h4M211 832.4h10M143 833.2h7m258 0h31M95 834h8m46 0h21M216 835.6h4m70 0h6M317 836.4h51M179 837.2h35M211 838h4M563 838.8h21M419 840.4h28m160 0h4M110 841.2h21m361 0h34M95 842h15m291 0h10M513 844.4h9M172 845.2h18m50 0h13m342 0h49M225 846h10M211 847.6h8M234 849.2h25M337 851.6h69m45 0h6M107 853.2h34m75 0h28m301 0h10M95 854h2m518 0h7M472 855.6h10M215 856.4h4m196 0h20M158 858h59m77 0h5m38 0h4m103 0h30M350 858.8h28M148 859.6h73M183 860.4h4m189 0h10M100 861.2h8m92 0h22m68 0h31m4 0h6m83 0h12M354 862h11M617 863.6h4M108 865.2h4m87 0h46m80 0h4m33 0h23M479 866h15M576 866.8h4M355 867.6h4m221 0h7m49 0h8M241 868.4h11M277 870.8h22M488 871.6h10m96 0h4M623 873.2h4" stroke="#2ca02c"/><path d="M109 742h23m13 0h17m169 0h47m242 0h15M250 742.8h9m222 0h6m53 0h66M100 743.6h58m4 0h23m106 0h5m281 0h9M116 744.4h52m25 0h15m27 0h29m113 0h4m35 0h17m100 0h101M104 745.2h5m38 0h5m111 0h52m9 0h4m5 0h9m71 0h4m185 0h42M165 746h44m168 0h10m161 0h13m42 0h14M95 746.8h17m42 0h32m174 0h5m12 0h40m14 0h7m185 0h4M95 747.6h18m69 0h16m52 0h20m24 0h4m16 0h6m83 0h35M303 748.4h10m4 0h5m121 0h17m66 0h4m96 0h18M100 749.2h5m112 0h4m14 0h6m109 0h20m4 0h4m51 0h14m27 0h11m85 0h27M95 750h40m76 0h6m87 0h15m30 0h46m183 0h7m0 0h4m28 0h18M236 750.8h34m16 0h9m187 0h17m53 0h18M321 751.6h32m104 0h8m41 0h4m115 0h19M186 752.4h47m138 0h8m153 0h7M129 753.2h14m121 0h22m163 0h28m46 0h34m23 0h64M114 754h9m207 0h24m221 0h9m4 0h12M157 754.8h10m110 0h38m32 0h4m46 0h4m114 0h5m47 0h26m15 0h24M99 755.6h10m130 0h33m129 0h17m170 0h37M165 756.4h9m45 0h50m149 0h23m12 0h32m21 0h12m122 0h4M176 757.2h4m0 0h7m350 0h4m23 0h34M95 758h58m93 0h34m140 0h23m0 0h17m21 0h14m17 0h31m27 0h7m13 0h6m40 0h8M98 758.8h11m154 0h4m9 0h30m109 0h11m12 0h24m15 0h8M140 759.6h11m4 0h17m400 0h8M355 760.4h4m4 0h9m127 0h4m41 0h34m58 0h6M95 761.2h4m15 0h26m67 0h4m41 0h19m75 0h4m29 0h32m25 0h29m130 0h16m19 0h7M266 762h11m0 0h27m35 0h33m197 0h14M95 762.8h17m52 0h7m106 0h29m156 0h4m40 0h8m125 0h5M165 763.6h9m231 0h19m0 0h18m51 0h16m36 0h99M278 764.4h10m33 0h4m142 0h20m15 0h4m27 0h36M141 765.2h6m259 0h4m74 0h19m50 0h18M116 766h29m4 0h4m90 0h18m68 0h23m281 0h11M148 766.8h38m206 0h16M193 767.6h4m128 0h33m144 0h13M470 768.4h65m14 0h10m0 0h4m44 0h18m0 0h19M107 769.2h6m408 0h78M140 770h10m90 0h22m370 0h6M99 770.8h5m214 0h11m96 0h15m75 0h4m39 0h7m24 0h14M188 771.6h59m353 0h44M161 772.4h4m78 0h21m119 0h16m209 0h30M171 773.2h6m97 0h34m99 0h8m85 0h67m30 0h32M95 774h13m0 0h38m17 0h40m59 0h17m82 0h62m119 0h31m47 0h24M95 774.8h8m24 0h26m184 0h8m32 0h7m30 0h24m146 0h17M95 775.6h33m87 0h12m27 0h60m8 0h17m298 0h7M95 776.4h40m31 0h4m0 0h7m23 0h44m172 0h13m98 0h11m35 0h4M201 777.2h29m119 0h4m104 0h6m25 0h12m34 0h5m7 0h17m63 0h8M95 778h23m94 0h4m116 0h4m4 0h7m63 0h21M95 778.8h7m138 0h15m35 0h27m66 0h4m76 0h38m4 0h4M95 779.6h30m121 0h11m158 0h4m151 0h41M95 780.4h7m4 0h7m208 0h8m4 0h5m134 0h15m64 0h7m46 0h26M261 781.2h36m99 0h26m105 0h10m55 0h4M95 782h38M95 782.8h41m25 0h121m66 0h6m107 0h43m74 0h5M131 783.6h6m91 0h4m289 0h12m22 0h23m19 0h15M164 784.4h4m314 0h34m0 0h18m7 0h21M95 785.2h1m157 0h4m291 0h15M221 786h44m104 0h13m125 0h13m121 0h3M95 786.8h1m47 0h36m124 0h28m0 0h4m126 0h8m6 0h4m23 0h26M95 787.6h5m126 0h67m237 0h32m11 0h4m4 0h62M171 788.4h8m51 0h17m11 0h51m16 0h114m31 0h5m76 0h39M218 789.2h21m0 0h13m197 0h4m16 0h19m35 0h51m13 0h12m0 0h14M165 790h4m322 0h6m48 0h14m40 0h4M255 790.8h70m118 0h4m152 0h18M304 791.6h12m30 0h4m112 0h16m97 0h4M223 792.4h4m30 0h27m21 0h4m49 0h32m19 0h21m91 0h4m82 0h22M96 793.2h22m9 0h21m40 0h17m95 0h7m20 0h24m48 0h12m71 0h35m31 0h23m66 0h6M153 794h4M142 794.8h61m255 0h81m4 0h16m74 0h6M98 795.6h26m147 0h36m119 0h10m84 0h26m31 0h7m18 0h4M95 796.4h18m191 0h67m76 0h15M95 797.2h3m17 0h7m34 0h28m37 0h8m21 0h12m19 0h19M159 798h20m62 0h5m18 0h11m51 0h4m78 0h7m59 0h13m13 0h38m28 0h34M153 799.6h52m14 0h14m66 0h43m53 0h5m132 0h14m66 0h5m11 0h5M95 800.4h5m24 0h11m228 0h14m19 0h8m32 0h11m12 0h11M453 801.2h9m140 0h4M95 802h9m88 0h10m41 0h19m86 0h27m4 0h19m104 0h79M195 802.8h15m7 0h45m48 0h4m206 0h13m63 0h7M163 803.6h18m310 0h45m33 0h60M157 804.4h4m16 0h41m63 0h10m166 0h15m44 0h6m54 0h4m14 0h4M95 805.2h5m150 0h33m115 0h15m146 0h4M95 806h23m30 0h5m59 0h6m18 0h41M95 806.8h5m51 0h27m56 0h4m39 0h79m28 0h48m61 0h4m0 0h21m67 0h18M146 807.6h13m65 0h24m36 0h7m251 0h4m46 0h4M95 808.4h44m17 0h8m53 0h121m46 0h65m0 0h37M194 809.2h9m56 0h12m173 0h13m55 0h62m15 0h51M95 810h15m63 0h15m12 0h27m9 0h30m25 0h42m246 0h29M95 810.8h11m24 0h10m173 0h5m49 0h53M290 811.6h25m15 0h9m79 0h15m119 0h4M102 812.4h48m382 0h4M95 813.2h8m10 0h26m51 0h16m4 0h28m13 0h4m28 0h10m117 0h12m34 0h45m31 0h5M192 814h28m136 0h4m21 0h4m62 0h11m69 0h4M130 814.8h23m100 0h4m17 0h6M99 815.6h18m5 0h17m203 0h4m89 0h48m17 0h29m107 0h8M127 816.4h6m8 0h16m138 0h24m160 0h14m40 0h30M288 817.2h10m32 0h7m109 0h67m99 0h9M103 818h16m267 0h25M493 818.8h24M97 819.6h4m74 0h4m66 0h19m94 0h4m98 0h14m109 0h59M95 820.4h6m85 0h26m48 0h24m18 0h57m52 0h22m130 0h40M204 821.2h58m9 0h45m151 0h15m19 0h11m121 0h11M162 822h5m70 0h15m0 0h5m0 0h6m107 0h67m141 0h35M160 822.8h4m82 0h65m302 0h15M145 823.6h26m9 0h14m26 0h18m43 0h4m159 0h48m44 0h4M100 824.4h9m255 0h4m41 0h98m40 0h55M433 825.2h27m69 0h28M117 826h10m46 0h18m195 0h17m53 0h12m54 0h50m10 0h7m38 0h11M122 826.8h10m14 0h4m16 0h46m119 0h21m272 0h20M95 827.6h29m96 0h10m109 0h28m81 0h4M316 828.4h27m20 0h21m9 0h4m4 0h41m10 0h23M334 829.2h35m4 0h34m53 0h5m34 0h29M228 830h33m22 0h4m4 0h5m17 0h4m76 0h4m11 0h13m38 0h23m8 0h7M247 830.8h5m51 0h24m41 0h7m140 0h25M159 831.6h40m68 0h4m69 0h6m143 0h17m91 0h4m21 0h5M288 832.4h41m178 0h4M234 833.2h56m50 0h4m12 0h16m18 0h14m84 0h17m45 0h46M103 834h39m28 0h4m14 0h27m47 0h15m70 0h11m50 0h38M130 834.8h6m47 0h4m20 0h4m8 0h4m101 0h4m19 0h22m142 0h4m31 0h7m33 0h38M130 835.6h14m107 0h21m24 0h5m4 0h4M125 836.4h46m4 0h17m74 0h14m19 0h18m135 0h7M110 837.2h9m11 0h7m77 0h4m26 0h29m255 0h35M95 838h11m379 0h63m18 0h4M266 838.8h24m82 0h33m146 0h12M105 839.6h22m89 0h32m4 0h32m5 0h24m195 0h4m45 0h27m53 0h7M116 840.4h4m73 0h26m4 0h8m62 0h4m43 0h8m61 0h10m91 0h61M131 841.2h19m139 0h65m0 0h49M110 842h20m17 0h9m20 0h17m64 0h19m142 0h16m26 0h22m11 0h7M178 842.8h6m155 0h4m36 0h6m21 0h15m161 0h30M233 843.6h24m30 0h19m30 0h30m186 0h8m73 0h4M152 844.4h4m56 0h4m187 0h5m36 0h22m6 0h41m60 0h5M95 845.2h5m44 0h28m60 0h4m166 0h10m4 0h9m40 0h26M104 846h4m95 0h22m133 0h32m152 0h4M134 846.8h9m0 0h4M246 847.6h9m14 0h65m50 0h5m136 0h4m20 0h12M95 848.4h13m0 0h5m77 0h4m107 0h10m54 0h21m37 0h11m164 0h9M125 849.2h16m203 0h62m146 0h9M325 850h46m76 0h8m73 0h6m11 0h8M136 850.8h4m122 0h5m99 0h4m62 0h15m5 0h11m15 0h4m15 0h12m17 0h106M213 851.6h48m264 0h62M187 852.4h4m434 0h19M95 853.2h12m69 0h23m45 0h15m0 0h53m127 0h31m24 0h10M107 854h19m4 0h19m17 0h58m4 0h31m275 0h4m31 0h17M95 854.8h23m38 0h50m100 0h42m31 0h9m231 0h20m0 0h5M319 855.6h22m122 0h9m34 0h12m8 0h27m81 0h7M435 856.4h65M103 857.2h39m49 0h10m56 0h15M95 858h15m15 0h33m141 0h6m47 0h28m34 0h30m30 0h47m54 0h8M127 858.8h75m4 0h60m261 0h70m12 0h26M142 859.6h6m109 0h35m19 0h76m21 0h4m83 0h34m25 0h38m49 0h3M123 860.4h19m70 0h13m57 0h4m49 0h41m84 0h31m131 0h14M254 861.2h4m28 0h4m114 0h10m104 0h37m82 0h7M95 862h4m33 0h4m19 0h4m4 0h20m49 0h22m4 0h4m86 0h6m11 0h16m57 0h4m22 0h32m0 0h4m66 0h16M95 862.8h1m127 0h21m41 0h12m126 0h18m35 0h45m38 0h85M201 863.6h11m59 0h14m85 0h4m131 0h36m45 0h20M100 864.4h4m77 0h4m51 0h22m80 0h18m187 0h8m16 0h47M170 865.2h21m54 0h4m22 0h4m21 0h14m221 0h7m8 0h32M138 866h7m11 0h25m11 0h14m77 0h32m51 0h27m101 0h12m19 0h8M142 866.8h18m33 0h4m297 0h13m32 0h21M311 867.6h22m88 0h20m76 0h23m56 0h18M162 868.4h5m42 0h5m0 0h27M244 869.2h28m4 0h8m140 0h7m39 0h8m96 0h42M95 870h8m199 0h20m0 0h121M119 870.8h9m171 0h7m24 0h29m278 0h5M117 871.6h4m94 0h9m8 0h10m0 0h17m60 0h14m36 0h26m69 0h24m14 0h11m4 0h34m87 0h6M149 872.4h38m57 0h4m110 0h74M277 873.2h9m149 0h12m37 0h5m64 0h46M111 874h65m56 0h4m13 0h43m110 0h4m7 0h9m130 0h11" stroke="#d62728"/><path d="M132 742h13M228 742.8h22M245 743.6h15M332 746.8h10m174 0h11M390 747.6h13M611 748.4h15M200 750.8h36m230 0h4M250 751.6h4M360 752.4h11M181 753.2h45M138 754h33m104 0h13m118 0h44m24 0h75M199 754.8h25m91 0h19m99 0h23m141 0h4M195 756.4h16m64 0h24M177 758h4m20 0h45m34 0h20M492 758.8h17m124 0h11M120 759.6h20M479 760.4h20M99 761.2h15M390 762h4M496 762.8h10M186 763.6h82m19 0h4m47 0h15m7 0h9M205 764.4h7M383 766h30M339 766.8h14m32 0h7M197 767.6h36M240 769.2h25M406 770h30m114 0h6m59 0h8M104 770.8h34m37 0h47m132 0h41m4 0h4m200 0h4M348 771.6h24M126 772.4h31m242 0h43M488 773.2h12M515 774h10M176 774.8h121m151 0h4m89 0h29M197 775.6h18M394 777.2h22M357 779.6h58m43 0h20M113 780.4h45m472 0h14M197 782h18M253 783.6h4m81 0h27m27 0h16m170 0h6m0 0h9M221 785.2h14m77 0h52m52 0h4m161 0h35M106 786h9m308 0h43M179 787.6h5m226 0h18m215 0h1M595 790h4M172 790.8h83M337 791.6h9M307 793.2h16m214 0h11m95 0h1M292 794.8h6M332 795.6h34M412 796.4h18M325 797.2h33M136 798h5M117 798.8h7M95 799.6h25m356 0h7M115 800.4h9M136 801.2h35m316 0h8M170 802.8h11m372 0h29m34 0h28M128 804.4h18M118 806h5m154 0h90m173 0h11m88 0h5M112 806.8h39m313 0h6M491 807.6h33m54 0h14M188 810h12M229 810.8h9m235 0h17M285 811.6h5m214 0h34M536 812.4h108M293 813.2h37m92 0h6m137 0h40M114 814h38m68 0h31M327 814.8h89m209 0h4M379 815.6h4M210 816.4h21M114 817.2h21m305 0h6M98 818h5M530 820.4h9M174 822h12M99 822.8h61M187 824.4h62M268 825.2h23M598 826h29M212 826.8h4m29 0h77M310 827.6h4M304 829.2h4m269 0h4m28 0h30M421 830h12M124 830.8h4m22 0h10m249 0h10M446 831.6h4M135 832.4h26m230 0h8M190 833.2h4m449 0h1M174 834h14m89 0h26m32 0h12m31 0h26M263 834.8h30M152 835.6h26m311 0h82M459 836.4h26m29 0h4M106 837.2h4M123 838h88M208 838.8h4m214 0h121M95 839.6h10M447 840.4h10M545 841.2h14M276 842h34m124 0h21m27 0h11M284 842.8h4m34 0h4M223 843.6h6m208 0h4M148 844.4h4m177 0h27m4 0h17m192 0h4M100 845.2h44M199 846h4m98 0h24m9 0h20m36 0h8M426 846.8h25m32 0h55M171 847.6h24m277 0h16M113 848.4h71M105 850h18m161 0h37m75 0h51M251 850.8h11m166 0h4M410 851.6h22m193 0h19M288 852.4h9m172 0h24m49 0h83M312 853.2h8M97 854h10m333 0h30m39 0h25M118 854.8h33M95 855.6h3M500 857.2h24M217 858h16M441 858.8h4M292 859.6h14m295 0h13M168 860.4h11m350 0h6M258 861.2h28M524 862h38M145 862.8h12M210 864.4h26m258 0h27M361 866h5m154 0h5M181 867.6h5M252 868.4h4M478 869.2h63M239 870.8h4M121 871.6h18M214 872.4h7m27 0h9m175 0h62M599 873.2h24m4 0h4M176 874h4m353 0h10m90 0h11" stroke="#9467bd"/><path d="M95 742h8m80 0h7m101 0h5m347 0h1M110 742.8h20m39 0h27m17 0h11m168 0h4m114 0h15M319 743.6h14m93 0h6m46 0h77M95 744.4h4m165 0h19m35 0h11m80 0h7m27 0h6m32 0h40M109 745.2h38m102 0h8m71 0h5m84 0h25M136 746h29m48 0h16m94 0h54m16 0h82m142 0h27M342 746.8h18m57 0h7m19 0h23M113 747.6h13m148 0h20m45 0h4m172 0h35m88 0h5M284 748.4h19m65 0h19m26 0h8m96 0h9M105 749.2h16m133 0h90m0 0h6M217 750h14m88 0h25M142 750.8h58m196 0h4m22 0h37m61 0h9m41 0h10m48 0h16M258 751.6h63m32 0h98m59 0h4m83 0h4M319 752.4h29m73 0h4m15 0h17m94 0h4M286 753.2h19m206 0h8M123 754h4m123 0h21m42 0h17m233 0h12M95 754.8h2m26 0h34m38 0h4m29 0h49m57 0h13m109 0h15m62 0h9M130 755.6h56m38 0h6M211 756.4h8m162 0h5m23 0h9m67 0h4m0 0h13M187 757.2h35m109 0h9m25 0h69m117 0h9M322 758h30m108 0h21m66 0h23m7 0h13M116 758.8h54m260 0h4m39 0h4m48 0h11m93 0h4M108 759.6h12m52 0h6m222 0h41m9 0h7m62 0h4m72 0h18M95 760.4h39m448 0h23M144 761.2h22m25 0h16m102 0h17m49 0h4m32 0h19M401 762h7m50 0h45m62 0h4M112 762.8h6m95 0h23m322 0h81M174 763.6h12m105 0h25M95 764.4h33m172 0h11m0 0h10m104 0h14M95 765.2h46m87 0h23m149 0h6m97 0h43m25 0h23M95 766.8h29m62 0h12m377 0h36m13 0h6M164 767.6h15m75 0h46m109 0h21m4 0h68m60 0h5M224 768.4h8m0 0h11m93 0h32m212 0h27M399 769.2h4m234 0h7M119 770h21m51 0h7m145 0h63m205 0h4M138 770.8h37m106 0h37M95 771.6h8m63 0h22m85 0h4m14 0h27m273 0h9M157 772.4h4m32 0h21m50 0h20m158 0h75m4 0h31M248 773.2h13m169 0h58m84 0h25m32 0h15M284 774h4m14 0h7m33 0h19m164 0h4M103 774.8h17m37 0h19m121 0h12m292 0h4m30 0h9M146 775.6h4m384 0h25M346 776.4h6m50 0h7m110 0h8M240 777.2h14m9 0h4m26 0h56m4 0h9m26 0h6m22 0h41m82 0h7m92 0h6M118 778h6m212 0h4m153 0h4M118 778.8h8m133 0h4m54 0h34m27 0h5m48 0h32m97 0h59M257 779.6h19M170 780.4h6m76 0h39m38 0h4m44 0h27m128 0h19m22 0h22M167 781.2h15m127 0h12m195 0h11m69 0h34M268 782h11m276 0h4M206 783.6h8M238 784.4h37m259 0h7m21 0h27M137 785.2h8m90 0h14m8 0h6m141 0h8m75 0h27m106 0h24M179 786h4m82 0h4m275 0h8m4 0h42m24 0h15M179 786.8h35m39 0h9m266 0h115M195 787.6h31m202 0h4m69 0h29m47 0h4M108 788.4h40M95 789.2h7m100 0h5m192 0h7m207 0h24M194 790h19m0 0h100m53 0h4m17 0h4M133 790.8h39m239 0h15M287 791.6h17m46 0h34m18 0h4m49 0h7m133 0h25M178 792.4h5m4 0h36m207 0h27m47 0h4m76 0h4M240 793.2h7m140 0h8m16 0h66M139 794h14m77 0h20m19 0h24m6 0h8m4 0h63M298 794.8h8M422 795.6h4m120 0h31m29 0h11m8 0h6m0 0h13M148 796.4h10m272 0h17m33 0h34m96 0h11m19 0h4M98 797.2h17m114 0h21m128 0h24m42 0h24m47 0h17M235 798h6m5 0h18m151 0h20m103 0h28M343 798.8h11M205 799.6h14m14 0h9m158 0h5m9 0h8m94 0h16m85 0h11M187 800.4h4m213 0h32m90 0h62M206 801.2h6m157 0h10m149 0h6m0 0h13m63 0h22M179 802h5m214 0h45M95 802.8h2m113 0h7m97 0h43m138 0h25M95 803.6h4m0 0h64m62 0h32m130 0h33M353 804.4h13m0 0h9m42 0h40M369 805.2h21m27 0h4m32 0h67M123 806h17m281 0h12M380 806.8h4M291 807.6h35m27 0h41m13 0h34m35 0h4M139 808.4h4m9 0h4m8 0h18m332 0h63M116 809.2h4m61 0h13m107 0h68m117 0h26m73 0h4M158 810h15m54 0h9m97 0h51m98 0h15m39 0h33M163 810.8h12m102 0h4m215 0h14M123 811.6h35m181 0h9M219 812.4h4m4 0h9m239 0h21M154 813.2h10m212 0h34m127 0h17M152 814h40m122 0h25m10 0h7m29 0h4m153 0h38M215 814.8h16m76 0h4m273 0h15M620 815.6h16M133 816.4h8m35 0h4m179 0h32m41 0h47m107 0h10m4 0h4M135 817.2h15m152 0h8m207 0h16M280 818h22m214 0h15M95 818.8h29m32 0h17m30 0h9m94 0h59m245 0h34M262 821.2h9m58 0h35m156 0h16M114 822h16m187 0h4m116 0h5m4 0h58m59 0h11M95 822.8h4m249 0h5m91 0h8m28 0h14m45 0h4m54 0h16M95 823.6h10m449 0h29m55 0h6M109 824.4h5m254 0h4m161 0h14m59 0h10M219 825.2h14m105 0h8m77 0h10m186 0h15M97 826h20m52 0h4m33 0h5m192 0h12m53 0h36m134 0h6M95 826.8h27m267 0h12m0 0h5M212 827.6h4m236 0h34m14 0h20m20 0h4m80 0h20M97 828.4h4m40 0h22m24 0h28m85 0h16m225 0h8m32 0h10M319 829.2h15m115 0h11m35 0h4m29 0h49m62 0h5M138 830h15m134 0h4m15 0h7m11 0h42m256 0h22M200 830.8h24m218 0h65M100 831.6h6m219 0h15m41 0h65m94 0h13m74 0h4M131 832.4h4m198 0h31m126 0h17m29 0h25m63 0h4M537 833.2h4m55 0h17M404 834h4m147 0h13M179 834.8h4m20 0h4m121 0h19m69 0h6m0 0h6m22 0h29m56 0h7M178 835.6h38m93 0h26m54 0h50m147 0h9M95 836.4h2m183 0h11m194 0h7M102 837.2h4m167 0h4m105 0h112m0 0h13M106 838h17m124 0h29m81 0h22m46 0h12m116 0h4m44 0h6m35 0h2M350 838.8h22m212 0h9M163 839.6h31m439 0h4M140 840.4h12m79 0h20m46 0h43m61 0h4m206 0h33M95 841.2h15m416 0h19m63 0h36M161 842h15m51 0h14m69 0h23m238 0h29m7 0h27M95 842.8h2m140 0h47m51 0h4m4 0h8m34 0h9m0 0h12m15 0h85m106 0h30m0 0h2M95 843.6h17m43 0h27m276 0h5m33 0h19m45 0h11m47 0h15M547 844.4h7m78 0h12M236 845.2h4m25 0h23m137 0h40m26 0h21m69 0h14M177 846h10m314 0h11m54 0h49M95 846.8h13m43 0h8m57 0h55m4 0h7m109 0h13m18 0h4m199 0h8M138 847.6h33m281 0h20M194 848.4h7m26 0h22m237 0h21m8 0h11m4 0h26m19 0h4M199 849.2h14m118 0h9m266 0h35M180 850h72m6 0h8m218 0h44M267 850.8h39m15 0h19m182 0h4M161 851.6h9m287 0h68M241 852.4h31m191 0h6M167 853.2h9m23 0h17m254 0h20m24 0h4m22 0h5M259 854h34m101 0h14m62 0h6m25 0h8M348 854.8h13m27 0h4m150 0h14M132 855.6h18m74 0h4m113 0h4m4 0h45m124 0h8m62 0h46M246 856.4h15m45 0h36m18 0h4M201 857.2h7m111 0h4m124 0h19m16 0h18m31 0h20M289 858h5m108 0h4m115 0h5m61 0h57M326 858.8h12M95 859.6h38m254 0h15m44 0h45m123 0h6M96 860.4h27m102 0h19m42 0h10m90 0h48m84 0h6m11 0h4M169 861.2h31m26 0h6m14 0h8m67 0h4m291 0h16M318 862h26m98 0h4m4 0h5m50 0h19m58 0h49M96 862.8h15m0 0h34m12 0h23m341 0h6M216 863.6h12m27 0h16m14 0h13m96 0h42m31 0h38m116 0h23M163 864.4h18m25 0h4m146 0h25M310 865.2h15m75 0h34M393 866h22m91 0h14m13 0h17m71 0h6M95 866.8h24m48 0h26m50 0h17m85 0h111M283 867.6h28m22 0h4m50 0h15m226 0h8M112 868.4h50m149 0h44m87 0h4m162 0h8M224 869.2h20m187 0h39m99 0h5M103 870h16m152 0h31m214 0h67m36 0h24M441 870.8h10m113 0h60M267 871.6h4m85 0h8m134 0h4m49 0h43M257 872.4h4m276 0h45m51 0h11M95 873.2h42m18 0h4m29 0h19m79 0h11m22 0h66m62 0h37m147 0h13M306 874h16m100 0h62" stroke="#8c564b"/><path d="M162 742h21m72 0h36m205 0h27M196 742.8h17M185 743.6h21M229 746h22M531 746.8h92M142 747.6h33m145 0h5m318 0h1M202 750h4m189 0h29M529 750.8h23m34 0h8M95 752.4h2m255 0h8M134 754h4M593 754.8h4M317 755.6h40M598 757.2h46M543 758h4M389 758.8h26M178 759.6h4M503 760.4h19M465 761.2h4m95 0h4M514 762.8h44M506 764.4h10m53 0h13M594 765.2h50M321 767.6h4m223 0h4M187 770h4m118 0h30m284 0h9M565 770.8h24m18 0h24M247 771.6h9m62 0h30M584 772.4h14M442 774.8h6m157 0h30M162 777.2h39M413 778.8h18M158 780.4h12m50 0h28M215 781.2h27m10 0h9M220 782h37m168 0h18m129 0h26M525 782.8h8M187 783.6h19M412 785.2h4M469 786.8h6M187 790h7M621 790.8h23M117 792.4h31M148 793.2h7M465 794h26M178 795.6h32m407 0h8M256 796.4h36m274 0h29M122 797.2h34M367 798h41M124 798.8h7m56 0h18m99 0h39m83 0h39M633 799.6h11M452 800.4h7M262 802.8h8M248 807.6h16M110 810h15m345 0h12M318 810.8h20M264 812.4h12M103 813.2h10m73 0h4M605 814.8h20M95 815.6h4M517 818.8h23M145 819.6h9M320 821.2h9m121 0h17M605 823.6h5M616 824.4h28M331 825.2h7M419 826h4M158 827.6h11m375 0h4M199 831.6h28M635 832.4h5M613 833.2h26M187 834.8h12m16 0h4m281 0h11M229 835.6h22m21 0h18M291 836.4h4m223 0h49m23 0h4m35 0h15M262 838.8h4M111 840.4h5m4 0h20M306 843.6h30M174 846.8h20m423 0h4M102 847.6h9M526 848.4h4M100 849.2h4m180 0h10M463 850.8h15M394 855.6h65m23 0h24M272 857.2h47M380 858h5M279 858.8h7m349 0h9M306 859.6h5M179 860.4h4m83 0h16M640 862h4M101 863.6h4M462 864.4h24M580 866.8h21M205 867.6h45m87 0h18m25 0h7m30 0h4M293 869.2h27M95 870.8h24m9 0h26m297 0h5m186 0h2M270 872.4h19" stroke="#e377c2"/><path d="M400 742h10m14 0h11m23 0h32M106 742.8h4m20 0h35m152 0h65m105 0h6m12 0h5m96 0h24M264 743.6h27m5 0h23m14 0h18m81 0h15m139 0h34M168 744.4h14m188 0h7m4 0h11m0 0h17M95 745.2h9m278 0h31m36 0h91m26 0h36M110 746h5m136 0h15m243 0h39M365 746.8h12m150 0h4M175 747.6h7m116 0h16m63 0h4m169 0h88M206 748.4h67m49 0h16m0 0h30m114 0h35m13 0h34M443 749.2h23m157 0h21M135 750h56m15 0h5m213 0h20m145 0h28M470 750.8h12m17 0h21m95 0h13M95 751.6h41m358 0h12M175 752.4h11m47 0h23m169 0h15m128 0h7M99 753.2h7m255 0h30m8 0h25m141 0h4M95 754h19m13 0h7m137 0h4m274 0h14M97 754.8h20m238 0h27m19 0h32m109 0h7M95 755.6h4m131 0h9m74 0h4m233 0h31M99 756.4h22m148 0h6m166 0h12m65 0h32M222 757.2h80m23 0h6m9 0h9m192 0h10M596 758h40M267 758.8h9m243 0h6m81 0h8M151 759.6h4m286 0h9m18 0h47M134 760.4h121m75 0h4m92 0h41M334 761.2h8m204 0h7M118 762h29m225 0h18m4 0h7m47 0h10m137 0h42M306 762.8h4m121 0h31M95 763.6h49m11 0h10m277 0h8M325 764.4h4m31 0h41m115 0h17M410 765.2h6M270 766h44m5 0h10m205 0h14M210 766.8h8m269 0h26m98 0h13M179 767.6h8m46 0h4m278 0h33m34 0h62M276 768.4h7M95 769.2h12m33 0h20m34 0h23m52 0h61m52 0h17m65 0h4m10 0h21m119 0h19M198 770h38m51 0h22m127 0h9m134 0h15M238 770.8h36m55 0h5m0 0h20m86 0h22m57 0h39M103 771.6h10m164 0h14m147 0h67m0 0h79M165 772.4h28m25 0h25m41 0h7M177 773.2h43m41 0h13m47 0h16m230 0h5M494 774h21m58 0h10M317 774.8h20m47 0h4m182 0h14M150 775.6h47m30 0h23M139 776.4h17m21 0h12m83 0h70m97 0h45m24 0h11m19 0h35m62 0h5m0 0h4M362 777.2h26M207 778h5m4 0h116M167 778.8h20m68 0h4m101 0h18m147 0h4m4 0h27M157 779.6h89m365 0h33M102 780.4h4m185 0h10M149 781.2h18m25 0h23m207 0h19m26 0h11m7 0h14M184 782h13m18 0h5m145 0h33m13 0h14m18 0h23m36 0h4m4 0h45M136 782.8h13m0 0h12m121 0h66m12 0h5m52 0h44m43 0h13m16 0h8m42 0h23m7 0h31M533 783.6h22M168 784.4h48m9 0h9m41 0h28m65 0h31M278 785.2h34m108 0h16m14 0h21m66 0h11m15 0h8M269 786h40m77 0h19m8 0h4m49 0h8m0 0h5m8 0h20m45 0h4m46 0h11m24 0h4M345 786.8h28m77 0h11m29 0h12M111 787.6h14m28 0h26m294 0h8m14 0h6m61 0h11M99 788.4h9m108 0h14m79 0h16m150 0h12m147 0h10M144 789.2h12m96 0h79m13 0h27m35 0h5m42 0h16m19 0h9M340 790h26m75 0h26m140 0h19m5 0h13M617 790.8h4M215 791.6h30m237 0h93m15 0h5M313 792.4h45m142 0h4m21 0h19m44 0h4M118 793.2h9m28 0h14m36 0h19m27 0h5m67 0h4m24 0h36m184 0h6m16 0h44M307 794h4M95 794.8h47m88 0h43m103 0h4M366 795.6h56m14 0h13m135 0h18M158 796.4h84m234 0h4m34 0h46m43 0h7M195 797.2h26m79 0h25m49 0h4m24 0h4m62 0h14m4 0h5m41 0h81M96 798h40m198 0h5M160 798.8h27m22 0h4m87 0h4m50 0h25m86 0h9m0 0h16M405 799.6h9m33 0h29m7 0h33m70 0h26M105 800.4h10m20 0h43m111 0h59m171 0h7m62 0h4M188 801.2h18m35 0h5m94 0h5m34 0h74M113 802h31m40 0h8m70 0h46m67 0h4m202 0h63M296 802.8h14m47 0h9m220 0h10M185 803.6h40m47 0h13m135 0h42m25 0h4m138 0h7M218 804.4h51m4 0h8m223 0h12m64 0h14M161 805.2h23m157 0h19m189 0h6m8 0h13M153 806h32m23 0h4m221 0h50m27 0h4m59 0h66M193 806.8h41m18 0h25M95 807.6h51m122 0h4m175 0h24m75 0h22M143 808.4h9m52 0h8m126 0h16m4 0h26m126 0h4m63 0h4M405 809.2h39m130 0h11M152 810h6m226 0h4m26 0h7m187 0h15M198 810.8h18m221 0h15m127 0h16m0 0h15M95 811.6h28m49 0h73m4 0h4m62 0h15m18 0h35m64 0h4m105 0h88M95 812.4h7m178 0h11m7 0h22M206 813.2h4m66 0h7m58 0h35m52 0h4m20 0h4m149 0h24M263 814h12m0 0h9m76 0h8m259 0h15M95 814.8h35m30 0h28m349 0h4M161 815.6h4m108 0h36m37 0h33m4 0h15m13 0h24m94 0h27m45 0h15M95 816.4h32m30 0h19m215 0h13m166 0h11m23 0h35M243 817.2h45m49 0h103m93 0h20m0 0h31m37 0h23M302 818h28m0 0h36m123 0h27m68 0h9M426 818.8h14m125 0h6M101 819.6h18m11 0h11m13 0h7m18 0h4m119 0h52m8 0h6m189 0h26M218 820.4h7m59 0h18m57 0h14m249 0h13M150 821.2h5m218 0h7m156 0h36M186 822h20m83 0h28m257 0h4M207 822.8h10m94 0h37m57 0h6m87 0h41m53 0h5M215 823.6h5m18 0h7m22 0h14m4 0h121m177 0h22M114 824.4h16m187 0h28M104 825.2h4m0 0h14m83 0h14m76 0h32m26 0h23m4 0h43m37 0h69m110 0h5M95 826h2m105 0h4m5 0h64m9 0h54m18 0h8m14 0h4m41 0h33m133 0h9M216 826.8h29m140 0h4m17 0h11m39 0h27m4 0h69M124 827.6h4m88 0h4m328 0h69M101 828.4h40m36 0h6m201 0h5m53 0h4m87 0h4m16 0h28M157 829.2h10m114 0h8M100 830h33m128 0h22M99 830.8h8m4 0h13m67 0h9m99 0h4m72 0h30m135 0h32m14 0h8M106 831.6h14m183 0h22m132 0h32m17 0h28m45 0h18M188 832.4h23m192 0h87m25 0h13m33 0h16m14 0h33m16 0h4M107 833.2h16m107 0h4m87 0h4m0 0h15m4 0h12M258 834h4M95 834.8h30m182 0h17m104 0h22m29 0h21m15 0h20m18 0h33m38 0h4M95 835.6h35m171 0h4m290 0h21m23 0h5M97 836.4h4m267 0h62m18 0h4m115 0h19M119 837.2h11m7 0h38m65 0h4m33 0h71m176 0h4m35 0h7m23 0h7M215 838h23m67 0h20m0 0h32m22 0h8m15 0h4m4 0h15m149 0h10m54 0h4M212 838.8h21m71 0h35m295 0h10M127 839.6h27m94 0h4m32 0h5m24 0h24m155 0h4M264 840.4h29m296 0h18M236 841.2h19m182 0h55M193 842h34m14 0h16m126 0h18m10 0h7m37 0h5m76 0h23m41 0h7M97 842.8h10m123 0h7m81 0h4m4 0h9m236 0h11M189 843.6h16m52 0h30m79 0h10m65 0h17m5 0h16m36 0h5M95 844.4h53m8 0h56m4 0h113m193 0h25M288 845.2h41m40 0h18m25 0h4m138 0h27M95 846h2m90 0h12m36 0h24m24 0h18m103 0h21m87 0h9M130 846.8h4m60 0h4m73 0h4m43 0h4M95 847.6h7m28 0h4m61 0h16m28 0h7M201 848.4h4m106 0h22m53 0h23m25 0h40m4 0h4m25 0h8m64 0h19m9 0h37M95 849.2h5m165 0h19m10 0h33m91 0h61m47 0h4m51 0h25M95 850h10m147 0h6m338 0h48M95 850.8h15m9 0h17m211 0h19m81 0h5m57 0h13M170 851.6h4M102 852.4h35m0 0h50m118 0h24m164 0h49M331 853.2h16m163 0h4m21 0h5m32 0h6M151 854.8h5m109 0h24m103 0h49M128 855.6h4m18 0h27m403 0h8m53 0h3M131 856.4h23m248 0h13m219 0h6M95 857.2h8m74 0h4m142 0h33m4 0h10m55 0h10m141 0h39M406 858h8m112 0h7M95 858.8h3m188 0h15M133 859.6h9m270 0h34M95 860.4h1m46 0h26m142 0h4M112 861.2h57m257 0h5m21 0h33m4 0h29M262 862h45m193 0h5M180 862.8h6m127 0h33m12 0h17m44 0h4M95 863.6h6m8 0h13m113 0h20m110 0h5m66 0h31M198 864.4h4m212 0h37m0 0h11m59 0h22m8 0h16M191 865.2h8m76 0h4M145 866h11m64 0h44m51 0h6m0 0h11m13 0h16m54 0h12m206 0h11M160 866.8h7m30 0h46m17 0h19m34 0h32m117 0h14m156 0h4M186 867.6h19m154 0h10m33 0h15m46 0h18m4 0h32m23 0h40M99 868.4h9m154 0h49m48 0h6m259 0h20M187 869.2h7m78 0h4m128 0h20m138 0h7m74 0h1M596 870h13m4 0h6m24 0h1M243 870.8h34m82 0h28m155 0h8m10 0h4M211 871.6h4m9 0h8m79 0h4M95 872.4h54m156 0h11m8 0h30m140 0h43M163 873.2h6m38 0h70m212 0h8M322 874h16m181 0h14m42 0h6" stroke="#7f7f7f"/><path d="M231 742h6m141 0h22M420 742.8h61M314 744.4h4m203 0h12M315 745.2h5M304 746.8h28M154 748.4h38m281 0h9M601 751.6h4M279 752.4h23m199 0h24m100 0h5M171 754h79m108 0h32M434 757.2h46M588 758.8h18M95 759.6h9m263 0h33M578 760.4h4M166 761.2h25M316 763.6h22m151 0h4M251 765.2h31M153 766h14m397 0h65M124 766.8h24M358 767.6h10m188 0h6m5 0h15M95 768.4h98M342 769.2h8M150 770h31M563 777.2h63M228 778.8h12m151 0h22M193 780.4h19m316 0h4M398 782h9M261 783.6h8M399 784.4h16M175 785.2h42m354 0h10M125 786.8h18M432 787.6h29M179 789.2h23m209 0h38M158 791.6h12M95 793.2h1M157 794h62M380 794.8h66M371 796.4h41M613 797.2h4M287 798.8h13M439 799.6h4M523 801.2h5m19 0h11m40 0h4m4 0h4m22 0h4M375 804.4h42M390 805.2h8m23 0h32M514 806h15M105 806.8h7m513 0h19M602 808.4h42M95 809.2h21M452 810.8h14m71 0h35M187 812.4h28m105 0h58M443 813.2h9m66 0h14M279 816.4h16m109 0h14M593 818h10M124 818.8h26m215 0h4m171 0h21M123 819.6h7M433 820.4h75M364 821.2h5m203 0h30M130 822h32m101 0h4M105 823.6h9m80 0h4M130 824.4h4M346 825.2h7M284 827.6h22M257 829.2h14M252 830.8h15m240 0h8m57 0h14M373 831.6h4M95 833.2h8m20 0h15m152 0h31M211 834.8h4M439 835.6h50M149 838.8h45M144 842.8h34M571 843.6h47M412 844.4h32M190 845.2h42M546 846h4M331 846.8h60m167 0h16M406 849.2h12m112 0h22M166 850h4M140 850.8h4M226 852.4h15m88 0h4M126 854h4m278 0h32m36 0h25M441 854.8h51M154 856.4h36m87 0h25m62 0h13M572 857.2h4M305 858h21m257 0h4M496 860.4h22M580 861.2h36M228 863.6h7m151 0h8m147 0h20M282 864.4h35m297 0h30M385 865.2h15M179 868.4h17m173 0h49M212 869.2h5m132 0h6M154 870.8h43m353 0h10M351 871.6h5m102 0h6m151 0h19M316 872.4h4M385 873.2h50M236 874h13m353 0h31" stroke="#bcbd22"/><path d="M103 742h6m128 0h18m41 0h35m159 0h6m139 0h8M259 742.8h58m208 0h15M560 743.6h17M182 744.4h11m240 0h6M342 745.2h7m93 0h7M387 746h6m168 0h42M296 746.8h8M325 747.6h14m42 0h9m48 0h68M138 748.4h16m410 0h10M228 749.2h7m147 0h47m52 0h4M191 750h7m146 0h5m286 0h9M119 750.8h14m326 0h7M605 751.6h20M260 752.4h19m69 0h4m27 0h42m154 0h10M260 753.2h4m46 0h28m86 0h25M390 754h11m49 0h4m6 0h14M167 754.8h28m445 0h4M109 755.6h21m365 0h26m122 0h1M95 756.4h4m22 0h17m161 0h22m229 0h74M302 757.2h17M153 758h16M182 758.8h20M259 760.4h71m137 0h12m43 0h22m98 0h2M140 761.2h4m182 0h8m96 0h6m66 0h4M260 762h6m38 0h8m325 0h7M466 762.8h6M439 764.4h28m139 0h38M441 765.2h21M95 766h21m29 0h4m212 0h4m76 0h7M353 766.8h4M237 767.6h17M312 768.4h9m47 0h102M265 769.2h4m98 0h15m21 0h61m135 0h19M534 770h16m6 0h6M274 770.8h7m126 0h10M113 771.6h42m429 0h7M598 772.4h10M208 774h4m317 0h13m41 0h17M452 774.8h26M387 775.6h5M429 776.4h10m138 0h58M95 777.2h44m332 0h17M124 778h14m43 0h26M126 778.8h19m47 0h36m58 0h4M276 779.6h33M212 780.4h8m267 0h41M329 781.2h34M133 782h51m73 0h11m93 0h4m141 0h4m88 0h46M390 782.8h27m141 0h20M137 783.6h26m6 0h18m27 0h14m41 0h69m70 0h9m195 0h11M95 784.4h18m12 0h39m52 0h5m82 0h65m94 0h20m136 0h17M96 785.2h41m299 0h14M115 786h58m209 0h4M235 786.8h18m82 0h10m298 0h1M95 788.4h4m99 0h18M637 789.2h7M380 790h7m80 0h24m10 0h21m104 0h5M325 790.8h4M128 791.6h30m226 0h18M95 792.4h22m110 0h12M219 794h11m315 0h99M273 794.8h10M124 795.6h54M242 796.4h14M262 797.2h11m344 0h15M212 798h15m112 0h16m132 0h13M503 798.8h22m18 0h60m16 0h25M100 800.4h5m73 0h9m4 0h4m42 0h10m391 0h6M144 802h35m264 0h59M314 803.6h13m135 0h25m49 0h33m67 0h8M269 804.4h4m343 0h7m11 0h10M377 806h5m116 0h12m41 0h18M238 806.8h4m194 0h28m81 0h4M326 807.6h4m154 0h7m126 0h11M120 809.2h61M125 810h23m240 0h4M120 810.8h10m155 0h28m177 0h6M158 811.6h4m221 0h35M150 812.4h37m57 0h7m127 0h97m21 0h4M164 813.2h22m69 0h21m54 0h11m160 0h17m111 0h6M95 814h19m225 0h10M153 814.8h7m28 0h7m116 0h16m89 0h121M187 815.6h79m290 0h45m15 0h4M239 816.4h40m317 0h4m43 0h1M602 817.2h10M95 818h3m21 0h36m25 0h19m220 0h4m108 0h47M173 818.8h13m84 0h32m106 0h18M95 819.6h2m44 0h4m48 0h52m33 0h16m148 0h18m182 0h2M225 820.4h4M139 821.2h11m296 0h4m152 0h31M167 822h7m53 0h10m30 0h22m32 0h49m159 0h34m50 0h31M170 822.8h4m43 0h29m218 0h5m25 0h4m45 0h23m0 0h4M128 823.6h17m53 0h17m191 0h22m87 0h6m19 0h14m63 0h21M249 824.4h22m331 0h4M201 825.2h4M127 826h4m144 0h9m98 0h4m29 0h4M150 826.8h16m156 0h9m21 0h33M530 827.6h10M249 828.4h25m123 0h4m103 0h19m4 0h6m4 0h4m50 0h53M97 829.2h18m52 0h73M177 830h51m169 0h7m207 0h11M107 830.8h4m49 0h21m43 0h17m178 0h23M128 831.6h31m68 0h40m4 0h16m59 0h27m186 0h16M399 832.4h4m125 0h8M138 833.2h5m261 0h4M224 834h26m196 0h35m23 0h51m13 0h16m36 0h24M136 834.8h43m44 0h28m42 0h14M220 835.6h9M192 836.4h74m239 0h4m85 0h35M236 837.2h4m108 0h30m226 0h8M548 838h5m31 0h17M339 838.8h11m197 0h4M194 839.6h22M184 840.4h9m58 0h13m96 0h28m183 0h18M150 841.2h12M130 842h17m374 0h4M288 842.8h30M182 843.6h7m30 0h4m153 0h61m111 0h4M542 845.2h12M97 846h7M159 846.8h15m24 0h18m70 0h14m22 0h5m136 0h20m150 0h4m0 0h7M219 847.6h6m319 0h5m12 0h5m55 0h23M223 848.4h4M141 849.2h49m371 0h20M170 850h10m86 0h18m87 0h8m155 0h11m8 0h43M174 851.6h39m58 0h21M272 852.4h16m138 0h37M154 853.2h13m455 0h22M293 854h67M576 855.6h4M95 856.4h30m65 0h13m16 0h27m96 0h4m154 0h47M181 857.2h10m17 0h9m157 0h51M110 858h15m216 0h6M202 858.8h4m95 0h25m164 0h37M491 859.6h4m34 0h25m66 0h21M108 861.2h4m443 0h21M99 862h33m4 0h19m28 0h49m112 0h4m98 0h4m112 0h4M186 862.8h37m21 0h9m212 0h11M196 863.6h5m11 0h4m82 0h14m294 0h11M108 864.4h22m148 0h4M112 865.2h19m118 0h7m23 0h8m4 0h5m56 0h10m143 0h26m72 0h14M206 866h14m44 0h19m174 0h22m115 0h27M119 866.8h23m137 0h34m163 0h18m13 0h14m39 0h16m60 0h8M481 867.6h4M256 868.4h6m264 0h8M115 869.2h72m133 0h29M119 870h9m455 0h7M197 870.8h42m67 0h24m61 0h41m24 0h63m105 0h13M95 871.6h22m22 0h35M289 872.4h16m15 0h4m258 0h51M197 874h35m106 0h38" stroke="#17becf"/></g>
<g fill="none" stroke-width="0.95"><path d="M555 983.1h52M111 983.9h12m412 0h27m32 0h47M110 985.5h9m357 0h13M213 986.3h20m35 0h13m288 0h42m14 0h19M107 987.1h5m430 0h70M227 987.9h30m43 0h8M530 988.7h6m60 0h15m0 0h4M384 990.3h42M482 991.1h4M157 992.7h39m145 0h4m188 0h18M327 994.3h33m123 0h16m131 0h10M262 995.1h22m53 0h4m108 0h4m28 0h47M109 995.9h15m333 0h4M182 997.5h14m76 0h26m111 0h29m155 0h17M449 998.3h46M95 999.1h3m77 0h6M95 999.9h2M95 1000.7h94M424 1003.1h10M221 1003.9h4m186 0h36M156 1004.7h34m314 0h18M305 1005.5h26M143 1006.3h5m189 0h11m187 0h6M212 1007.1h7m357 0h16m22 0h22M190 1008.7h21m111 0h15M207 1009.5h44m249 0h43M420 1010.3h5m130 0h5M434 1011.1h33M121 1012.7h69m154 0h31M411 1013.5h4M584 1014.3h32M443 1015.9h7M115 1016.7h17m299 0h49M205 1017.5h49m41 0h6m257 0h20M431 1019.1h5M637 1019.9h7M608 1020.7h21m7 0h8M185 1021.5h8m258 0h6m103 0h21M151 1022.3h103m286 0h14M110 1023.1h8m208 0h30m42 0h6m58 0h4M305 1023.9h90M373 1024.7h24M421 1025.5h5m15 0h25M217 1027.1h19m334 0h60M241 1027.9h4m264 0h30M115 1028.7h4m91 0h53m276 0h7M300 1031.1h35m106 0h17m43 0h37M370 1031.9h47m53 0h4M275 1032.7h4m103 0h121m105 0h23M366 1034.3h9M240 1035.1h17m45 0h5M183 1035.9h11m362 0h4M221 1036.7h20m170 0h75m32 0h9M175 1037.5h16m256 0h72m117 0h8M251 1038.3h31M165 1039.1h27m200 0h4m112 0h4M417 1039.9h7m50 0h15m110 0h20M96 1042.3h23m297 0h6m48 0h4m118 0h26M174 1043.1h46m276 0h4M336 1044.7h9m235 0h9M286 1045.5h10M357 1046.3h21m252 0h9M378 1047.1h32m126 0h4M105 1047.9h7M316 1048.7h30M108 1049.5h16m17 0h8m286 0h4m185 0h20M369 1051.9h32M179 1052.7h4m38 0h24m340 0h52M137 1053.5h16" stroke="#1f77b4"/><path d="M269 983.1h10m117 0h54m28 0h77M123 983.9h9m102 0h43m15 0h21m4 0h13m7 0h19m19 0h42m45 0h15m43 0h15M373 984.7h4m52 0h22m92 0h15M99 985.5h11m41 0h67m132 0h46m133 0h4m45 0h18M281 986.3h12m0 0h5m182 0h30M95 987.1h12m5 0h5m274 0h29m64 0h24m0 0h30M95 987.9h46m116 0h43m8 0h50m66 0h33m163 0h6M278 988.7h54m75 0h32m8 0h4m19 0h60m34 0h32M181 989.5h61m324 0h4M153 990.3h52m64 0h13m65 0h9m245 0h4M95 991.1h35m218 0h43m54 0h12m125 0h4m24 0h4M160 991.9h4m23 0h4m46 0h4m6 0h42m232 0h13m14 0h35M98 992.7h9m167 0h41m9 0h17m140 0h40M95 993.5h11m266 0h41m40 0h7m59 0h12m16 0h43m7 0h21M622 994.3h4M95 995.1h14m175 0h53m116 0h28m47 0h20M141 995.9h4m4 0h49m139 0h12m17 0h68m43 0h30m8 0h21M148 996.7h26m75 0h26m146 0h22m0 0h30m159 0h4M117 997.5h15m176 0h62m244 0h30M171 998.3h4m120 0h4m51 0h14m131 0h7m76 0h15m47 0h4M98 999.1h10m29 0h11m33 0h16m22 0h10M121 999.9h34m12 0h30m53 0h16m89 0h4m73 0h9m18 0h37m5 0h27m16 0h8m26 0h29M347 1000.7h5m31 0h34m21 0h11M147 1001.5h19m158 0h4m16 0h15m0 0h30m4 0h37m83 0h4M168 1002.3h28m117 0h83m120 0h20m0 0h4m0 0h104M95 1003.1h11m8 0h15m53 0h4m129 0h55m181 0h10m20 0h20M149 1003.9h13m31 0h5m56 0h35m6 0h12M196 1004.7h6M331 1005.5h17m198 0h12m4 0h35M171 1006.3h15m59 0h34m46 0h4m98 0h41m38 0h29m6 0h11M101 1007.1h12m91 0h8M113 1007.9h41m69 0h21m31 0h17m100 0h19m58 0h35m77 0h63M95 1008.7h12m179 0h36m43 0h12M95 1009.5h112m191 0h46m130 0h9M95 1010.3h114m189 0h4m23 0h58m121 0h40M151 1011.1h51m101 0h17m61 0h8m82 0h4m0 0h23m27 0h7m58 0h4M128 1011.9h8m365 0h31M109 1012.7h8m99 0h4m47 0h4m138 0h9m83 0h69M95 1013.5h15m114 0h50m147 0h121m73 0h5M124 1014.3h4m59 0h4m105 0h4m10 0h56M124 1015.1h17m74 0h76m221 0h5m38 0h14m73 0h2M95 1015.9h10m10 0h4m41 0h18m130 0h4m15 0h22m0 0h15m86 0h27m4 0h62M245 1016.7h19m66 0h6m4 0h4m42 0h16m184 0h42M446 1017.5h11m21 0h54M191 1018.3h38m16 0h16m239 0h22m44 0h20M95 1019.1h46m31 0h4m381 0h32m5 0h13m10 0h27M247 1019.9h46m52 0h8M267 1020.7h9m66 0h5m79 0h8m50 0h13M193 1021.5h4m29 0h10m167 0h9m16 0h23m51 0h24m66 0h4m13 0h9m0 0h10M146 1022.3h5m153 0h29M234 1023.1h14m9 0h15m7 0h8m0 0h13m104 0h49m154 0h16M126 1023.9h12m116 0h4m137 0h74m83 0h39m48 0h5M201 1024.7h19m125 0h20M163 1025.5h89m37 0h20m43 0h21m17 0h31m5 0h11m29 0h73m63 0h6M113 1026.3h4m153 0h4m235 0h7m8 0h4m6 0h4M95 1027.1h42m35 0h6m91 0h4m19 0h45m181 0h8m104 0h6M245 1027.9h22m87 0h9m19 0h18m81 0h24m34 0h13m28 0h7m24 0h4M519 1028.7h20M153 1029.5h83m14 0h58m26 0h9m147 0h15m76 0h63M110 1030.3h33m29 0h21m7 0h8m66 0h4m237 0h16M126 1031.1h5m294 0h9m0 0h7m21 0h25m69 0h15M351 1031.9h19m52 0h39m50 0h4m42 0h4M95 1032.7h16m36 0h29m110 0h16M329 1033.5h16m161 0h4m14 0h19M176 1034.3h54m65 0h24m114 0h41m16 0h11m72 0h4m38 0h26M115 1035.1h29m37 0h12m13 0h24m77 0h16m149 0h25M103 1035.9h14m55 0h11m39 0h16M241 1036.7h53m233 0h4m0 0h12m52 0h27m4 0h4M156 1037.5h15m49 0h6m322 0h4m50 0h4M147 1038.3h7m128 0h52m78 0h14m164 0h10m27 0h17M127 1039.1h38m175 0h5m29 0h18m51 0h13m124 0h48M101 1039.9h4m29 0h11m36 0h12m91 0h12m33 0h41m119 0h18M510 1040.7h46m38 0h10m11 0h8M171 1041.5h46m77 0h37m193 0h33m0 0h27m41 0h19M174 1042.3h17m32 0h5m0 0h66m35 0h19m42 0h18m14 0h6m27 0h4m159 0h26M341 1043.1h26m42 0h6m48 0h33m4 0h4m34 0h15m89 0h2M115 1043.9h55m64 0h4m7 0h42m149 0h4m77 0h6M99 1044.7h24m4 0h25m105 0h43m54 0h4m41 0h12m59 0h36m32 0h7M334 1045.5h40m11 0h49m135 0h4M96 1046.3h6m120 0h10m89 0h10m225 0h54m29 0h5M129 1047.1h4m53 0h15m0 0h29m105 0h27m5 0h11m58 0h40m106 0h20M327 1047.9h9m32 0h18m104 0h51M100 1048.7h5m66 0h92m111 0h89m164 0h4m8 0h5M101 1049.5h7m49 0h15m29 0h21m11 0h23m23 0h13m106 0h37m4 0h18m140 0h27M253 1050.3h4m248 0h13M196 1051.1h11m146 0h49m62 0h4m18 0h8m50 0h4m38 0h13M287 1051.9h82m32 0h13m86 0h6M157 1052.7h10m4 0h8m75 0h121M111 1053.5h26m16 0h4m30 0h9m128 0h47m174 0h15" stroke="#ff7f0e"/><path d="M95 983.1h4m81 0h25m160 0h5M132 983.9h5m340 0h24M133 985.5h14m305 0h5M264 986.3h4M338 987.1h49M165 987.9h4m461 0h14M532 991.1h50M96 991.9h44m202 0h14M200 992.7h52m276 0h5m67 0h44M106 993.5h7m133 0h26M120 994.3h26m465 0h4M438 995.1h11m109 0h30M636 996.7h8M298 997.5h10m199 0h9M268 998.3h21M197 999.9h20m142 0h46M592 1000.7h29M239 1001.5h77M253 1002.3h4m19 0h24m119 0h33M280 1003.1h8M190 1004.7h6m164 0h18m35 0h61m149 0h17M151 1005.5h37m101 0h6m53 0h15m92 0h17m86 0h4M607 1006.3h4M130 1007.1h62m57 0h58m106 0h4M154 1007.9h4m20 0h4M583 1009.5h61M252 1010.3h28M95 1011.1h12M276 1011.9h27M117 1012.7h4m449 0h7M293 1013.5h4m249 0h20M95 1014.3h2m203 0h4M458 1015.1h38M490 1016.7h4M95 1017.5h40M134 1018.3h4m473 0h33M96 1019.9h47m24 0h6m134 0h38M365 1020.7h61M240 1021.5h43m263 0h4M172 1023.1h13M599 1023.9h24M180 1024.7h4M118 1025.5h28m291 0h4m117 0h37m13 0h4M100 1026.3h13m4 0h4m290 0h5m148 0h80M494 1027.1h24m8 0h38m72 0h8M348 1027.9h6M104 1030.3h6m377 0h12m0 0h9m23 0h36M393 1031.1h18M417 1031.9h5m143 0h67M176 1032.7h44M345 1033.5h85m8 0h28M230 1035.1h10m45 0h17M451 1035.9h15M294 1036.7h117M226 1037.5h68M600 1038.3h27M95 1039.9h6m418 0h12M581 1040.7h13M118 1041.5h13m310 0h34M140 1042.3h30m398 0h24M118 1043.1h23m226 0h5M209 1043.9h6m4 0h15m175 0h27m4 0h8m106 0h6m36 0h48M607 1044.7h25M374 1045.5h11m246 0h13M310 1046.3h11m76 0h107M362 1047.1h5m43 0h18M112 1047.9h54m88 0h11M95 1048.7h5m5 0h4m379 0h25M393 1049.5h5m185 0h14M506 1051.9h4M106 1052.7h18m59 0h16m176 0h4" stroke="#2ca02c"/><path d="M106 983.1h39m31 0h4m77 0h12m10 0h86m242 0h4m0 0h33M95 983.9h16m166 0h15m21 0h4M95 984.7h64m32 0h15m267 0h11m130 0h5M119 985.5h10m89 0h16m38 0h4m120 0h5m56 0h19m27 0h10m83 0h21M298 986.3h59m101 0h10m0 0h4m38 0h27m0 0h6M207 987.1h4m209 0h14m178 0h4M141 987.9h16m201 0h66m109 0h33M212 988.7h10m110 0h24m43 0h4m48 0h15m70 0h13M242 989.5h7m387 0h8M214 990.3h55m13 0h41m57 0h4m195 0h22M148 991.1h10m85 0h21m0 0h6m30 0h11m97 0h37m53 0h12m91 0h9m21 0h8M241 991.9h6m42 0h53m14 0h25m73 0h4m84 0h6m35 0h61M107 992.7h4m141 0h11m82 0h38m36 0h43M113 993.5h14m15 0h4m156 0h30m89 0h6m163 0h7m37 0h10M95 994.3h9m42 0h23m211 0h4m53 0h42m101 0h27m8 0h7m18 0h4M244 995.1h10M145 995.9h4m105 0h79m20 0h5m76 0h4M174 996.7h19m16 0h40m103 0h41m130 0h33M151 997.5h31m14 0h4m27 0h6m150 0h26m29 0h54m24 0h73M175 998.3h16m50 0h4m348 0h47M108 999.1h29m11 0h27m184 0h4m14 0h25m147 0h32M97 999.9h24m34 0h12M200 1000.7h6m52 0h89m9 0h27M104 1001.5h39m50 0h4m192 0h4m37 0h40m172 0h2M300 1002.3h13m83 0h23M95 1003.9h19m30 0h5m35 0h9m114 0h104m36 0h62m39 0h32m7 0h28M140 1004.7h16m63 0h66m47 0h28m18 0h29m93 0h4m70 0h45m21 0h4M106 1005.5h45m295 0h9m63 0h28M186 1006.3h49m57 0h33m23 0h22m98 0h38M219 1007.1h30m222 0h22M95 1007.9h12m213 0h40m144 0h53M107 1008.7h52m111 0h16m91 0h10M279 1009.5h15m73 0h4M209 1010.3h7m28 0h8m28 0h8m51 0h15m39 0h5m4 0h18M111 1011.1h20M155 1011.9h5m69 0h18m63 0h17m66 0h55m84 0h112M95 1012.7h14m103 0h4m70 0h58m109 0h48M144 1013.5h4m0 0h36m176 0h12M211 1014.3h27m40 0h4m125 0h108m13 0h6m39 0h7m36 0h23M291 1015.1h16m194 0h11m81 0h40M408 1015.9h35m34 0h4M95 1016.7h16m21 0h52m239 0h8m49 0h10m4 0h9m46 0h30m54 0h11M167 1017.5h16m210 0h53m86 0h26m20 0h20M112 1018.3h4m26 0h49m87 0h21m287 0h4m17 0h4M141 1019.1h31M173 1019.9h21m103 0h10m46 0h27m182 0h27m38 0h10M99 1020.7h13m133 0h4m27 0h42m13 0h11m124 0h10m107 0h12M153 1021.5h6m19 0h7m23 0h18m304 0h16M333 1022.3h22m71 0h27m101 0h15m0 0h39M118 1023.1h54m128 0h20m41 0h7m85 0h9m72 0h32M175 1023.9h79m221 0h77m39 0h4M95 1024.7h36m107 0h9m13 0h51m15 0h4m233 0h32M252 1025.5h33m24 0h39m37 0h5m149 0h9m64 0h32M95 1026.3h5m137 0h19m18 0h37m45 0h8m52 0h16m84 0h8m36 0h4M158 1027.1h4m74 0h33m166 0h54M196 1027.9h45m92 0h7m23 0h19m63 0h4m138 0h4M100 1028.7h15m168 0h6m98 0h33m126 0h71m6 0h21M118 1029.5h35m261 0h14m39 0h23M95 1030.3h9m39 0h29m45 0h57m60 0h4m68 0h21m140 0h68M215 1031.1h9m187 0h14m122 0h9m48 0h40M156 1031.9h15m290 0h5m41 0h4m4 0h42M363 1032.7h4M157 1033.5h11m56 0h78m6 0h16m186 0h14m19 0h12M99 1034.3h32m4 0h4m0 0h37m82 0h10m21 0h6m80 0h58m41 0h4m116 0h21m26 0h3M200 1035.1h6m51 0h4m62 0h4m213 0h9m39 0h5M309 1035.9h60m62 0h20m15 0h17m118 0h43M168 1036.7h4m314 0h32M113 1037.5h43m35 0h5m20 0h4m324 0h4M132 1038.3h15m73 0h31m83 0h8m10 0h52m71 0h26m59 0h30M119 1039.1h4m136 0h4m82 0h22m29 0h20m14 0h13m37 0h28m4 0h23m93 0h16M130 1039.9h4m100 0h5m223 0h12m149 0h4M148 1040.7h8m120 0h6m0 0h21m47 0h31m121 0h4M95 1041.5h11m4 0h8m99 0h77M348 1042.3h4m122 0h61M95 1043.1h23m23 0h33m257 0h20m72 0h6m24 0h22M296 1043.9h12m140 0h69m33 0h4m6 0h36M123 1044.7h4m48 0h4m40 0h26m328 0h7M206 1045.5h56M95 1046.3h1m6 0h37m49 0h34m109 0h6m9 0h11m160 0h4m96 0h13M120 1047.1h9m150 0h7m44 0h5m141 0h60m66 0h21M166 1047.9h88m345 0h35M346 1048.7h28m139 0h4m92 0h8M222 1049.5h11m23 0h4m15 0h4m216 0h6m11 0h49m0 0h22M122 1050.3h53m62 0h16m84 0h26m48 0h4m6 0h20m125 0h45m0 0h33M95 1051.1h4m229 0h21m119 0h6M448 1051.9h29m0 0h5m55 0h13M124 1052.7h14m395 0h10m98 0h3M278 1053.5h15m78 0h25m103 0h33m28 0h14" stroke="#d62728"/><path d="M137 983.9h47m402 0h8m47 0h3M469 984.7h4M147 985.5h4m91 0h30m129 0h4m84 0h14m114 0h21M362 986.3h4M211 987.1h121M157 987.9h8m4 0h58m271 0h35M122 988.7h77m157 0h35m224 0h29M394 989.5h41M323 990.3h24M177 991.1h44M534 991.9h8M417 993.5h4M259 994.3h68m33 0h20m19 0h34M165 995.1h42M124 995.9h17m217 0h8m95 0h6M126 996.7h18m49 0h16m125 0h18M492 997.5h15M119 998.3h9m15 0h28M243 999.1h52M233 999.9h17m16 0h29m4 0h7m246 0h26m40 0h5M449 1000.7h55M517 1001.5h23M196 1002.3h40M434 1003.1h15m152 0h17m15 0h11M167 1003.9h17M129 1004.7h11m479 0h4M392 1006.3h35M307 1007.1h106m120 0h43M107 1007.9h6m247 0h9M159 1008.7h31M448 1009.5h34M107 1011.1h4m241 0h6m281 0h5M212 1011.9h17m31 0h9M375 1012.7h4m65 0h9M197 1013.5h27m50 0h15m83 0h39m131 0h4M97 1014.3h23m87 0h4M184 1016.7h8M254 1017.5h41m81 0h5M359 1020.7h6m115 0h4M581 1021.5h11M272 1023.1h7M138 1023.9h21m310 0h6m120 0h4M131 1024.7h4M112 1025.5h6M432 1026.3h63M154 1027.1h4m187 0h21M116 1027.9h20m369 0h4m43 0h11M420 1028.7h43M505 1029.5h16M497 1031.1h4M518 1032.7h26m0 0h24M502 1033.5h4M144 1035.1h37M117 1036.7h51m17 0h24m413 0h4M263 1039.1h39M239 1039.9h41M126 1040.7h22m120 0h8M95 1042.3h1m256 0h38m76 0h4M390 1043.1h19m6 0h4m156 0h44M342 1043.9h11M152 1044.7h23m125 0h32m300 0h12M99 1045.5h43M95 1047.1h25M265 1047.9h27M300 1048.7h12m205 0h92M363 1050.3h48M95 1051.9h114M543 1052.7h4M95 1053.5h16" stroke="#9467bd"/><path d="M99 983.1h7m52 0h14m33 0h52m193 0h4M501 983.9h4M206 984.7h10m50 0h107m39 0h17m55 0h13m16 0h30m76 0h18M533 985.5h40m0 0h5M95 986.3h53m33 0h32m197 0h7m55 0h8M117 987.1h90m125 0h6m115 0h31M580 987.9h40m6 0h4M199 988.7h4m0 0h9m10 0h6m238 0h4M101 989.5h80m68 0h77m151 0h75M205 990.3h9m212 0h4m15 0h4m54 0h44m58 0h39M136 991.1h12m17 0h12m93 0h30m286 0h11m17 0h17M140 991.9h20m31 0h20m211 0h10m26 0h12M462 992.7h19m40 0h7m23 0h49M171 993.5h66m61 0h4m30 0h34m47 0h4m10 0h26m11 0h55m99 0h16M237 994.3h22m240 0h48m25 0h8m27 0h4M127 995.1h34m427 0h4M349 995.9h4m154 0h4m46 0h35M144 996.7h4m137 0h49m59 0h4m76 0h33M233 997.5h9m128 0h13M95 998.3h24m72 0h9m25 0h16M197 999.1h22m76 0h18m210 0h26m32 0h8M295 999.9h4M189 1000.7h11m217 0h16M95 1001.5h9m62 0h27m10 0h36m77 0h4m0 0h4m146 0h18m149 0h5M106 1002.3h11m335 0h28M288 1003.1h15m67 0h54m25 0h98m71 0h15M509 1003.9h39M95 1004.7h34m156 0h4m16 0h9m0 0h18m142 0h26M219 1005.5h28m225 0h17M370 1006.3h22m160 0h55M95 1007.1h6m91 0h4m303 0h34m59 0h22m22 0h8M182 1007.9h41m21 0h31m17 0h9m68 0h23m19 0h58m88 0h19M211 1008.7h4m132 0h18m147 0h121M251 1009.5h19m174 0h4m106 0h4M483 1010.3h13M202 1011.1h5m0 0h45m16 0h4m4 0h27m55 0h8m132 0h27m105 0h9M95 1011.9h17m28 0h15m5 0h52m35 0h13m43 0h7m138 0h53M379 1012.7h30m9 0h9M297 1013.5h44m74 0h6m149 0h30m36 0h8M120 1014.3h4m19 0h44m4 0h16m60 0h11m109 0h20m108 0h13m52 0h4M95 1015.1h29m290 0h7m75 0h5m16 0h38M260 1015.9h48m4 0h7m224 0h101M270 1016.7h60m6 0h4m177 0h17m94 0h5M135 1017.5h32m167 0h4m119 0h4m0 0h13m139 0h16M116 1018.3h18m4 0h4m87 0h16m16 0h4m155 0h39m89 0h18M296 1019.1h44m96 0h121M380 1019.9h10m6 0h53m0 0h67M95 1020.7h4m92 0h22m284 0h45m0 0h41m46 0h7M148 1021.5h5m6 0h19m19 0h11m112 0h83m54 0h45m24 0h4m20 0h10M359 1022.3h26m99 0h4m120 0h36M368 1023.1h26m72 0h68M154 1024.7h22m8 0h17m28 0h9m92 0h15m257 0h29M95 1025.5h17m173 0h4m59 0h4m21 0h12m163 0h10M135 1026.3h15m106 0h14m41 0h15m0 0h30m182 0h4M277 1027.1h15m74 0h69M320 1027.9h6m108 0h11m4 0h32m161 0h2M463 1028.7h41m113 0h6M236 1029.5h10m97 0h71m132 0h35M208 1030.3h4m0 0h5m125 0h24m65 0h56M131 1031.1h84m28 0h8m84 0h58m145 0h9M127 1031.9h4m67 0h57m0 0h44m175 0h33m54 0h4M111 1032.7h36m185 0h31m4 0h15m121 0h15m50 0h40M181 1033.5h43m206 0h8M131 1034.3h4m133 0h17m34 0h38m202 0h14M193 1035.1h7m151 0h65m44 0h12m77 0h39m42 0h10M117 1035.9h21m21 0h5m74 0h71m174 0h73M196 1037.5h20m210 0h4m0 0h4m135 0h33M408 1038.3h4m89 0h25M123 1039.1h4m65 0h63m161 0h14m26 0h24M105 1039.9h25m63 0h26m151 0h4m16 0h27m7 0h28m55 0h7m68 0h17m20 0h4M102 1040.7h24m55 0h87m113 0h121m4 0h4m94 0h11m8 0h21M106 1041.5h4m365 0h32m13 0h4M170 1042.3h4m120 0h17m97 0h4m47 0h7M451 1043.1h12m41 0h19m6 0h9m81 0h23M95 1043.9h20m100 0h4m181 0h9M245 1044.7h12m124 0h18m107 0h10m29 0h28M142 1045.5h6m132 0h6m10 0h31m246 0h22m0 0h36M232 1046.3h78m68 0h19m107 0h13M156 1047.1h30m67 0h26m261 0h42M95 1047.9h2m195 0h35m78 0h14m170 0h10m35 0h10M109 1048.7h15m0 0h35M192 1049.5h9m286 0h4M95 1050.3h4m158 0h4m38 0h20m143 0h37m19 0h48M99 1051.1h12m4 0h77m259 0h13m10 0h12M219 1051.9h9m37 0h4m0 0h11m270 0h94M245 1052.7h9m125 0h4m121 0h4m21 0h4m32 0h13m59 0h4M163 1053.5h10m23 0h59m19 0h4m189 0h8m0 0h14m85 0h15m8 0h24" stroke="#8c564b"/><path d="M330 983.9h7M611 986.3h14M228 988.7h50M95 990.3h43M221 991.1h22m243 0h12M432 991.9h9M263 992.7h11M384 994.3h15M592 995.1h52M438 995.9h19M397 996.7h17M610 997.5h4M364 998.3h51M528 999.9h16m79 0h21M540 1001.5h39M240 1003.1h40m23 0h6m0 0h6m246 0h20M526 1004.7h21M306 1009.5h61M496 1010.3h18m26 0h15m5 0h44M272 1011.1h4M289 1013.5h4m273 0h4M128 1014.3h4M421 1015.1h37m111 0h4M178 1015.9h16M534 1016.7h15M183 1017.5h22m96 0h16M526 1018.3h18M176 1019.1h4M390 1019.9h6m124 0h42M236 1021.5h4m60 0h20m276 0h13M95 1022.3h51M95 1023.1h15m480 0h17M135 1024.7h19M595 1025.5h7M364 1026.3h4M273 1027.1h4M136 1027.9h4M186 1028.7h24M308 1029.5h7M466 1031.9h4M302 1033.5h6M626 1035.1h4M95 1035.9h8M543 1036.7h52M127 1038.3h5m272 0h4m18 0h49M302 1039.1h38M219 1039.9h15M331 1041.5h86M191 1042.3h8M337 1046.3h9M386 1047.9h19M333 1050.3h4m104 0h21M599 1051.1h36M492 1051.9h8M621 1053.5h23" stroke="#e377c2"/><path d="M172 983.1h4m278 0h7M223 983.9h11m122 0h19m42 0h45m43 0h15m54 0h12M159 984.7h13m44 0h50m111 0h35m97 0h4m45 0h26m0 0h30m23 0h7M234 985.5h8m163 0h47m186 0h6M233 986.3h31m153 0h41m85 0h26M387 987.1h4m43 0h19m85 0h4m94 0h8M476 987.9h22m68 0h14M391 988.7h4m0 0h4m4 0h4m142 0h15M95 989.5h6m281 0h12m70 0h13m75 0h14m34 0h13M138 990.3h15m203 0h24m50 0h15m4 0h54m44 0h32M158 991.1h7m146 0h37m43 0h17m49 0h25m115 0h4m38 0h4M95 991.9h1m68 0h23m194 0h41M111 992.7h46m39 0h4m183 0h36M127 993.5h15m4 0h25m101 0h26m68 0h6m88 0h4m67 0h16M169 994.3h10m20 0h38M109 995.1h18m34 0h4m42 0h37m97 0h97m110 0h10M95 995.9h14m89 0h56m257 0h4m21 0h21M95 996.7h31m149 0h10m129 0h7m85 0h17m33 0h76M132 997.5h19m61 0h15m362 0h4M128 998.3h15m102 0h23m234 0h76M229 999.1h14m82 0h34m270 0h15M217 999.9h16m73 0h10m125 0h18M504 1000.7h88M328 1001.5h16m235 0h58M117 1002.3h51m68 0h17m4 0h19m224 0h16M106 1003.1h8m15 0h21M114 1003.9h30m18 0h5m58 0h17M202 1004.7h17m70 0h16m242 0h27M95 1005.5h11m82 0h31m144 0h48m22 0h13m43 0h29M95 1006.3h16m28 0h4m5 0h23m64 0h10m34 0h13M196 1007.1h8m241 0h26m22 0h6M158 1007.9h20m123 0h19M337 1008.7h10m87 0h6m31 0h41m121 0h11M294 1009.5h12m65 0h27m84 0h18m58 0h16M288 1010.3h51m175 0h26M131 1011.1h20m101 0h16m52 0h32m14 0h15m86 0h4m123 0h19M112 1011.9h16M202 1012.7h10m8 0h47m160 0h17m192 0h8M110 1013.5h34m197 0h19m260 0h16M238 1014.3h29m15 0h14m8 0h6m56 0h21m174 0h12m66 0h5M141 1015.1h18m148 0h25m36 0h46m159 0h20m40 0h9M109 1015.9h6m4 0h41m159 0h8m37 0h44M111 1016.7h4m395 0h7M317 1017.5h17m4 0h30m261 0h15M95 1018.3h17m153 0h13m21 0h121m102 0h4m18 0h4M180 1019.1h116m293 0h5m13 0h10M95 1019.9h1m47 0h24m27 0h53m46 0h4M249 1020.7h18m51 0h9m116 0h23m10 0h4m115 0h13M127 1021.5h21m135 0h17M355 1022.3h4m94 0h31m20 0h36M320 1023.1h6m68 0h4M95 1023.9h31m33 0h16m83 0h47M176 1024.7h4m40 0h9m18 0h13m51 0h15m39 0h8m31 0h42m0 0h9m140 0h7M146 1025.5h17M150 1026.3h87m165 0h9m84 0h14M178 1027.1h21m290 0h5M607 1027.9h4M95 1028.7h5m19 0h4m50 0h13m103 0h57m158 0h15M95 1029.5h23m128 0h4M278 1030.3h56m4 0h4m166 0h7m120 0h9M458 1031.1h4m109 0h27M95 1031.9h32M631 1032.7h9M100 1033.5h5m0 0h40m23 0h13m143 0h5m137 0h36m53 0h62M478 1034.3h12m87 0h17M95 1035.1h20m146 0h24m42 0h24m65 0h24m74 0h26m100 0h4M138 1035.9h21m5 0h8m31 0h19m147 0h62M95 1036.7h22m55 0h13m445 0h14M95 1037.5h2m74 0h4m119 0h35m72 0h20m13 0h13m72 0h25m8 0h17M95 1038.3h32m215 0h10M95 1039.1h24M145 1039.9h4m131 0h4m12 0h33m202 0h41M95 1040.7h7m54 0h25M131 1041.5h40m246 0h24M119 1042.3h21m171 0h18m83 0h4m12 0h27M220 1043.1h121m31 0h18m29 0h12M170 1043.9h39m187 0h4M95 1044.7h4m80 0h40m113 0h4m9 0h9m4 0h23m30 0h4m188 0h4M148 1045.5h17m375 0h29M521 1046.3h31m58 0h7M133 1047.1h23m74 0h23m175 0h8m187 0h21M97 1047.9h4m318 0h71m78 0h21M263 1048.7h37m163 0h6m148 0h10M95 1049.5h6m23 0h17m8 0h8m15 0h20m68 0h15m182 0h30m4 0h4m6 0h11M99 1050.3h23m53 0h58m41 0h25m20 0h14m82 0h6m78 0h6M111 1051.1h4m77 0h4m89 0h43m166 0h50m4 0h38M246 1051.9h19m217 0h10m18 0h27M95 1052.7h11m93 0h22m162 0h121m4 0h21m18 0h18m13 0h7M157 1053.5h6m10 0h14m68 0h19m19 0h31m165 0h10m90 0h8" stroke="#7f7f7f"/><path d="M95 985.5h4M616 987.1h20M95 988.7h27M435 989.5h29m106 0h30M95 992.7h3m217 0h9M237 993.5h9M254 995.1h8M200 997.5h12M289 998.3h6M363 999.1h14M143 1001.5h4M95 1002.3h11M597 1005.5h18M215 1008.7h55M389 1011.1h45m98 0h21M136 1011.9h4m196 0h57M600 1013.5h15M105 1015.9h4M381 1017.5h12m205 0h15M473 1018.3h27M516 1019.9h4M213 1020.7h32m102 0h12M510 1024.7h53M528 1026.3h6M137 1027.1h17m8 0h10M404 1027.9h30M315 1029.5h19m94 0h39M131 1031.9h25m15 0h27m101 0h34M224 1032.7h51M95 1033.5h5M606 1037.5h30M535 1039.1h45M556 1040.7h25M592 1041.5h33M238 1043.9h7M516 1044.7h22m51 0h14M95 1045.5h4M336 1047.9h32m173 0h27M469 1048.7h19m143 0h8M292 1049.5h101M207 1051.1h78M414 1051.9h34M167 1052.7h4" stroke="#bcbd22"/><path d="M145 983.1h13m212 0h26m65 0h17M184 983.9h39m339 0h12M172 984.7h19m260 0h18m28 0h12M129 985.5h4m143 0h74m163 0h16M148 986.3h33m176 0h5m4 0h44M457 987.9h19M439 988.7h8M326 989.5h56m231 0h23M130 991.1h6m374 0h22m111 0h1M211 991.9h26m204 0h13m16 0h51M104 994.3h16m59 0h20m234 0h4m42 0h4m64 0h25m54 0h4M333 995.9h4m130 0h10m115 0h52M95 997.5h22m125 0h30M200 998.3h25m74 0h51m65 0h34M313 999.1h12m77 0h121m66 0h40M316 999.9h39m50 0h27m64 0h5m106 0h11M206 1000.7h52m94 0h4m77 0h5m183 0h23M197 1001.5h6m285 0h25M480 1002.3h20M150 1003.1h32m4 0h54m307 0h4M198 1003.9h23m21 0h12m35 0h6m285 0h7m28 0h29M407 1004.7h6m109 0h4M247 1005.5h42m6 0h10m106 0h22m182 0h29M111 1006.3h28m190 0h8m274 0h33M113 1007.1h17m287 0h28M576 1007.9h5M387 1008.7h47m6 0h31M270 1009.5h9m264 0h11M216 1010.3h28m110 0h39M553 1011.1h37m23 0h17M269 1011.9h7m51 0h9M190 1012.7h12m69 0h15m291 0h59M184 1013.5h13M132 1014.3h11m391 0h27M159 1015.1h56m117 0h36M194 1015.9h66M192 1016.7h53m19 0h6m74 0h42m16 0h21m80 0h7m69 0h7M368 1017.5h8m98 0h4M459 1018.3h14m117 0h17M340 1019.1h91M589 1019.9h38M112 1020.7h79m136 0h4m103 0h9M95 1021.5h32m285 0h16m200 0h16M254 1022.3h50m81 0h41m62 0h16M185 1023.1h49m14 0h9m99 0h5m205 0h24m33 0h21M623 1023.9h16M397 1024.7h7m51 0h55m121 0h13M121 1026.3h14m233 0h34m140 0h18M199 1027.1h18m120 0h8m219 0h6M95 1027.9h21m24 0h56m71 0h53m6 0h7m7 0h8m52 0h4m159 0h17m11 0h16m8 0h27M123 1028.7h50m90 0h20m63 0h41M521 1029.5h25M193 1030.3h7m166 0h40m21 0h4M95 1031.1h31m98 0h19m8 0h49m187 0h10m101 0h6M333 1031.9h18m281 0h12M220 1032.7h4m55 0h7m16 0h30m308 0h4M145 1033.5h12m460 0h27M95 1034.3h4m131 0h28m27 0h4m68 0h9m135 0h58M440 1035.1h20m37 0h17m79 0h33M194 1035.9h9m357 0h41M209 1036.7h12M97 1037.5h16m216 0h72m20 0h5M154 1038.3h66m306 0h34M255 1039.1h4m108 0h7M149 1039.9h32m193 0h16m62 0h10m52 0h5m53 0h10m45 0h17M303 1040.7h12m0 0h35M507 1041.5h13m64 0h8M199 1042.3h24m312 0h33M287 1043.9h9m12 0h34m11 0h43m127 0h27M415 1044.7h55M165 1045.5h41m56 0h18m47 0h7m100 0h106M139 1046.3h49m364 0h4M286 1047.1h44M101 1047.9h4M159 1048.7h12m141 0h4M233 1050.3h4m24 0h13M349 1051.1h4m49 0h49m184 0h9M209 1051.9h10m9 0h18m34 0h7M138 1052.7h19M396 1053.5h71m65 0h13" stroke="#17becf"/></g>
</g></g>
<path d="M101.2 985.3H638.0" stroke="#17becf" stroke-width="1.5"/>
<path d="M101.2 746.7 110.3 746.8 119.4 746.8 128.5 746.9 137.6 746.8 146.7 746.6 155.8 746.3 164.9 746 174 745.8 183.1 745.6 192.2 745.5 201.3 745.6 210.4 745.7 219.5 745.8 228.6 745.9 237.7 746 246.8 745.9 255.9 745.7 265 745.5 274.1 745.2 283.2 745 292.3 744.9 301.4 744.9 310.5 745.1 319.6 745.2 328.7 745.4 337.8 745.6 346.9 745.6 356 745.6 365.1 745.4 374.1 745.2 383.2 745 392.3 744.9 401.4 744.8 410.5 744.9 419.6 745.1 428.7 745.3 437.8 745.5 446.9 745.7 456 745.8 465.1 745.7 474.2 745.6 483.3 745.4 492.4 745.3 501.5 745.2 510.6 745.2 519.7 745.4 528.8 745.6 537.9 745.9 547 746.2 556.1 746.3 565.2 746.4 574.3 746.4 583.4 746.3 592.5 746.2 601.6 746.1 610.7 746.1 619.8 746.2 628.9 746.4 638 746.7" stroke="#a8503c" stroke-width="1.8" fill="none"/>
<rect x="101.2" y="1342.6" width="536.8" height="372.4" fill="#a0826f"/>
<clipPath id="cc"><path d="M101.2 1342.6H638.0V1715.4H101.2Z"/></clipPath>
<g clip-path="url(#cc)"><g opacity="0.55" filter="url(#bl2)">
<g fill="none" stroke-width="1.0"><path d="M529 1338.5h4m14 0h15M594 1339.4h4m43 0h3M144 1340.2h21m251 0h4m39 0h36M541 1341.1h9M95 1341.9h6m136 0h46M431 1342.8h13m72 0h5m17 0h5m81 0h20M101 1343.6h42m182 0h24m8 0h16m155 0h44m56 0h16M95 1344.5h6m27 0h6m441 0h16m12 0h4M285 1345.3h22m4 0h4m291 0h6M289 1347h53m280 0h22M111 1347.9h26M202 1348.7h18m125 0h33m4 0h51m51 0h28m96 0h25M170 1350.4h7m44 0h7m56 0h22m288 0h24M95 1351.3h30m513 0h6M256 1352.1h17m14 0h21m4 0h84M237 1353h4m52 0h14m263 0h44M116 1353.8h15M325 1354.7h14m123 0h16m67 0h59M296 1355.5h53m148 0h4m111 0h30M108 1356.4h5m194 0h37M115 1357.2h9M95 1358.1h13m6 0h10m43 0h15m88 0h10m37 0h20m81 0h6M154 1358.9h12m381 0h26M152 1359.8h4m99 0h34M212 1360.6h17m201 0h23m93 0h10M113 1361.5h4m347 0h16m83 0h22m42 0h5M296 1362.3h4M211 1363.2h14m157 0h26M219 1364h27m41 0h21M469 1364.9h20M160 1365.7h24m254 0h11M175 1366.6h24m146 0h32M223 1367.4h36m48 0h17m182 0h8m16 0h14m12 0h15M201 1368.3h4m4 0h9M302 1369.1h4m206 0h18M244 1370h47m48 0h6m224 0h4m21 0h14M112 1370.8h4m312 0h4m206 0h6M134 1371.7h4m377 0h61M134 1372.5h15m5 0h4m110 0h9m63 0h4m43 0h4M118 1373.4h12m203 0h11M151 1374.2h64m287 0h44M112 1375.1h4m424 0h65M346 1375.9h49m164 0h4m19 0h30M101 1376.8h4m502 0h4M310 1377.6h40m74 0h8m154 0h10M249 1378.5h67m131 0h18m36 0h26m47 0h4M582 1379.3h54M158 1380.2h31M642 1381.9h2M112 1382.7h10M95 1383.6h2M105 1384.4h23m34 0h67m20 0h20m264 0h14M421 1385.3h5M219 1386.1h10m54 0h21M95 1387h17m155 0h4m192 0h9m25 0h4M564 1387.8h41M552 1388.7h35M600 1389.5h4M197 1390.4h47m11 0h67m291 0h4M128 1391.2h32m56 0h4m301 0h23M617 1392.1h19M135 1392.9h4m130 0h22M114 1393.8h88m7 0h26m7 0h5M369 1394.6h4m91 0h19m0 0h46m90 0h4M111 1395.5h4m345 0h20m77 0h12m23 0h8M496 1396.3h4m19 0h24m44 0h4m14 0h38M254 1397.2h9m60 0h53M258 1398h9m244 0h17M398 1399.7h4M337 1400.6h25M467 1401.4h4m94 0h13M117 1402.3h78m78 0h29m189 0h49m0 0h29m4 0h15M180 1403.1h20m44 0h38m298 0h30M141 1404h18M231 1404.8h4m130 0h22M149 1405.7h27m103 0h4m27 0h11m226 0h55M241 1406.5h19M173 1407.4h7m178 0h14m47 0h17m203 0h5M131 1408.2h20m283 0h7m100 0h16M224 1409.1h14m52 0h8m293 0h22M348 1409.9h30M119 1410.8h14M276 1411.6h37m41 0h8m274 0h8M95 1412.5h1m322 0h4M186 1413.3h4m388 0h21M453 1414.2h11M280 1415h6m161 0h41M95 1415.9h12m248 0h5m152 0h4m29 0h4m4 0h4m11 0h6M293 1416.7h4M115 1417.6h19m104 0h49M197 1418.4h7m276 0h5m19 0h23M247 1419.3h7m187 0h21M577 1420.1h18m47 0h2M121 1421h50M130 1421.8h27m88 0h23M228 1423.5h5m24 0h22m9 0h4m120 0h13m215 0h4M283 1424.4h12m327 0h21M199 1425.2h16m229 0h4M249 1426.1h13m290 0h34M403 1426.9h7m169 0h4M260 1427.8h27m315 0h33M371 1428.6h4m13 0h5M404 1429.5h14m71 0h8M155 1431.2h4m245 0h10m42 0h11m51 0h24m91 0h11M101 1432h29m27 0h45m238 0h11M160 1432.9h52m186 0h18m29 0h6m5 0h14m16 0h10m32 0h27M509 1433.7h24M199 1434.6h20M254 1435.4h12m49 0h15m111 0h4m129 0h5M208 1436.3h17M214 1437.1h30m118 0h17m140 0h13m13 0h20m50 0h29M438 1438h11m0 0h21M97 1438.8h24m110 0h23m86 0h31m232 0h23M114 1439.7h8m290 0h4m126 0h18m30 0h4m4 0h4m28 0h4M542 1440.5h102M200 1441.4h37m403 0h4M504 1444.8h30M152 1445.6h23M450 1446.5h35m94 0h27M503 1449h59M398 1450.7h4M150 1451.6h14m303 0h16m4 0h157M523 1455.8h16m13 0h44M610 1456.7h16M377 1458.4h212M107 1459.2h88M447 1460.9h197M323 1461.8h99M599 1465.2h45M95 1467.7h40m232 0h78M315 1469.4h329M308 1471.1h29M324 1473.7h121M116 1474.5h344M396 1476.2h47M95 1477.1h55m55 0h60M223 1478.8h211M618 1479.6h26M260 1483.9h98M95 1484.7h222M184 1489h180M194 1495.8h450M173 1497.5h18M95 1498.3h549M95 1503.4h549M95 1506h135M95 1507.7h53M113 1510.2h531M95 1511.9h14M95 1512.8h549M95 1513.6h549M95 1516.2h43M616 1518.7h15M95 1522.1h73M95 1524.7h341M95 1528.1h330M95 1531.5h549M95 1532.3h549M95 1535.7h549M95 1538.3h40M95 1539.1h541M221 1543.4h423M95 1544.2h414M98 1552.7h546M556 1561.2h88M583 1573.1h61M95 1595.2h549M486 1602h30M247 1612.2h397M344 1630.1h300M485 1644.5h159M95 1649.6h392M95 1654.7h260M111 1659.8h194M454 1663.2h190M342 1664.1h302M387 1668.3h179M95 1689.6h80M160 1690.4h484M435 1698.1h39M95 1699.8h5M381 1718.5h263" stroke="#1f77b4"/><path d="M193 1338.5h28m13 0h8m69 0h15m17 0h9m59 0h8M95 1339.4h16m4 0h8m25 0h56m110 0h59m34 0h16m21 0h53m74 0h23M254 1340.2h30m13 0h24m174 0h7m9 0h24M129 1341.1h93m138 0h7m0 0h42m96 0h4m13 0h19m9 0h48M208 1341.9h15m60 0h11m24 0h17m119 0h74m0 0h14m49 0h4m10 0h4M247 1342.8h4m132 0h27m40 0h4M258 1343.6h35m56 0h8M101 1344.5h7m45 0h40m106 0h11m165 0h7m17 0h4m32 0h7m49 0h4m12 0h37M557 1345.3h21M96 1346.2h4m119 0h13m223 0h9M148 1347h81m6 0h20m130 0h64m21 0h4m11 0h21M206 1347.9h4m54 0h4m194 0h18M238 1348.7h6m85 0h16m224 0h39M192 1349.6h25m52 0h7m0 0h10m147 0h10m97 0h52m22 0h16M143 1350.4h17m68 0h15m104 0h4m61 0h35M129 1351.3h16m75 0h31m134 0h9m63 0h16m64 0h19m14 0h10m5 0h6m19 0h4M157 1352.1h4m48 0h15m53 0h10m113 0h8m182 0h26M158 1353h4m52 0h23m21 0h5M112 1353.8h4m15 0h7m75 0h26m54 0h25m11 0h27m27 0h47m151 0h20m24 0h6M120 1354.7h17m37 0h69m66 0h16m22 0h13m25 0h6m95 0h8m0 0h37M191 1355.5h105m291 0h25M394 1356.4h68m59 0h4m6 0h40M210 1357.2h15m18 0h37m98 0h35m13 0h24M108 1358.1h6m68 0h8m178 0h50m30 0h26m89 0h8M108 1358.9h42m16 0h65m4 0h80m168 0h4m44 0h10m41 0h4m0 0h4m11 0h8m5 0h22M162 1359.8h30m13 0h14m13 0h23m101 0h130m16 0h4M229 1360.6h31m159 0h4m45 0h5m83 0h21m44 0h20M117 1361.5h5m298 0h9m85 0h4m20 0h5m42 0h14M274 1362.3h18m86 0h5m165 0h4m65 0h27M95 1363.2h19m17 0h35m89 0h34M180 1364h4m10 0h9m0 0h11m213 0h10m77 0h33m77 0h4M267 1364.9h70m59 0h69m36 0h27M155 1365.7h5m99 0h9m70 0h48M95 1366.6h75m44 0h6m353 0h56m0 0h8M443 1367.4h54m29 0h4m14 0h12m15 0h23M186 1368.3h15m69 0h66m85 0h30m12 0h8m41 0h20M164 1369.1h17m117 0h4m19 0h4m30 0h17m214 0h13M95 1370h3m217 0h24m114 0h13m107 0h4m31 0h21M273 1370.8h11m68 0h18m36 0h18m8 0h31m156 0h4M306 1371.7h18m111 0h4m144 0h34M120 1372.5h14m130 0h4m68 0h4m165 0h6m0 0h88m5 0h17M103 1373.4h11m0 0h4m12 0h24m93 0h33m10 0h4m21 0h18m94 0h5M96 1374.2h42m77 0h9M160 1375.1h19m233 0h4m83 0h41M95 1375.9h20m29 0h40m215 0h8m97 0h48m15 0h11M105 1376.8h19m34 0h6m111 0h4m122 0h10m125 0h11M100 1377.6h21m34 0h13m0 0h4m286 0h73m23 0h14m54 0h4M96 1378.5h28m84 0h18m387 0h31M96 1379.3h10m530 0h8M119 1380.2h18m430 0h7M154 1381h108m14 0h8m32 0h23m87 0h6m72 0h30M329 1381.9h27m160 0h60M95 1382.7h13m43 0h57m103 0h4m17 0h23m213 0h25M169 1383.6h9m36 0h44m12 0h4M95 1384.4h10m164 0h15m51 0h23m71 0h11M249 1385.3h8m65 0h4m55 0h5m40 0h11M215 1386.1h4m57 0h7m180 0h68m35 0h17M123 1387h29m147 0h4m27 0h20m21 0h21m22 0h20m38 0h7m85 0h80M202 1387.8h18m169 0h4m47 0h87m106 0h11M222 1388.7h9m125 0h6m8 0h71m168 0h35M117 1389.5h9m41 0h24m91 0h7m113 0h4m39 0h4m10 0h60m56 0h25m4 0h21M105 1390.4h38m12 0h6m294 0h22M124 1391.2h4m32 0h56m176 0h39m54 0h5M134 1392.1h5m89 0h4m0 0h57m98 0h6m0 0h7m0 0h13m61 0h14m124 0h5m19 0h8M584 1392.9h33M202 1393.8h7m38 0h46m330 0h15M162 1394.6h4m207 0h45m138 0h14M374 1395.5h43m63 0h23m7 0h10m80 0h13M105 1396.3h10m82 0h14m34 0h17m41 0h20m82 0h49m46 0h19M95 1397.2h31m279 0h13m20 0h21M183 1398h8m239 0h4M129 1398.9h9m253 0h8m4 0h11m146 0h9M95 1399.7h5m54 0h7m162 0h9m56 0h6m112 0h24m111 0h3M97 1400.6h24m153 0h16m9 0h15M95 1401.4h36m35 0h5m176 0h6m95 0h4m71 0h42M213 1402.3h60m99 0h32m58 0h29M125 1403.1h5m0 0h12m0 0h10m48 0h11m75 0h56m275 0h27M132 1404h9m208 0h5m24 0h6m178 0h16M568 1404.8h7M514 1405.7h11m99 0h17m0 0h3M152 1406.5h12m155 0h39m11 0h28m16 0h15m37 0h35M95 1407.4h7m19 0h17m0 0h4m174 0h4m185 0h5m110 0h19M204 1408.2h25m25 0h7m51 0h10m30 0h19m52 0h7m90 0h21M193 1409.1h27m78 0h7m32 0h29m26 0h4M96 1409.9h4m127 0h22m13 0h36m15 0h21m56 0h5m6 0h60m48 0h17m82 0h9M95 1410.8h16m4 0h4m164 0h20m87 0h17m71 0h8M113 1411.6h43m29 0h36m106 0h5m70 0h31m37 0h54M123 1412.5h4m8 0h5m29 0h20m49 0h13m228 0h6m28 0h17M95 1413.3h15m40 0h13m16 0h7m59 0h53m176 0h46m106 0h4M110 1415h27m131 0h12m6 0h4m226 0h9m6 0h14m33 0h7M360 1415.9h35m121 0h4M95 1416.7h6m119 0h11m66 0h26m4 0h36m4 0h4m106 0h4m8 0h12M154 1417.6h7m11 0h62m353 0h18M182 1418.4h15m54 0h27m66 0h28m0 0h26M484 1419.3h6m74 0h4M460 1420.1h21m77 0h6m48 0h30M95 1421h8m68 0h23m35 0h6m58 0h13m130 0h39m72 0h53m15 0h29M98 1421.8h9m217 0h22m150 0h17m83 0h4M149 1422.7h42m181 0h20m15 0h16M279 1423.5h9m260 0h57M119 1424.4h22m68 0h7m57 0h10m104 0h30m59 0h52M496 1425.2h21m97 0h30M262 1426.1h18m145 0h7m96 0h5m14 0h5m47 0h18M211 1426.9h4m60 0h47m36 0h37m4 0h4m7 0h16M100 1427.8h4m83 0h40m11 0h22m118 0h61M195 1428.6h8m150 0h7m15 0h13m56 0h4m179 0h10M343 1429.5h17m0 0h21m51 0h51m119 0h4M526 1430.3h40m59 0h19M159 1431.2h4m201 0h24m88 0h20m46 0h29M241 1432h9m42 0h22m45 0h14m27 0h36m163 0h45M496 1432.9h32m72 0h44M112 1433.7h6m27 0h9m225 0h57m59 0h14m70 0h11m4 0h10M188 1434.6h11m63 0h77m13 0h16m56 0h37m40 0h36m43 0h27m4 0h33M119 1435.4h53m55 0h27m26 0h4m64 0h33m64 0h23m39 0h14M425 1436.3h78m9 0h23M296 1437.1h23m15 0h28M95 1438h6m96 0h18m0 0h4m0 0h34m118 0h18m104 0h34m95 0h18M172 1438.8h8m4 0h15m291 0h4m82 0h27m23 0h18M95 1439.7h19m8 0h20m274 0h42m136 0h4m36 0h10M321 1440.5h12m42 0h12m12 0h13m117 0h13M120 1441.4h7m22 0h51m187 0h59M312 1442.2h58m60 0h11M433 1443.1h60m75 0h34M163 1443.9h100m89 0h4m95 0h7M95 1444.8h85m22 0h10m4 0h9m10 0h35m68 0h64m90 0h12M175 1445.6h76m80 0h40m97 0h44M228 1446.5h31m22 0h80m33 0h43m192 0h15M125 1447.3h37m284 0h27m38 0h15m0 0h12M621 1448.2h23M520 1449.9h4M225 1450.7h58M483 1451.6h4M550 1452.4h4m44 0h27M95 1453.3h155m255 0h91M255 1455h25m321 0h43M484 1456.7h10M151 1457.5h179m293 0h21M195 1459.2h11m207 0h45M608 1460.1h36M263 1460.9h14M171 1462.6h196m37 0h240M137 1464.3h28m0 0h223m174 0h79M135 1467.7h174m280 0h55M95 1468.6h127m283 0h139M152 1469.4h34M95 1472h352M95 1472.8h174M117 1473.7h141m187 0h12M95 1476.2h40M170 1478.8h53M159 1479.6h374M464 1480.5h180M95 1481.3h65M403 1483h241M251 1483.9h9m300 0h84M95 1486.4h253m0 0h296M95 1487.3h85m270 0h194M364 1489h65M95 1490.7h9M521 1494.1h123M95 1494.9h37m4 0h508M513 1499.2h131M95 1500h29M95 1501.7h77M95 1502.6h77M95 1511.1h82M109 1511.9h172M95 1514.5h385M138 1516.2h254M95 1518.7h521M446 1519.6h198M446 1520.4h198M168 1522.1h96M95 1528.9h549M95 1529.8h549M246 1530.6h398M95 1537.4h271m76 0h70m0 0h132M376 1538.3h76M95 1540h549M188 1540.8h456M95 1545.1h500M319 1550.2h325M319 1551h325M125 1551.9h519M95 1553.6h425M95 1558.7h549M638 1563.8h6M638 1564.6h6M607 1576.5h37M607 1577.4h37M595 1580.8h49M95 1584.2h549M95 1585h549M95 1585.9h549M544 1588.4h26M95 1589.3h398M152 1591.8h189m102 0h201M95 1601.2h23M516 1602h128M95 1603.7h231M95 1604.6h141M95 1605.4h141M95 1608h209M95 1608.8h209M95 1609.7h59m0 0h161M201 1612.2h46M260 1613.1h187M192 1613.9h313M192 1614.8h313M95 1616.5h49m404 0h70m0 0h26M95 1617.3h290m126 0h50M95 1619h549M95 1620.7h3m282 0h184M491 1625.8h153M312 1627.5h332M310 1629.2h117M95 1630.9h203M95 1634.3h306M321 1639.4h323M95 1640.3h485M95 1641.1h386M546 1645.4h98M110 1647.1h534M308 1648.8h63M95 1663.2h1M95 1664.9h163M95 1665.8h6m214 0h112M153 1667.5h274m98 0h119M566 1668.3h78M95 1671.7h458M478 1672.6h166M515 1673.4h79M95 1674.3h64M95 1675.1h64M95 1676.8h6m0 0h31M477 1680.2h167M95 1688.7h232M391 1689.6h253M351 1692.1h103M95 1697.2h6M275 1698.1h160M95 1703.2h549M234 1705.7h37M95 1708.3h529M95 1710.8h89M95 1718.5h286" stroke="#ff7f0e"/><path d="M381 1338.5h16m84 0h23m92 0h22M107 1340.2h13m45 0h22m101 0h9m123 0h25m114 0h38M222 1341.1h25M101 1341.9h53m470 0h20M97 1343.6h4M266 1346.2h7M137 1347.9h69M95 1348.7h8m89 0h10m318 0h30M164 1349.6h28M160 1350.4h10m87 0h27M306 1351.3h38M308 1352.1h4m139 0h26m80 0h4M144 1353h14m388 0h12M367 1353.8h7M95 1354.7h16m40 0h10m220 0h4M493 1355.5h4M124 1357.2h42m183 0h29m35 0h4M130 1358.1h12m332 0h4M97 1358.9h4M517 1359.8h44M345 1360.6h11M337 1361.5h6m200 0h4M153 1362.3h21M477 1363.2h15M246 1364h4M528 1364.9h17M313 1365.7h8M481 1366.6h7M594 1367.4h6M532 1368.3h33M540 1370h29m60 0h15M156 1370.8h38M95 1372.5h21m115 0h14M511 1373.4h54M612 1375.9h15M164 1376.8h13m27 0h17m91 0h59m141 0h9M442 1377.6h4M118 1379.3h4M95 1380.2h1m202 0h55M105 1381h8m18 0h4M126 1382.7h25m143 0h17m44 0h50m144 0h19m68 0h4M274 1383.6h17m182 0h5M537 1387h27M115 1387.8h18m135 0h28m4 0h85M95 1388.7h4m4 0h7M196 1389.5h44m166 0h39M109 1391.2h5m0 0h10m96 0h4m320 0h37M95 1392.9h4m481 0h4M471 1393.8h10M166 1394.6h9m67 0h51M107 1395.5h4m74 0h58M505 1397.2h4M466 1398h45M142 1398.9h37m160 0h4M221 1401.4h84m124 0h9m158 0h20M639 1402.3h5M346 1403.1h20m202 0h12M443 1404h13M498 1404.8h12M122 1405.7h27M223 1406.5h8M430 1408.2h4m17 0h4m142 0h17M366 1409.1h4m73 0h29M526 1409.9h17M332 1411.6h4M127 1412.5h8m54 0h49m151 0h29M321 1415h9m37 0h6m172 0h29M520 1415.9h21m8 0h4M98 1417.6h17m176 0h121M306 1418.4h21m200 0h47M95 1419.3h29m426 0h4M595 1420.1h4M306 1421h31m56 0h43M311 1421.8h13m65 0h32M484 1423.5h7M417 1424.4h18M280 1426.1h20m156 0h4M583 1426.9h4M513 1427.8h43M224 1428.6h24M324 1429.5h4m215 0h44M96 1430.3h4m4 0h32m112 0h69M414 1431.2h13m160 0h4M383 1432h17m36 0h4m15 0h32M133 1434.6h9M559 1436.3h13M175 1437.1h12M182 1438h15M551 1438.8h25M211 1439.7h102m15 0h9m11 0h25M486 1440.5h5M585 1443.9h4M180 1444.8h18m220 0h6m171 0h49M547 1447.3h97M562 1449h82M402 1450.7h84M263 1451.6h32m0 0h30M424 1452.4h23M95 1454.1h475M280 1455h169M250 1455.8h11M472 1456.7h8M529 1459.2h41M95 1460.1h60m93 0h58m74 0h228M507 1466h137M465 1467.7h124M222 1468.6h283M160 1470.3h206M493 1478.8h151M95 1483h270M95 1489h89M95 1519.6h9M95 1520.4h9M538 1521.3h106M619 1525.5h25M526 1538.3h118M95 1554.4h549M183 1565.5h461M95 1569.7h549M236 1604.6h408M236 1605.4h408M150 1612.2h51M516 1629.2h128M411 1642h104M251 1653.9h393M355 1654.7h289M95 1655.6h549M95 1657.3h198M197 1670h135M197 1670.9h135M278 1682.8h366M95 1684.5h496M95 1685.3h496M95 1687h247M612 1687.9h32M191 1689.6h200M505 1700.6h139M95 1702.3h123M95 1704h549M271 1705.7h373" stroke="#2ca02c"/><path d="M221 1338.5h13m12 0h65m86 0h14m122 0h14m71 0h6M204 1339.4h4m303 0h9m117 0h4M187 1340.2h7m38 0h9m0 0h13m285 0h16M247 1341.1h12m4 0h17m229 0h13M198 1341.9h4m111 0h5m21 0h51m4 0h56m96 0h24M117 1342.8h7m127 0h4m9 0h35m155 0h4M143 1343.6h8m17 0h79m46 0h32m52 0h9m111 0h6M310 1344.5h7m111 0h36m44 0h17m17 0h33M176 1345.3h92m39 0h4m11 0h63m41 0h74m78 0h4m30 0h4M95 1346.2h1m117 0h6m96 0h5m126 0h9M144 1347h4m301 0h13M104 1347.9h7m330 0h9m59 0h34m68 0h4M633 1348.7h4M124 1349.6h4m136 0h5m155 0h9m73 0h34m90 0h4M343 1350.4h4m4 0h20M164 1351.3h16m75 0h51m167 0h10M273 1352.1h4m131 0h14M136 1353h8m18 0h8m40 0h4m27 0h17m280 0h8M97 1353.8h15m30 0h19m161 0h7m112 0h33m9 0h4M111 1354.7h9m411 0h14M365 1355.5h32m10 0h38m27 0h7m22 0h4M147 1356.4h10m216 0h11m102 0h35M229 1357.2h10M190 1358.1h24m414 0h16M101 1358.9h7m220 0h18m117 0h6m41 0h17M97 1359.8h38m371 0h11M133 1361.5h5m291 0h26m55 0h4m4 0h20m9 0h8m44 0h12m30 0h3M135 1362.3h18m296 0h57M248 1363.2h7m57 0h38M95 1364h18m4 0h30m7 0h12m142 0h12m152 0h24m132 0h12M260 1364.9h7M133 1365.7h22m140 0h6m258 0h39M385 1366.6h54m38 0h4m156 0h7M123 1367.4h5m259 0h27M336 1368.3h13m38 0h22m92 0h11m107 0h25M144 1369.1h20m86 0h4m18 0h18M141 1370h25m53 0h12m264 0h28m54 0h17M98 1370.8h14m27 0h9m46 0h15m6 0h30m88 0h4m126 0h17m47 0h92M95 1371.7h24m19 0h4m49 0h4m11 0h26m92 0h7m135 0h16m135 0h27M184 1372.5h4m61 0h8m147 0h34M432 1373.4h4m185 0h14M138 1374.2h13m73 0h49m114 0h26m18 0h5m133 0h10m48 0h17M116 1375.1h31m83 0h15m162 0h5m39 0h31M115 1375.9h29m251 0h4m64 0h6m24 0h11m123 0h5M438 1376.8h21m37 0h16m39 0h19M188 1377.6h20m55 0h47m94 0h15m13 0h10m4 0h12m183 0h3M194 1378.5h14m108 0h14m135 0h36m26 0h6m0 0h37m39 0h4M114 1379.3h4m205 0h30m62 0h10m23 0h32m42 0h17M262 1381h14m77 0h18M95 1381.9h13m42 0h19m0 0h40m13 0h40m94 0h11m209 0h66M208 1382.7h38m159 0h27m55 0h4M165 1383.6h4m176 0h4m86 0h38m5 0h12M229 1384.4h20m35 0h10m230 0h9m14 0h15m28 0h8M142 1385.3h4m99 0h4m77 0h4m6 0h45m21 0h19m136 0h40m18 0h24M152 1387h27m96 0h4M96 1387.8h19m181 0h4m104 0h6M454 1388.7h37m35 0h7M108 1389.5h9m13 0h17m200 0h12m4 0h35m51 0h10m60 0h31m14 0h11m61 0h8M143 1390.4h12m256 0h44m22 0h4m61 0h10M431 1391.2h21M109 1392.1h9m265 0h4m165 0h60M244 1392.9h21m26 0h27m84 0h7m75 0h22m36 0h19m9 0h4M485 1393.8h97M96 1394.6h11m432 0h13M115 1395.5h37m95 0h42M211 1396.3h30m21 0h26M232 1397.2h18m273 0h9M210 1398h34m4 0h10m9 0h64m4 0h34m19 0h20m120 0h4m23 0h17m37 0h19M179 1398.9h78m97 0h9m121 0h6m96 0h14M292 1399.7h14m13 0h4m9 0h4m0 0h52m14 0h11m45 0h18m4 0h26m24 0h30M248 1400.6h4m7 0h15m16 0h9m15 0h9m70 0h45m38 0h103m0 0h10M305 1401.4h17m6 0h19m6 0h7m23 0h46m71 0h23m55 0h18M308 1402.3h17M211 1403.1h17m320 0h20M248 1404h28m78 0h24m78 0h4m16 0h7M235 1404.8h26m126 0h54m123 0h4m13 0h10m17 0h36M273 1405.7h6M95 1406.5h57m46 0h4m4 0h4m21 0h10m117 0h11m59 0h12M243 1407.4h32m165 0h65m86 0h29M95 1408.2h29m215 0h13M138 1409.1h33m71 0h48m80 0h14m21 0h34m50 0h89m35 0h31M100 1409.9h8m65 0h17m150 0h8m38 0h4M133 1410.8h40m64 0h13m236 0h11m50 0h55M313 1411.6h4m19 0h18M110 1413.3h17m45 0h7m119 0h15m14 0h21m84 0h31m0 0h6m51 0h5M200 1414.2h6m209 0h13m0 0h19m146 0h8M95 1415h11m122 0h6m56 0h7m0 0h7m26 0h29m4 0h4m14 0h4M395 1415.9h4M249 1416.7h31m0 0h13m78 0h5m44 0h19m26 0h12m4 0h4M95 1417.6h3m63 0h4m293 0h30M175 1418.4h7m272 0h15m105 0h15m37 0h14M554 1419.3h10m73 0h4M254 1420.1h15m77 0h34m26 0h5m23 0h26M111 1421h10m140 0h32m91 0h9M272 1421.8h25m4 0h10m35 0h43m201 0h6m34 0h8M248 1422.7h34m141 0h46m4 0h4M95 1423.5h44m94 0h24m73 0h23M176 1424.4h33m104 0h74M219 1425.2h55m243 0h4M95 1426.1h11m34 0h70m0 0h39m51 0h28m48 0h18m139 0h14m39 0h13m31 0h14M552 1426.9h5M181 1427.8h6m100 0h14m334 0h6M288 1428.6h26m256 0h53M191 1429.5h5m132 0h15m38 0h23m79 0h6m98 0h5M100 1430.3h4m125 0h19m218 0h31m19 0h10m40 0h24M103 1431.2h38m29 0h60m35 0h99m24 0h12m27 0h12m57 0h22M202 1432h12m359 0h26M95 1432.9h3m353 0h5M118 1433.7h14m22 0h11m42 0h48M230 1434.6h13M172 1435.4h11m30 0h9m44 0h14m105 0h26m57 0h39m80 0h56M153 1436.3h4m83 0h4m106 0h11m48 0h16m78 0h9m23 0h24m13 0h30M187 1437.1h23m173 0h11m0 0h40m67 0h11m20 0h13m45 0h19M307 1438h35m68 0h28m144 0h5M148 1438.8h24m322 0h16m10 0h4M373 1439.7h5M135 1440.5h34m95 0h57m170 0h4M237 1441.4h55M95 1442.2h11m374 0h4M105 1443.1h4m262 0h56m66 0h48m16 0h4M95 1443.9h30m23 0h15m100 0h50m149 0h14m88 0h11m14 0h55M300 1444.8h17m234 0h44M95 1445.6h3M259 1446.5h22M538 1447.3h9M288 1448.2h17m31 0h90M383 1449h120M617 1450.7h21M98 1451.6h27m39 0h16M95 1452.4h82m270 0h103M427 1453.3h12m157 0h17M103 1455h26M241 1455.8h9M95 1457.5h56m179 0h132M589 1458.4h55M95 1459.2h12M95 1461.8h101m425 0h5M95 1464.3h42M95 1465.2h504M95 1466h56M309 1467.7h58M129 1469.4h23M95 1471.1h141M468 1472h88M95 1473.7h22M443 1476.2h25M414 1477.1h89m47 0h94M164 1481.3h152M415 1484.7h229M633 1497.5h11M281 1500h363M95 1500.9h386M519 1509.4h125M95 1517h549M95 1517.9h549M523 1521.3h15M425 1528.1h27M135 1538.3h241M95 1543.4h126M509 1544.2h135M95 1545.9h549M95 1546.8h549M95 1551.9h30M95 1557h549M95 1557.8h549M95 1570.6h549M95 1571.4h549M95 1572.3h407M95 1573.1h488M95 1576.5h512M95 1577.4h512M95 1580.8h500M95 1588.4h449M95 1596.1h161m0 0h70M95 1596.9h161m0 0h70M540 1600.3h104M95 1613.9h97M95 1614.8h97M95 1615.6h329M95 1624.1h139M427 1629.2h89M95 1630.1h249M361 1636.9h283M95 1642h316M95 1647.9h549M371 1648.8h273M626 1650.5h18M95 1651.3h282M95 1653.9h156M293 1657.3h231M305 1659.8h215M95 1661.5h124m117 0h307M101 1665.8h214M95 1666.6h399M132 1669.2h512M95 1670h102M95 1670.9h102M95 1672.6h383M164 1676.8h353M95 1681.9h29m276 0h244M233 1687.9h379M429 1691.3h215M381 1693h164M381 1693.8h164M391 1698.9h253M95 1705.7h139M233 1709.1h411M95 1710h549M95 1711.7h549M95 1715.9h306M95 1717.6h549" stroke="#d62728"/><path d="M242 1338.5h4M497 1339.4h10M284 1340.2h4m33 0h37M461 1341.1h44m106 0h21M390 1341.9h4M322 1342.8h15m73 0h21m41 0h44m75 0h17M247 1343.6h7M229 1344.5h22m24 0h24m86 0h36M95 1345.3h81m139 0h7M137 1346.2h45m303 0h37M255 1347h4m351 0h12M210 1347.9h54m216 0h5m122 0h4M378 1348.7h4m168 0h7M286 1349.6h4m6 0h46M177 1350.4h13m185 0h37m105 0h8M125 1351.3h4m303 0h15M429 1352.1h22m95 0h11m4 0h29M95 1353h34m246 0h49m40 0h4M95 1353.8h2m259 0h11m63 0h11M258 1354.7h51m295 0h35M445 1355.5h6m132 0h4M621 1356.4h23M501 1357.2h65m38 0h11M315 1358.9h13m59 0h4m96 0h23m99 0h5M95 1359.8h2m95 0h13m364 0h10m22 0h43M260 1360.6h51m45 0h26M379 1361.5h41M530 1362.3h18M114 1363.2h17m158 0h23m38 0h32m153 0h15m34 0h19m23 0h4M214 1364h5m101 0h16M97 1364.9h42m326 0h4m133 0h12M301 1365.7h4m16 0h17M493 1366.6h4M210 1367.4h7m42 0h4m239 0h4m94 0h17M530 1369.1h22m47 0h26M466 1370h29M232 1371.7h20m230 0h13M188 1372.5h43m233 0h41m116 0h23M95 1373.4h8M413 1374.2h14M445 1375.1h6M184 1375.9h82m25 0h46m302 0h5M128 1376.8h30m25 0h21m26 0h45m4 0h16M249 1377.6h4m166 0h5m177 0h21M174 1378.5h20m178 0h31m201 0h5M480 1379.3h4M189 1380.2h16m69 0h13M436 1381h4M108 1381.9h42m245 0h47m70 0h4M108 1382.7h4m134 0h48m138 0h4M178 1383.6h12m0 0h9m98 0h48m35 0h4m8 0h10M358 1384.4h18m69 0h50m118 0h31M232 1385.3h13m12 0h38M165 1386.1h4m135 0h4m123 0h32M250 1387h17m12 0h20M150 1387.8h52m218 0h20m87 0h32M140 1388.7h27M147 1389.5h8M166 1390.4h22m4 0h5m139 0h4m277 0h14M383 1391.2h4M289 1392.1h62m66 0h12M318 1392.9h22M95 1393.8h19m121 0h7M115 1396.3h38m135 0h15m240 0h44M470 1397.2h20M108 1398h4m10 0h50m456 0h16M165 1399.7h68M377 1401.4h6M181 1404h12m44 0h11M95 1404.8h9M498 1405.7h4M210 1406.5h13m337 0h36m0 0h15M371 1408.2h13m118 0h18m44 0h18m42 0h18M382 1409.9h4m179 0h14m38 0h7M497 1410.8h17M170 1411.6h15M140 1412.5h4m296 0h39m149 0h16M190 1413.3h37m121 0h34m255 0h4M124 1414.2h24m28 0h18m323 0h37m12 0h9M180 1415h37M169 1415.9h7M101 1416.7h9m253 0h4m72 0h22m44 0h42M612 1417.6h32M283 1418.4h23M164 1419.3h36m123 0h13m9 0h13m108 0h18m43 0h15m26 0h12m50 0h7M380 1420.1h26m193 0h13M194 1421h31M107 1421.8h23m362 0h4M282 1422.7h23m87 0h15m70 0h78M139 1423.5h46m19 0h11M141 1424.4h9m149 0h14m231 0h33m66 0h1M358 1425.2h13m77 0h48M432 1426.1h18M215 1426.9h60m47 0h28m45 0h4M231 1427.8h7m322 0h4M95 1428.6h81m10 0h9m87 0h6m271 0h11M162 1429.5h4m331 0h17m78 0h10m41 0h1M230 1431.2h16m221 0h9M214 1432h20m217 0h4m102 0h16M98 1432.9h24m263 0h4m27 0h29M165 1433.7h42m136 0h36m57 0h59m95 0h4M142 1434.6h46M95 1435.4h24m175 0h21m122 0h4M95 1436.3h58m72 0h15m11 0h11m120 0h27M162 1438h11M121 1438.8h27m168 0h16m192 0h6M313 1439.7h6M387 1440.5h4M95 1441.4h14m183 0h22M441 1442.2h39m4 0h58M328 1443.1h22m191 0h16M485 1443.9h58M361 1446.5h33m91 0h31m8 0h55M162 1447.3h118M426 1448.2h99m45 0h51M312 1449h71M586 1449.9h58M100 1450.7h29m357 0h131M325 1451.6h6M554 1452.4h26M95 1455h8m57 0h95M272 1455.8h246M626 1456.7h18M244 1460.1h4M626 1461.8h18M95 1462.6h76M260 1466h27M369 1466.9h97M95 1469.4h34M607 1472.8h37M457 1473.7h93M166 1477.1h39M95 1479.6h64M95 1480.5h322m25 0h22M160 1481.3h4M95 1483.9h156M180 1487.3h205M583 1488.1h61M162 1489.8h128M95 1491.5h549M254 1492.4h169M230 1506h414M235 1507.7h409M95 1508.5h424M480 1514.5h164M631 1518.7h13M95 1523h549M95 1526.4h549M452 1528.1h192M95 1547.6h549M95 1548.5h549M95 1549.3h549M95 1578.2h549M95 1579.1h549M95 1581.6h549M95 1592.7h549M95 1593.5h549M95 1594.4h549M471 1598.6h173M264 1602.9h380M95 1610.5h388M95 1611.4h388M564 1620.7h37M95 1621.6h466M95 1635.2h412M95 1636h412M113 1637.7h531M481 1641.1h163M95 1644.5h331M95 1653h549M283 1656.4h361M520 1659.8h124M435 1660.7h54M282 1661.5h54M95 1662.4h291M283 1664.1h39M562 1664.9h82M517 1676.8h127M119 1677.7h163M628 1683.6h16M521 1695.5h123M474 1698.1h170M100 1699.8h62M95 1700.6h321M95 1712.5h201M95 1713.4h201M95 1714.2h549M401 1715.9h16m0 0h176" stroke="#9467bd"/><path d="M147 1338.5h29m150 0h17m9 0h25m42 0h4m85 0h4m13 0h4M387 1339.4h4m129 0h11m0 0h24m4 0h12m27 0h30M95 1340.2h12m259 0h50m34 0h9m48 0h4m86 0h47M202 1341.9h6m15 0h14m213 0h4m116 0h21M95 1342.8h18m96 0h11m35 0h9m35 0h23m15 0h7M95 1343.6h2m157 0h4m128 0h17M108 1344.5h4m22 0h19m40 0h9m301 0h5m17 0h6M500 1345.3h57m63 0h10M100 1346.2h5m24 0h8m115 0h14m7 0h18m11 0h9m108 0h27m18 0h21M122 1347h22m85 0h6m31 0h23m53 0h43m89 0h11m94 0h6M422 1347.9h4m117 0h64m25 0h4M103 1348.7h71m147 0h8m104 0h20M149 1349.6h15m53 0h4m150 0h49M204 1350.4h17m85 0h37m28 0h4m72 0h52M145 1351.3h19m87 0h4m97 0h7m35 0h20m69 0h54m43 0h5m21 0h4m16 0h12M95 1352.1h4m129 0h28m140 0h4m22 0h7m52 0h7m34 0h4m90 0h7M183 1353h27m53 0h30m14 0h68m49 0h40m70 0h4m76 0h30M170 1353.8h8m61 0h4m46 0h4m185 0h5m58 0h5M243 1354.7h15m117 0h6M361 1355.5h4m152 0h4M157 1356.4h12m175 0h22m96 0h20M239 1357.2h4m37 0h35m106 0h5m189 0h29M124 1358.1h6m22 0h15m124 0h26m177 0h4m0 0h21m31 0h13m8 0h13M95 1358.9h2m134 0h4m306 0h6m30 0h5m54 0h8M141 1359.8h11m67 0h13m100 0h24m140 0h6m77 0h22M142 1360.6h6m0 0h64m174 0h28m86 0h46M95 1361.5h18m42 0h4m4 0h13m178 0h4m6 0h15m76 0h9m42 0h4m122 0h9M195 1362.3h79m18 0h4m58 0h12m44 0h24M225 1363.2h6m195 0h11m15 0h17m23 0h43m21 0h20m64 0h4M184 1364h10m76 0h6m60 0h17m49 0h25m10 0h35m148 0h4m16 0h4M139 1364.9h4m8 0h42m300 0h8m63 0h29M95 1365.7h6m99 0h4m64 0h27m10 0h4m157 0h4m128 0h46M170 1366.6h5m144 0h18m40 0h8m62 0h30m27 0h54M111 1367.4h12m22 0h15m337 0h5m16 0h4M95 1368.3h17m241 0h9m203 0h35M95 1369.1h7m79 0h11m145 0h18m17 0h42m211 0h19M98 1370h43m25 0h8m57 0h6m54 0h4m0 0h20M134 1370.8h5m9 0h8m89 0h28m11 0h49m147 0h47M172 1371.7h19m4 0h11m125 0h22M116 1372.5h4m29 0h5m4 0h26m147 0h5m47 0h4m212 0h5M154 1373.4h53m249 0h4m28 0h19m105 0h9m14 0h9M95 1374.2h1m177 0h8m38 0h47m70 0h15m95 0h12m21 0h4M147 1375.1h13m19 0h34m392 0h11M266 1375.9h8m195 0h20m89 0h4m50 0h7M124 1376.8h4m49 0h6m417 0h7m4 0h12M125 1377.6h30m53 0h41m4 0h10m87 0h54m127 0h23m72 0h11M95 1378.5h1m28 0h50m52 0h16m88 0h26m214 0h4m4 0h26M122 1379.3h25m206 0h33m39 0h4m76 0h17m44 0h16M100 1380.2h19m135 0h20m13 0h11m88 0h14m9 0h38M95 1381h10m30 0h19m442 0h46M262 1381.9h19m0 0h25m8 0h15M315 1382.7h17m104 0h51m111 0h25m17 0h4M349 1383.6h31m22 0h24M316 1384.4h19m41 0h9m23 0h21m66 0h25m0 0h4M216 1385.3h6m164 0h7m50 0h114m82 0h5M95 1386.1h12m80 0h28m53 0h8m65 0h9m76 0h5m117 0h18M217 1387h33m53 0h27m104 0h29m16 0h18m4 0h19M385 1387.8h4m21 0h10M123 1388.7h17m97 0h19m185 0h13m37 0h14m10 0h11M95 1389.5h13m47 0h4m32 0h5m44 0h42m77 0h4M95 1390.4h10m83 0h4m52 0h11m127 0h5m4 0h20m165 0h13m42 0h13M95 1391.2h10m264 0h14m4 0h5m98 0h4M355 1392.1h28m30 0h4m53 0h4M139 1392.9h7m119 0h4m96 0h23m250 0h6M322 1393.8h4m256 0h41M183 1394.6h59m51 0h23m25 0h28m166 0h4m31 0h49M152 1395.5h20m117 0h85m43 0h43m43 0h7m59 0h23M153 1396.3h44m44 0h4M219 1397.2h13m144 0h29m104 0h14m69 0h26M95 1398h3m93 0h19m121 0h4m73 0h22m102 0h10m30 0h24m9 0h4M320 1398.9h7m72 0h4m11 0h45m97 0h4M130 1399.7h24m79 0h59m14 0h13m75 0h4M187 1400.6h61m75 0h14m252 0h40M131 1401.4h35m5 0h37M325 1402.3h47m32 0h58M152 1403.1h9m67 0h16m38 0h4m80 0h56m42 0h22M201 1404h4m179 0h18m121 0h39m16 0h13M441 1404.8h4m4 0h45M95 1405.7h27m98 0h5m318 0h4M193 1406.5h5m4 0h4m54 0h28m109 0h16M161 1407.4h12m40 0h30m36 0h13m91 0h19m34 0h4m70 0h44m8 0h29M229 1408.2h4m6 0h15m130 0h39M95 1409.1h43m188 0h11m135 0h17M95 1409.9h1m12 0h24m58 0h4m109 0h10m21 0h6m38 0h4m79 0h48m115 0h12M111 1410.8h4m139 0h29m231 0h33m72 0h25M95 1411.6h8m118 0h40m56 0h10m106 0h37M603 1412.5h25M127 1413.3h4m32 0h9m141 0h14m142 0h5M95 1414.2h18m4 0h7m38 0h14m30 0h8m387 0h6M106 1415h4m128 0h30m36 0h17m38 0h4m54 0h30m164 0h31M290 1415.9h65m202 0h11m63 0h13M114 1416.7h33m31 0h17m21 0h4m11 0h18M134 1417.6h20m80 0h4m296 0h22M331 1418.4h13m89 0h21m19 0h7M124 1419.3h40m326 0h37M150 1420.1h42m18 0h44m85 0h7m135 0h32m28 0h17m15 0h4M103 1421h8M157 1421.8h10m271 0h54m21 0h4m69 0h4M95 1422.7h22m188 0h20m13 0h34m201 0h71M185 1423.5h19m11 0h13m92 0h10m118 0h36m149 0h7M106 1424.4h9m35 0h26m259 0h8m28 0h5m101 0h15M371 1425.2h73M106 1426.1h30m258 0h31m35 0h51M168 1426.9h38m388 0h4M104 1427.8h24m191 0h47m4 0h8m178 0h4M314 1428.6h39m87 0h4m179 0h4m10 0h7M133 1429.5h29m4 0h25M394 1430.3h25m0 0h14m27 0h6m124 0h35M163 1431.2h7M234 1432h7m246 0h66M122 1432.9h38m52 0h4m58 0h32m87 0h5m72 0h16m73 0h41M255 1433.7h48m230 0h46M99 1434.6h34m239 0h19m75 0h35m50 0h7m0 0h22M183 1435.4h4m97 0h10m289 0h4M157 1436.3h7m98 0h88m252 0h4M109 1437.1h66m92 0h4m18 0h7m138 0h67m76 0h13M470 1438h23M254 1438.8h56m61 0h13m31 0h75m40 0h21M161 1439.7h43m115 0h9m80 0h4m75 0h55M98 1440.5h37m34 0h29m13 0h53m69 0h12m26 0h4m37 0h54m29 0h10m0 0h24M127 1441.4h22m165 0h19m158 0h78m6 0h26m16 0h23M142 1442.2h68m364 0h70M95 1443.1h5m250 0h21m231 0h42M125 1443.9h23m427 0h10M212 1444.8h4m54 0h30m17 0h21m86 0h13M147 1446.5h8m451 0h23M95 1449h54M95 1450.7h5m538 0h6M95 1451.6h3m237 0h132M303 1452.4h71m251 0h19M455 1455h82M261 1455.8h11m330 0h42M120 1456.7h40M215 1459.2h198m45 0h71M422 1461.8h199M95 1463.5h549M179 1466h81m91 0h114M466 1466.9h134M447 1472h21M269 1472.8h21M258 1473.7h66M460 1474.5h184M592 1475.4h52M135 1476.2h261M150 1477.1h4m7 0h5m337 0h47M95 1478.8h57m282 0h59M417 1480.5h25M422 1481.3h222M317 1484.7h98M95 1485.6h399M95 1488.1h283m0 0h205M290 1489.8h354M104 1490.7h531M95 1492.4h159M95 1493.2h239m206 0h46M95 1494.1h26m316 0h84M95 1495.8h99M191 1497.5h442M190 1499.2h323M481 1500.9h163M252 1501.7h392M252 1502.6h392M95 1504.3h549M519 1508.5h125M95 1510.2h18M281 1511.9h44M104 1519.6h191M104 1520.4h191M268 1522.1h80M95 1527.2h472M95 1533.2h549M95 1536.6h549M260 1541.7h384M95 1550.2h224M95 1551h224M95 1561.2h461M95 1566.3h549M95 1567.2h549M95 1574h549M95 1579.9h549M346 1582.5h298M346 1583.3h298M570 1588.4h74M95 1590.1h549M95 1591.8h57M95 1600.3h345M95 1602h13M95 1606.3h165M405 1608h239M405 1608.8h239M497 1609.7h147M95 1613.1h165m187 0h197M533 1613.9h111M533 1614.8h111M144 1616.5h404M95 1619.9h549M98 1620.7h282M95 1622.4h491M95 1623.3h54m395 0h100M95 1625h523M95 1625.8h12M95 1626.7h549M464 1630.9h180M95 1631.8h549M95 1632.6h549M95 1633.5h549M95 1638.6h549M95 1647.1h15M377 1651.3h267M329 1652.2h92M95 1656.4h188M95 1658.1h549M489 1660.7h32M643 1661.5h1M96 1663.2h18M95 1664.1h49m178 0h20M323 1668.3h64M332 1670h312M332 1670.9h312M553 1671.7h91M312 1673.4h203m79 0h50M159 1674.3h317m0 0h46m0 0h122M159 1675.1h317m0 0h46m0 0h122M95 1677.7h24M279 1679.4h365M95 1683.6h533M95 1686.2h549M95 1687.9h138M327 1688.7h114M95 1691.3h334M545 1693h99M545 1693.8h99M95 1696.4h549M416 1700.6h89M218 1702.3h426M535 1706.6h109M472 1715.1h172M593 1715.9h51M95 1716.8h549" stroke="#8c564b"/><path d="M507 1339.4h4M259 1341.1h4M542 1341.9h4M424 1343.6h6M595 1344.5h8M240 1346.2h12m326 0h41M268 1347.9h58m100 0h5M220 1348.7h14m10 0h50M129 1350.4h14m497 0h4M381 1351.3h4m62 0h10M99 1352.1h58m320 0h4M243 1353.8h46m342 0h13M343 1354.7h4M109 1355.5h82m158 0h12m90 0h21M192 1356.4h23m5 0h87M315 1357.2h34M391 1358.9h34M289 1359.8h24M641 1360.6h3M502 1361.5h4m105 0h16M374 1362.3h4m25 0h7M235 1363.2h13m221 0h4m130 0h23M373 1364.9h23M439 1366.6h8M617 1367.4h6M102 1369.1h27m63 0h10m212 0h35M523 1370h17M116 1370.8h18m236 0h36m18 0h4M142 1371.7h5m105 0h7m94 0h18m124 0h20M277 1372.5h54m107 0h26M207 1373.4h40m344 0h4M281 1374.2h38m132 0h51M616 1375.1h28M489 1375.9h4M521 1376.8h15M121 1377.6h4M403 1378.5h44M484 1379.3h6M205 1380.2h29M291 1383.6h6M95 1385.3h12m286 0h9M167 1388.7h8M126 1389.5h4M340 1390.4h4m208 0h24M105 1391.2h4m128 0h10m100 0h22M143 1392.1h43M146 1392.9h56M363 1393.8h30M418 1394.6h5M323 1396.3h82M126 1397.2h87m37 0h4M596 1398h9M367 1398.9h24M476 1399.7h4M438 1401.4h10M529 1403.1h12m69 0h7M104 1404.8h42M176 1405.7h44M180 1407.4h33m189 0h17M261 1408.2h7m227 0h7M388 1409.1h4M137 1409.9h36m21 0h33m352 0h12M315 1410.8h8m279 0h17M156 1411.6h14m458 0h8M530 1412.5h14M382 1413.3h4m143 0h49m44 0h4M113 1414.2h4m347 0h4M373 1415h8M176 1415.9h42m371 0h42M95 1418.4h6m50 0h19M234 1419.3h13m49 0h23M126 1420.1h24m42 0h18M167 1421.8h6m95 0h4m253 0h61M191 1422.7h57M425 1423.5h4M528 1424.4h16M215 1425.2h4M511 1426.1h17M350 1426.9h8m68 0h17M128 1427.8h53m302 0h9m72 0h38M248 1428.6h34m141 0h17M141 1431.2h14M250 1432h42M216 1432.9h58m72 0h39m4 0h4M132 1433.7h13M330 1435.4h18M179 1436.3h29M565 1437.1h12M180 1438.8h4m326 0h10M337 1439.7h11M95 1440.5h3m247 0h26m24 0h4M210 1442.2h82m250 0h32M458 1443.9h4M486 1444.8h6M148 1445.6h4M149 1449h94M129 1455h31M95 1460.9h168M205 1461.8h118M641 1464.3h3M287 1466h54M445 1467.7h20M95 1470.3h65M95 1475.4h404M618 1482.2h26M401 1511.9h243M348 1522.1h296M95 1555.3h549M95 1556.1h549M95 1563.8h543M95 1564.6h543M502 1572.3h142M95 1586.7h549M315 1609.7h182M424 1615.6h167M561 1617.3h83M95 1628.4h549M95 1629.2h215M95 1669.2h37M95 1680.2h230M591 1684.5h53M591 1685.3h53M95 1693h286M95 1693.8h286M184 1710.8h460M296 1712.5h348M296 1713.4h348" stroke="#e377c2"/><path d="M104 1338.5h16m0 0h27m29 0h17m184 0h4m42 0h58m31 0h13m65 0h6m28 0h20M111 1339.4h4m93 0h106m77 0h16m16 0h21M120 1340.2h16m58 0h22m286 0h5m28 0h4M95 1341.1h7m0 0h23m155 0h8m0 0h72m238 0h13M154 1341.9h17m0 0h27m397 0h10m4 0h15M444 1342.8h6m71 0h17M151 1343.6h17m205 0h4m26 0h21m6 0h23m14 0h10m16 0h4m75 0h56M124 1344.5h4m123 0h24m189 0h7m0 0h4m13 0h7m36 0h4M268 1345.3h17m100 0h41m156 0h24m10 0h4m23 0h1M105 1346.2h7m70 0h27m23 0h8m51 0h4m0 0h7m220 0h56m41 0h25M95 1347h27m137 0h7m196 0h8m115 0h16M95 1347.9h1m354 0h12m23 0h24m106 0h17m4 0h8M178 1348.7h14m107 0h22m132 0h31m28 0h8m37 0h12m68 0h7M145 1349.6h4m104 0h11m26 0h6m203 0h7m86 0h22m20 0h10M125 1350.4h4m114 0h14m326 0h11m24 0h22M180 1351.3h40m139 0h22m175 0h14m21 0h15m8 0h12M224 1352.1h4m298 0h20m77 0h21M129 1353h7m364 0h29m29 0h12M138 1353.8h4m19 0h9m8 0h35m105 0h4m52 0h9m91 0h4m59 0h4m5 0h35M165 1354.7h9m165 0h4m17 0h7m0 0h8M397 1355.5h10m72 0h14m12 0h8m8 0h62m59 0h2M95 1356.4h13m5 0h34m22 0h23m174 0h7m109 0h4m39 0h6m40 0h7M200 1357.2h10m15 0h4m188 0h4m145 0h38M142 1358.1h10m62 0h11m8 0h37m67 0h31m56 0h24m30 0h16m90 0h15m15 0h14M346 1358.9h41m42 0h34m110 0h4M313 1359.8h19m229 0h8M311 1360.6h34m37 0h4m28 0h5m4 0h7m23 0h15m5 0h27m92 0h29M138 1361.5h17m4 0h4m13 0h22m39 0h100m21 0h6m116 0h22m53 0h8M95 1362.3h40m231 0h8m60 0h4m0 0h11m57 0h24m22 0h10M231 1363.2h4m173 0h18m11 0h15m21 0h4m99 0h4M113 1364h4m30 0h7m96 0h20m6 0h11m111 0h4m94 0h18m33 0h4m34 0h25M95 1364.9h2m46 0h8m186 0h36m116 0h4m52 0h19m29 0h9m12 0h30M184 1365.7h16m4 0h55m50 0h4m147 0h6m4 0h85M199 1366.6h15m6 0h99m178 0h7M128 1367.4h17m31 0h34m53 0h44m17 0h63m27 0h15m85 0h4m4 0h4m110 0h8M349 1368.3h4m9 0h8m39 0h12m179 0h19M129 1369.1h15m58 0h48m4 0h18m34 0h15m4 0h12m123 0h42m77 0h7M237 1370h7M95 1370.8h3m111 0h6m122 0h15m271 0h15M119 1371.7h15m13 0h25m124 0h4m144 0h22m110 0h7M344 1372.5h39M280 1373.4h10m4 0h21m29 0h83m9 0h12m12 0h28m77 0h26m4 0h17M427 1374.2h4m127 0h11M245 1375.1h35m136 0h29m37 0h17M407 1375.9h14m131 0h7M95 1376.8h6m120 0h9m65 0h17m59 0h30m10 0h27m21 0h37m51 0h4m19 0h30m36 0h8M95 1377.6h5m537 0h4M356 1378.5h16M95 1379.3h1m10 0h8m33 0h69m213 0h19m42 0h15m34 0h23M96 1380.2h4m37 0h21m80 0h16m239 0h47m0 0h27m7 0h68M113 1381h18m153 0h32m55 0h55m6 0h4m4 0h64m138 0h2M209 1381.9h13m84 0h8m53 0h28m47 0h70M122 1382.7h4m365 0h58m74 0h13M146 1383.6h19m34 0h15m44 0h12M128 1384.4h34m132 0h22m69 0h23m32 0h5m153 0h15M107 1385.3h8m23 0h4m4 0h70m79 0h9m0 0h18m8 0h6M229 1386.1h39m82 0h76m157 0h61M112 1387h11m56 0h38m175 0h22m106 0h9M95 1387.8h1m37 0h17m97 0h21m337 0h28M99 1388.7h4m72 0h47m283 0h10m25 0h12m35 0h22M289 1389.5h58M322 1390.4h14m24 0h22m112 0h48m47 0h24M224 1391.2h13m215 0h33m9 0h27m60 0h63M95 1392.1h14m13 0h12m5 0h4m43 0h42m123 0h4m105 0h10m55 0h27M202 1392.9h42m96 0h25m141 0h36m89 0h7M293 1393.8h29m71 0h28m0 0h50m10 0h4m153 0h6M117 1394.6h29m29 0h8m141 0h17m188 0h6m88 0h21M95 1395.5h12m506 0h31M95 1396.3h10m349 0h42m95 0h14M213 1397.2h6m44 0h60m295 0h26M98 1398h10m4 0h10m50 0h11m61 0h4m121 0h19m71 0h7M95 1398.9h25m207 0h12m4 0h11m9 0h4m108 0h9m85 0h17m14 0h44M115 1399.7h15m283 0h45m102 0h45M95 1400.6h2m24 0h66m65 0h7m103 0h31m45 0h38M208 1401.4h9m105 0h6m32 0h17m239 0h28M95 1402.3h22m78 0h18m356 0h4m15 0h13M161 1403.1h19m162 0h4m76 0h42m77 0h7M95 1404h37m45 0h4m12 0h8m133 0h15m111 0h16m7 0h40m68 0h34m0 0h12M510 1404.8h54m11 0h6M283 1405.7h4m0 0h23m59 0h129m4 0h12m88 0h22M164 1406.5h29m95 0h19m151 0h7m35 0h60m51 0h33M102 1407.4h15m25 0h11m139 0h24m4 0h38m14 0h11m171 0h8M124 1408.2h7m31 0h12m0 0h30m118 0h17m102 0h10m131 0h15m17 0h10m18 0h2M171 1409.1h22m27 0h4m81 0h21m58 0h4m8 0h9m34 0h4m135 0h13M249 1409.9h13m133 0h6M173 1410.8h64m66 0h8M362 1411.6h40m167 0h59M151 1412.5h18m82 0h138M227 1413.3h18m141 0h46m93 0h4m101 0h7M194 1414.2h6m125 0h29m93 0h6m122 0h18M137 1415h43m37 0h11m260 0h28m9 0h6m43 0h4M218 1415.9h34m147 0h113m62 0h15M110 1416.7h4m81 0h21m160 0h44m41 0h4m20 0h4m12 0h4M165 1417.6h7m240 0h8m68 0h46M101 1418.4h20m0 0h4m202 0h4m67 0h35m36 0h4m167 0h4M200 1419.3h13m41 0h42m23 0h4m13 0h9M95 1420.1h31m143 0h70m174 0h28m28 0h4M225 1421h4m6 0h26m214 0h72m53 0h11M95 1421.8h3m75 0h8m240 0h17m79 0h8m75 0h30M117 1422.7h32m176 0h13m131 0h4m82 0h4M313 1423.5h7m33 0h59m17 0h13m49 0h25m89 0h28M115 1424.4h4m97 0h36m191 0h20m129 0h30M170 1425.2h29m102 0h7M450 1426.1h6M106 1426.9h62m38 0h5m240 0h97m0 0h4m5 0h8m10 0h4m8 0h7m4 0h46M227 1427.8h4m70 0h18m47 0h4m69 0h44m9 0h21m128 0h3M176 1428.6h10m207 0h30m53 0h83M112 1429.5h21m63 0h67m159 0h10m174 0h37M95 1430.3h1m86 0h12m4 0h31m88 0h23m16 0h38m39 0h27M95 1431.2h8m143 0h19m306 0h16M95 1432h6m213 0h16m43 0h10M555 1432.9h4M95 1433.7h17m201 0h21m297 0h13M95 1434.6h4m120 0h11m138 0h4m19 0h33m183 0h4M187 1435.4h26m9 0h5m154 0h4m136 0h53m5 0h4m60 0h1M361 1436.3h21M95 1437.1h14m101 0h4m30 0h23m112 0h4m129 0h7m90 0h6M173 1438h9m98 0h27m35 0h29m18 0h21m146 0h26m58 0h4M95 1438.8h2m102 0h32m79 0h6m16 0h8M142 1439.7h19m43 0h7m167 0h10m15 0h5m50 0h25m119 0h28M198 1440.5h13m180 0h4M109 1441.4h11m326 0h45m110 0h16M106 1442.2h36M100 1443.1h5m4 0h102m41 0h76m99 0h6m128 0h7M378 1443.9h73m25 0h9m58 0h21M198 1444.8h4m200 0h16m116 0h17M98 1445.6h50m103 0h80m40 0h97m44 0h132M115 1446.5h32m8 0h73m209 0h13m66 0h8M95 1447.3h30m155 0h166m27 0h38M146 1448.2h142m17 0h31M243 1449h69M95 1449.9h119m0 0h177m133 0h62M129 1450.7h96m58 0h115M180 1451.6h83m68 0h4M374 1452.4h50M439 1453.3h66m108 0h31M570 1454.1h74M449 1455h6m82 0h64M137 1455.8h89m292 0h5m16 0h13M95 1456.7h25m360 0h4M462 1457.5h111M95 1458.4h282M570 1459.2h74M306 1460.1h55M277 1460.9h170M196 1461.8h9M151 1466h28m162 0h10m114 0h42M95 1466.9h274m231 0h44M593 1470.3h51M236 1471.1h72m29 0h307M556 1472h48M290 1472.8h212M499 1475.4h93M468 1476.2h4M265 1477.1h149M95 1477.9h549M152 1478.8h18M533 1479.6h85M316 1481.3h106M95 1482.2h523M365 1483h38M358 1483.9h202M494 1485.6h150M429 1489h215M95 1489.8h67M635 1490.7h9M423 1492.4h221M334 1493.2h206m46 0h58M121 1494.1h316M132 1494.9h4M95 1496.6h549M95 1497.5h78M95 1499.2h95M172 1501.7h80M172 1502.6h80M95 1505.1h549M95 1506.8h549M148 1507.7h87M95 1509.4h424M177 1511.1h25m5 0h437M325 1511.9h76M95 1515.3h549M392 1516.2h252M295 1519.6h151M295 1520.4h151M95 1521.3h428M264 1522.1h4M566 1525.5h53M567 1527.2h77M95 1534h549M95 1534.9h232M95 1541.7h165M95 1559.5h549M95 1560.4h549M95 1565.5h88M95 1568.9h549M95 1597.8h236M233 1598.6h238M95 1599.5h549M440 1600.3h100M118 1601.2h526M108 1602h104M95 1602.9h169M406 1603.7h238M95 1607.1h549M304 1608h101M304 1608.8h101M483 1610.5h161M483 1611.4h161M95 1612.2h55M505 1613.9h28M505 1614.8h28M591 1615.6h53M385 1617.3h126M586 1622.4h58M234 1624.1h410M618 1625h26M95 1627.5h217M298 1630.9h166M401 1634.3h243M507 1635.2h137M507 1636h137M95 1636.9h266M95 1639.4h226M515 1642h129M95 1643.7h549M95 1645.4h451M95 1646.2h549M421 1652.2h223M524 1657.3h120M95 1659h549M271 1660.7h164M386 1662.4h258M258 1664.9h304M460 1665.8h184M95 1667.5h58m274 0h98M95 1668.3h228M95 1673.4h86M95 1676h549M95 1679.4h184M325 1680.2h76M124 1681.9h276M95 1682.8h183M342 1687h302M441 1688.7h203M175 1689.6h16M95 1690.4h65M95 1692.1h256m103 0h190M95 1694.7h549M95 1695.5h426M95 1698.1h180M158 1698.9h233M621 1699.8h23M95 1704.9h111M95 1706.6h440M95 1707.4h549M95 1709.1h138M95 1715.1h377" stroke="#7f7f7f"/><path d="M95 1338.5h9M628 1339.4h9M216 1340.2h16m126 0h8M125 1341.1h4M335 1341.9h4M113 1342.8h4m7 0h85M477 1343.6h16M317 1344.5h60m44 0h7M112 1346.2h17m182 0h4M506 1347h57m38 0h9M367 1347.9h55M174 1348.7h4M342 1349.6h12m66 0h4m19 0h24M95 1350.4h30m374 0h18M344 1351.3h4M196 1352.1h13m279 0h34M468 1353h32M487 1353.8h50m64 0h24M391 1354.7h39m48 0h8M95 1355.5h2m0 0h12M95 1357.2h20m51 0h34M343 1361.5h11M180 1362.3h15m105 0h50m212 0h55M166 1363.2h45M353 1364h45m212 0h10M403 1365.7h5m41 0h11M488 1366.6h5M429 1367.4h14m180 0h13M370 1368.3h17M345 1370h108M507 1373.4h4M366 1374.2h8m209 0h44M213 1375.1h17m50 0h42M563 1375.9h4M172 1377.6h16m380 0h18m10 0h5M562 1379.3h4M357 1380.2h29M534 1381h62M593 1382.7h5M622 1383.6h22M222 1385.3h10M183 1386.1h4M559 1387.8h5M533 1388.7h7M159 1389.5h8M344 1390.4h16M429 1392.1h31M326 1393.8h37M146 1394.6h16M643 1396.3h1M138 1398.9h4m317 0h16M100 1399.7h15M601 1402.3h38M159 1404h18m234 0h32m198 0h3M225 1405.7h48M440 1406.5h18M117 1407.4h4m32 0h4M151 1408.2h11m106 0h44M591 1409.9h17M311 1410.8h4m8 0h67M524 1411.6h45M96 1412.5h27m299 0h11M599 1413.3h23m19 0h3M214 1414.2h111m143 0h49m90 0h37M585 1415h22M411 1420.1h19M337 1421h47M181 1421.8h64m393 0h6M292 1423.5h21m203 0h32M95 1424.4h11m361 0h4M308 1425.2h50M136 1426.1h4m188 0h21M203 1428.6h21M263 1429.5h61m94 0h4M136 1430.3h7m354 0h19M553 1432h4M618 1433.7h13M243 1434.6h19M411 1435.4h14M101 1438h30m396 0h29M333 1441.4h33M437 1444.8h49M525 1448.2h45M580 1452.4h18M206 1459.2h9M367 1462.6h37M186 1469.4h129M95 1474.5h21M124 1500h157M95 1523.8h549M436 1524.7h208M95 1525.5h471M95 1530.6h151M95 1582.5h251M95 1583.3h251M95 1587.6h549M493 1589.3h151M385 1606.3h191M561 1621.6h83M149 1623.3h395M107 1625.8h384M580 1640.3h64M95 1642.8h549M95 1660.7h176M427 1665.8h33M132 1676.8h32M282 1677.7h362M95 1698.9h63M162 1699.8h459" stroke="#bcbd22"/><path d="M504 1338.5h4m54 0h28M123 1339.4h25m225 0h14m168 0h4M136 1340.2h8m301 0h5m105 0h4M409 1341.1h52m171 0h12M294 1341.9h19M220 1342.8h27m97 0h39m75 0h14m71 0h48m17 0h16M453 1343.6h14m36 0h25M112 1344.5h12m78 0h27m148 0h8m97 0h6m7 0h4M630 1345.3h13M209 1346.2h4m107 0h99M563 1347h16M96 1347.9h8m222 0h41m64 0h10M234 1348.7h4m56 0h5M95 1349.6h29m4 0h17m76 0h32m101 0h17m96 0h32M190 1350.4h14m321 0h58M348 1351.3h4m62 0h18M161 1352.1h35M170 1353h13m346 0h5M137 1354.7h14m10 0h4m265 0h32m177 0h5M513 1355.5h4M215 1356.4h5m164 0h10m184 0h43M450 1357.2h51M225 1358.1h8m47 0h11m228 0h31m49 0h15M150 1358.9h4m271 0h4m40 0h14m44 0h4m59 0h11M135 1359.8h6m15 0h6m324 0h10M95 1360.6h47m435 0h15M122 1361.5h11m65 0h39M174 1362.3h6m170 0h4m29 0h20M550 1363.2h6m24 0h4m46 0h10M166 1364h14m371 0h34M193 1364.9h67M101 1365.7h32m253 0h17m5 0h30m117 0h4M337 1366.6h8m213 0h15M95 1367.4h16m49 0h16m41 0h6M112 1368.3h74m19 0h4m9 0h52m181 0h12m8 0h30M290 1369.1h4m0 0h4m151 0h11m42 0h10m40 0h27M174 1370h45M259 1371.7h37m4 0h6m65 0h64m4 0h5M245 1372.5h4m8 0h7m127 0h13M448 1373.4h8M374 1374.2h13M95 1375.1h17m210 0h85M274 1375.9h17m46 0h9m75 0h42M623 1376.8h13M242 1378.5h7M216 1379.3h107m63 0h29M234 1380.2h4m115 0h4m43 0h9m38 0h46m149 0h2M339 1381h14M97 1383.6h49m238 0h8m34 0h9m55 0h132M562 1384.4h28M115 1385.3h23m299 0h6m154 0h18M107 1386.1h58m4 0h14m125 0h33m190 0h17M271 1387h4m75 0h21m158 0h8M220 1387.8h27m146 0h11M110 1388.7h13m108 0h6m19 0h100m6 0h8M398 1389.5h4m148 0h14m61 0h11M161 1390.4h5m221 0h4m90 0h13M247 1391.2h66m0 0h34M118 1392.1h4m366 0h37M99 1392.9h36m253 0h14m7 0h75m77 0h9m4 0h6m37 0h14M95 1394.6h1m11 0h10m199 0h8m99 0h41m88 0h4M172 1395.5h13m58 0h4m273 0h37M418 1397.2h20m21 0h11m20 0h15m27 0h60M434 1398h25m83 0h13M120 1398.9h9m128 0h63m170 0h66M161 1399.7h4m440 0h36M629 1400.6h15M217 1401.4h4m231 0h15m4 0h29M302 1402.3h6M95 1403.1h30m361 0h43M205 1404h32m39 0h58m68 0h9m226 0h4M146 1404.8h85m30 0h104m80 0h4m45 0h4m93 0h17M321 1405.7h48m156 0h18M307 1406.5h12M157 1407.4h4m114 0h4M233 1408.2h6m216 0h40m62 0h7M238 1409.1h4M132 1409.9h5m161 0h5m240 0h22m71 0h8M250 1410.8h4m153 0h71M103 1411.6h10m148 0h15M144 1412.5h7m282 0h7m45 0h28m31 0h59M131 1413.3h19M148 1414.2h14m192 0h61m139 0h12M234 1415h4m147 0h32m190 0h4m31 0h2M107 1415.9h62m83 0h38m251 0h4M147 1416.7h31m145 0h4m220 0h97M287 1417.6h4m129 0h38m98 0h31m18 0h7M125 1418.4h26m19 0h5m29 0h47m27 0h5m202 0h19m85 0h37M213 1419.3h21m124 0h83m21 0h4m76 0h8m30 0h50m11 0h3M430 1420.1h4m130 0h5M611 1421h4M297 1421.8h4M559 1422.7h14M442 1423.5h6M252 1424.4h21m22 0h4m164 0h4M95 1425.2h75m104 0h27m220 0h93M349 1426.1h27m241 0h13M95 1426.9h11m337 0h8m114 0h10M95 1427.8h5M360 1428.6h11m77 0h28M95 1429.5h17m402 0h29M143 1430.3h39m12 0h4m142 0h16M400 1431.2h4m35 0h17m135 0h42M130 1432h27m173 0h29M306 1432.9h40M303 1433.7h10m21 0h9m261 0h14M339 1434.6h13m109 0h5m71 0h14M425 1435.4h12M164 1436.3h15m65 0h7m355 0h38M271 1437.1h18m30 0h15M131 1438h31m91 0h27m307 0h35M384 1438.8h31M388 1439.7h15m80 0h4m73 0h30M466 1440.5h20M366 1441.4h21m182 0h6M292 1442.2h20m58 0h60M211 1443.1h41M313 1443.9h39m4 0h22M225 1444.8h10M95 1446.5h20M95 1448.2h51M391 1449.9h129M125 1451.6h25M177 1452.4h126M250 1453.3h177M95 1455.8h42m89 0h15m355 0h6M160 1456.7h312m22 0h116M573 1457.5h50M155 1460.1h89m117 0h19M388 1464.3h174M366 1470.3h227M604 1472h40M502 1472.8h105M550 1473.7h94M472 1476.2h172M154 1477.1h7M385 1487.3h65M202 1511.1h5M327 1534.9h317M366 1537.4h76M452 1538.3h74M636 1539.1h8M95 1540.8h93M95 1542.5h549M595 1545.1h49M95 1552.7h3M520 1553.6h124M95 1562.1h549M95 1562.9h549M95 1568h549M95 1574.8h549M95 1575.7h549M95 1591h549M341 1591.8h102M326 1596.1h318M326 1596.9h318M331 1597.8h313M95 1598.6h138M212 1602h274M326 1603.7h80M260 1606.3h125m191 0h68M95 1618.2h549M601 1620.7h43M95 1637.7h18M426 1644.5h59M95 1648.8h213M487 1649.6h157M95 1650.5h531M95 1652.2h234M95 1659.8h16M521 1660.7h123M219 1661.5h63M114 1663.2h340M144 1664.1h139M494 1666.6h150M181 1673.4h131M95 1678.5h549M401 1680.2h76M95 1681.1h549M101 1697.2h543M95 1701.5h549M206 1704.9h438M624 1708.3h20" stroke="#17becf"/></g>
</g></g>
<path d="M101.2 1342.1 115 1341.9 128.7 1341.8 142.5 1341.7 156.3 1341.7 170 1341.8 183.8 1342 197.5 1342.2 211.3 1342.4 225.1 1342.5 238.8 1342.6 252.6 1342.5 266.4 1342.4 280.1 1342.2 293.9 1341.9 307.7 1341.6 321.4 1341.4 335.2 1341.3 349 1341.2 362.7 1341.3 376.5 1341.4 390.2 1341.6 404 1341.8 417.8 1342 431.5 1342.1 445.3 1342.2 459.1 1342.1 472.8 1342 486.6 1341.8 500.4 1341.7 514.1 1341.6 527.9 1341.5 541.7 1341.6 555.4 1341.7 569.2 1341.9 582.9 1342.1 596.7 1342.4 610.5 1342.5 624.2 1342.7 638 1342.7" stroke="#a8604c" stroke-width="1.6" fill="none"/>
<path d="M101.2 1524.0H638" stroke="#8384bf" stroke-width="4.2"/>
<path d="M368 1517.4H471" stroke="#fff" stroke-width="1.2"/>
<rect x="101.2" y="1527.2" width="536.8" height="16.6" fill="#fff"/>
<path d="M101.2 1531.0H638" stroke="#17becf" stroke-width="1.7"/>
<path d="M101.2 1535.0H638" stroke="#bcbd22" stroke-width="1.6"/>
<path d="M101.2 1539.4H638" stroke="#d66aa8" stroke-width="2.0"/>
<path d="M101.2 1542.6H638" stroke="#fbe9c8" stroke-width="2.0"/>
<path d="M101.2 1546.5H638" stroke="#b9835f" stroke-width="4.5" opacity="0.8"/>
<path d="M101.2 1557.0H638" stroke="#5aa3b3" stroke-width="12.5" opacity="0.75"/>
<path d="M101.2 1567.0H638" stroke="#8a8a8a" stroke-width="5" opacity="0.6"/>
<path d="M101.2 1578.2H638" stroke="#9a77b8" stroke-width="2.0" opacity="0.9"/>
<path d="M101.2 1583.0H638" stroke="#5f9f55" stroke-width="2.2" opacity="0.8"/>
<path d="M101.2 1621.8H638" stroke="#b5483c" stroke-width="4.2" opacity="0.7"/>
<path d="M385 1621.6H488" stroke="#2fb4c4" stroke-width="2.2" opacity="0.85"/>
<path d="M101.2 1635.2H638" stroke="#93a63c" stroke-width="5.0" opacity="0.75"/>
<path d="M101.2 1639.0H638" stroke="#6dbf6a" stroke-width="1.6" opacity="0.8"/>
<path d="M101 1642.4H250" stroke="#e8f6ee" stroke-width="1.3" opacity="0.9"/>
<path d="M250 1642.4H638" stroke="#9fd8d0" stroke-width="1.2" opacity="0.7"/>
<path d="M330 1644.8H560" stroke="#d8392b" stroke-width="3.2" opacity="0.85"/>
<path d="M101.2 1644.8H638" stroke="#c8503f" stroke-width="3.0" opacity="0.5"/>
<rect x="101.2" y="1701.5" width="536.8" height="13.8" fill="#f6e6d6"/>
<path d="M101.2 1702.6H638" stroke="#8c8c8c" stroke-width="1.5"/>
<path d="M101.2 1705.0H638" stroke="#ff7f0e" stroke-width="1.5"/>
<path d="M101.2 1707.4H638" stroke="#c44a3c" stroke-width="1.5"/>
<path d="M101.2 1709.8H638" stroke="#e08a3a" stroke-width="1.5"/>
<path d="M101.2 1712.2H638" stroke="#d8a070" stroke-width="1.5"/>
<path d="M101.2 1714.6H638" stroke="#d62728" stroke-width="1.5"/>
<g clip-path="url(#cp10)" fill="none" stroke-width="1.9" stroke-linejoin="round">
<path d="M774.7 518.9l37.8-0.4 39.7-1.1 37.8-1.9 39.7-2.7M1086.7 506.7l58.1 5.5 56 3.7 56.1 2.3 56 0.7" stroke="#ff7f0e"/>
<path d="M774.7 494.6l39.7 5.9 37.8 4.7 39.7 4.3 37.8 3.3 38.2-0.3 40.3-1.2 38.2-1.8 40.3-2.8" stroke="#d62728"/>
<path d="M1086.7 506.7l56-0.7 56.1-2.2 56-3.7 58.1-5.5" stroke="#8c564b"/>
<path d="M774.7 494.6l37.8-0.3 39.7-1.2 37.8-1.8 39.7-2.7 40.3 5.8 38.2 4.8 40.3 4.2 38.2 3.3 34-3.9 36.1-4.7 40-6 40-6.8 2 0.1" stroke="#7f7f7f"/>
<path d="M774.7 494.6l37.8-6.2 39.7-7.3 2 0.1M1008.2 475l38.2-7.7 40.3-8.9 34 7 32.1 6.1M1236.8 485.1l38.1 5.1 38 4.4" stroke="#17becf"/>
<path d="M852.2 481l39.7 4.2 37.8 3.4 38.2-6.3 40.3-7.3 38.2-7.7 40.3-8.9 40 8.2 36.1 6.7 38 6.4 36 5.4 34.1-6.1 42-8.6" stroke="#ff7f0e"/>
<path d="M774.7 470.4l39.7 5.8 37.8 4.8 35.8-7.2 41.7-9.3M1008.2 463l38.2-1.8 40.3-2.8 34 3.4 32.1 2.6 32 2.2 32 1.6" stroke="#d62728"/>
<path d="M860.1 455.2l17.9-3.4 51.7 12.7 38.2-0.4 40.3-1.1 38.2-1.9 40.3-2.7 58.1 5.4 56 3.6 56.1 2.2 56 0.8" stroke="#8c564b"/>
<path d="M774.7 470.4l37.8-6.3 39.7-7.3 37.8-7.7 39.7-8.8 40.3 5.8 38.2 4.8 40.3 4.2 38.2 3.3 54-6.3 60.1-8.6 56.1 14.2 56 12.7" stroke="#7f7f7f"/>
<path d="M774.7 422.7l57.6 16.9 33.8 9.1 9.9 2.6 2 0.3 51.7-11.3 40.3 5.7 38.2 4.8 40.3 4.3 38.2 3.3 42-4.8 42.1-5.7 42-6.5 44.1-7.6" stroke="#17becf"/>
<path d="M804.5 422.5l47.7-1.3 2 0.2 39.7 10.3 35.8 8.5 50.3-8.3 2 0 52.4 13.9 52.3 12.6 44-9.8 46.1-11.2 2 0.1 22 5.8 56.1-9.6 56-11" stroke="#ff7f0e"/>
<path d="M774.7 422.7l33.8-0.3 45.7-1.1 37.7 9.8 37.8 9.1 50.3-8.3 2-0.1 52.4 13.9 52.3 12.7 44-9.8 48.1-11.7 44-11.7 44.1-12.6 6 1.3" stroke="#d62728"/>
<path d="M774.7 422.7l39.7-12.4 33.8 9.4 6 1.4 37.7-1.9 37.8-2.6 38.2 11.3 12.1 3.4 2 0.2 30.2-5.6 32.2-6.5M1086.7 410.1l46 14.2 44.1 12.7 2-0.2 34-9 54.1-15.3 46 10.2" stroke="#8c564b"/>
<path d="M774.7 398.5l37.8 11.2 37.7 10.5 4 0.9 35.8-1.8 39.7-2.7 42.3 12.4 8 2.2 2 0.3 52.4-10 52.3-11.4M1112.7 410l30-0.6 30.1-0.9 30-1.4 32-1.9 2 0.2 30.1 7.1 46-14" stroke="#7f7f7f"/>
<path d="M774.7 398.5l39.7 11.6 12-3.9 2-0.1 51.6 6 27.8 2.7 21.9 1.8 36.2-11.2 42.3-13.9 2-0.3 44.3 11.3M1086.7 410.1l36-0.3 38.1-1 36-1.5 38-2.2 32.1 7.4 46-14" stroke="#17becf"/>
<path d="M774.7 398.5l43.7 6.3 35.8 4.4 37.7 4 37.8 3.4 38.2-12 40.3-13.3 2-0.1 38.3 9.8 38.2 9.1 32-10.4 42.1-14.3 38 10.3 36 9.2 2 0.1 30.1-2.2 46-4.3" stroke="#ff7f0e"/>
<path d="M774.7 398.5l49.7 7 2 0.3 2-0.3 49.6-17 51.7-19 4 0.1 50.3 14.5 24.2 6.6 2 0.1 38.3-13.3 38.2-14 36 11 36.1 10.4 42 11.3 34 8.6 2 0.1 26.1-1.9 50-4.5" stroke="#d62728"/>
<path d="M774.7 398.4l31.8-5.1 41.7-7.6 39.8-8.1 39.7-8.8 2 0.7 4 0 54.4 15.7 20.1 5.4 2 0.1 32.2-11.2 44.3-16 44 13.2 30.1 8.6 14-5 2-0.1 36 5.7 34 4.8 38.1 4.7 28 3" stroke="#8c564b"/>
<path d="M774.7 398.4l37.8-6.3 37.7-6.9 35.8-7.3 43.7-9.5 4 1.1 2 0M945.8 369.5l34.2-0.6 36.3-1.2 34.2-1.7 36.2-2.5 44 8.7 44.1 7.7 42 6.4 30 4.2 34.1 4.3 32 3.6" stroke="#7f7f7f"/>
<path d="M774.7 398.4l21.9-6.7 33.7-11 29.8-10.1 31.8-11.2 29.9 7.1 5.9 2.2 2-0.3 4 1.1 2 0 36.3-0.4 36.2-1.1 34.2-1.7 44.3-2.8 48 9.2 40.1 7 2-0.1 38-14 2 0.4 58.1 20.1 38 12.3" stroke="#17becf"/>
<path d="M774.7 398.4l55.6-17.9 61.6-21.3 37.8 9 20.1-6 30.2-9.6 58.4 6.7 32.2 2.9 16.1 1.2 32-6.7 44.1-10.1 2 0 50 18.6 38 13.3 60.1 19.9" stroke="#ff7f0e"/>
<path d="M790.6 331.3l49.7 14.3 49.7 13.1 1.9 0.4 6-1.8 21.9 8.4 9.9 2.5 50.3-15.6 2-0.1 56.4 6.5 48.3 4.4 38-8.2 38.1-8.8 2-0.1 50 18.7 2-0.2 48.1-18.6 48-19.7" stroke="#d62728"/>
<path d="M774.7 326.5l29.8 8.9 29.8 8.5 29.8 8.1 27.8 7.1 6-1.9 31.8-11.8 32.2 4.7 18.1 2.3 42.3-13.8 38.2 15 26.2 9.8 24-7.5 42.1-13.9 10 3.9 2 0.2 36-9 44-11.6 58.1 1" stroke="#8c564b"/>
<path d="M788.6 322.2l13.9-4.4 55.7 23.5 37.7 15.2 2 0.4 29.8-11 2-0.5 2 0 48.3 6.9 40.3-13.4 2-0.5 64.4 25 32-10.3 32.1-10.8 2-0.4 10 3.7 2 0.3 38-9.4 42-11.1 34.1 0.8 34 0.3" stroke="#7f7f7f"/>
<path d="M774.7 326.5l59.6-19.1 55.7 22.7 37.7 14.6 2 0.4 2 0 28.2-4.5 46.3-8.3 16.1 6 30.2-10.5 34.2-12.5 44 18 20.1 7.9 2 0.5 2-0.5 12-4.1 36-12.8 2-0.3 40 1.4 38.1-10.9 2 0 28 12" stroke="#17becf"/>
<path d="M774.7 305.5l27.8 12.2 31.8-10.3 2 0.3 47.7 19.6 45.7 17.8 34.2-5.6 42.3-7.4 16.1 6.1 60.4-21.7 4-1.2 2 0.5 34 14 30.1 11.8 50-17.7 42 1.4 56.1-16.1" stroke="#ff7f0e"/>
<path d="M782.6 305.5l45.8-0.6 5.9 2.4 8-2.6 2-0.3 41.7-1.9 43.7-2.9 44.3 19.1 32.2 13.2 2 0 28.2-5.6 50.3-11 58.1 5.1 58 3.5 2-0.4 10-3.6 44.1-16.7 24 10.5 2 0.2 28-8.4" stroke="#d62728"/>
<path d="M774.7 305.5l51.7-0.7 3.9 0.4 4 1.7 2-0.3 8-2.4 35.7-1.6 47.7-3.1 2 0.1 2 0.6 38.3 16.5 36.2 15.1 36.2-7.1 42.3-9.3 4-0.2 58.1 5 56 3.5 18-6.5 36.1-13.7 4-1.1 18-7.1 2 0.2 20 6.3" stroke="#8c564b"/>
<path d="M774.7 305.5l25.8-11.7 2 0 25.9 10.9 13.9-0.3 2-0.3 27.8-9.6 45.7 4.2 9.9 0.7 2-0.1 2-0.6 32.2-14.4 2-0.1 36.3 10 36.2 9.5 46.3 11.2 4 0.2 36-3.9 38.1-4.7 38-5.4 38-6 2-0.1 16.1 7.2 2 0.5 20-7.8 34 10.6" stroke="#7f7f7f"/>
<path d="M774.7 281.6l25.8 11.4 2 0.3 25.9 11.1 1.9 0.3 12-0.4 2-0.3 27.8-9.7 2-0.2 55.6 5.2 34.2-15.4 2-0.1 30.2 8.5 30.2 8 30.2 7.5 30.2 7.2 40-4.4 42.1-5.4 34-4.9 36-5.7 2 0.2 24.1-4.2 2 0.4 12 3.8 2-0.3 32-12.9" stroke="#17becf"/>
<path d="M774.7 281.6l2 0.3 23.8 10.5 2 0.5 11.9-5.5 57.7 6.9 21.8-7.6 35.8-13.2 34.2 10.1 2-0.2 18.1-8.3 2.1 0.6 32.2 13.1 32.2 12.8 32.2 12.2 4 1.2 2-0.5 28-11.9 34.1-14.9 36-16.4 2-0.4 50 23.2 2 0.1 22.1-3.8 2 0 14 4.4 30-12.2 4-1" stroke="#ff7f0e"/>
<path d="M774.7 281.6l39.7 5.8 2-0.3 55.7 6.8 2-0.3 53.6-19.7 2-0.4 2 0.3 32.2 9.5 2-0.3 18.1-8.2 2.1 0.2 50.3 20.6 50.3 19.4 50-21.6 50.1-22.6 2-0.4 6-2.8 2-0.4 36 12.5 32.1 10.6 2 0 6-1.1 40-7.6" stroke="#d62728"/>
<path d="M774.7 281.6l2-0.3 37.7 5.5 2-0.3 41.8-19.6 35.7-7.2 33.8 13 2 0.5 2-0.3 26.2-8.2 2-0.1 24.1 10.1 2.1-0.5 40.2-19 60.4-29.7 46 18.1 54.1 26.4 2-0.1 6-2.8 2-0.1 34 11.9 32.1 10.7 2 0.5 46-8.7 2 0.2" stroke="#8c564b"/>
<path d="M774.7 281l2 0.3 9.9-1.6 49.7-8.6 19.9-3.8 5.9-1.9 29.8-6.2 4 0.9 33.8 13.1 28.2-8.7 2-0.4 24.1 10.1 2.1-0.4 24.1-11.4 36.2-17.4 38.3-19 2-0.5 6 1.9 48 19.2 54.1 19.9 2 0.2 14-6.6 2-0.6 32 7.5 32.1 7.1 34 7.1 2-0.2" stroke="#7f7f7f"/>
<path d="M774.7 281l41.7-7 43.7-8.2 21.9-10.6 9.9 3.7 2 0.4 6-1 29.8-6.7 28.2 12.2 2 0.1 18.1-5.6 32.2-10.7 58.4-20.7 18.1-1.4 2 0.3 4 1.5 18 5.2 18 9.1 34.1 12.9 32 11.7 2-0.1 14-6.5 2-0.4 2 0.2 50.1 11.5 46 9.9 2 0.2" stroke="#17becf"/>
<path d="M774.7 281l2-0.3 19.9-8.9 57.6-26.9 2-0.3 25.8 10.4 2 0.4 7.9 3.1 2 0.3 33.8-7.6 4 0.5 28.2 12.2 54.3-17.9 56.4-19.8 12.1-0.9 6 0.3 18 5.2 4 1.7 28 7.9 36.1 9.6 36 9 2-0.1 2-0.7 20-9.5 2 0.3 56.1 24.3 16 6.6 4 1.1" stroke="#ff7f0e"/>
<path d="M774.7 281l39.7-18.1 39.8-18.8 2 0 25.8 10.5 2-0.4 17.9-8.8 2 0 23.8 5.7 4-0.4 44.3-19.8 40.3-1.3 40.2-2 12.1-0.8 6-2.1 8.1 0.5 6-0.3 4-1.2 2 0.6 14 7.1 52.1 14.3 50 12.7 2 0.2 22-10.4 2 0 38.1 16.7 38 16.1" stroke="#d62728"/>
<path d="M774.7 209.8l39.7 17.3 39.8 16.6 2 0.2 13.9-6.7 2 0.2 29.8 7.5 2-0.3 25.8 6.2 44.3-19.9 46.3-1.8 40.2-2.2 10.1-0.8 6-1.9 10.1 0.8 2-0.3 4-1.4 2-0.2 10-2.9 34-0.5 32.1-0.8 38 17.5 26 11.7 2-0.4 18-8.8 58.1-29.1" stroke="#8c564b"/>
<path d="M774.7 209.8l6 1.8 37.7 16.6 35.8 15 2-0.1 11.9-5.8 4-0.7 29.8 7.5 2 0.3 25.8-13.1M933.7 231.3l28.2-0.2 14.1-0.4 28.2-13 38.2 4 32.2 2.9 6.1-2.1 4 2 2 0.5 16-4.8 66.1-1.6 4 0.2 62 28.5 2-0.2 36.1-17.8 38-19.3 2-0.2" stroke="#7f7f7f"/>
<path d="M774.7 209.8l2 0.1 4 1.7 5.9 1.8 45.7 13.3 35.8 9.6 2 0.1 2-0.2 33.8-16.6 1.9 0.5 21.9 11.2 44.3-0.5 28.2-13.2 2 0 2-0.6 34.2 3.8 34.2 3.2 2-0.1 4.1-1.4 2 0.5 4 2 4-1.6 2-0.3 6-2.4 2-0.5 4-0.1 40.1-12.5 2-0.3 22 10.5 2 0.8 2 0.1 32-1.2 36-2.1 36.1-2.5 36-3.1" stroke="#17becf"/>
<path d="M774.7 209.8l2-0.2 47.7 14 45.7 12.5 2-0.7 31.8-15.7 3.9-1.1 21.9-11 36.2 5.2 36.3 4.6 2-0.6 2 0 30.2-14.4 2-0.7 8 3.3 34.3 17.4 2-0.7M1086.7 220.2l4 2.1 2 0.2 6-2.3 4-0.1 2-0.5 40.1-12.5 2-0.1 2 0.2 24 11.3 56-2.8 40.1-2.8 40-3.5 4 0.4" stroke="#ff7f0e"/>
<path d="M774.7 209l2 0.1 9.9-3 57.7-18.8 1.9 0.1 47.7 25.4 10 5.2 2 0.7 21.8-11.1 6-0.4 38.3 5.5 32.2 4 32.2-15.5 2 0.4 12.1 4.9 30.2 15.4 2-0.2 4-1.5M1090.7 220.2l8 0 2-0.3 38-15.8 2 0.3 4.1 2 4-0.1 36-11.9 46 6.2 36.1 4.4 42 4.4 4-0.4" stroke="#d62728"/>
<path d="M774.7 209l2-0.1 4-1.8 31.8-10 31.8-10.6 1.9 0.1 25.9-8.9 55.6 28.9 6 0.4 40.3-6.6 40.2-7.4 2.1-0.1 20.1 8 4 0.9 4 2.1 6.1 2.5 30.2 11.5M1086.7 220.2l12-0.1 40-16.6 2-0.2 6.1 2.9 2-0.3 34-11.2 4-1 2 0 34 4.8 34.1 4.4 56 6.1" stroke="#8c564b"/>
<path d="M774.7 209l6-1.9 53.6-24.6 2-0.5 8 4.3 25.8-8.6 4-0.2 55.6 29.1 40.3-6.7 42.2-7.8 2 0 22.2 8.7 2 0 2 0.4 10.1 5.1 36.2 13.9 40-21.1 2-0.5 10 4.7 2-0.1 26.1-11.1 2-0.3 16 2.2 4-0.9 54-19 2-0.4 62.1 33 4 2 2 0.3" stroke="#7f7f7f"/>
<path d="M774.7 209l59.6-27.5 2 0.1 21.9-10.4 1.9 0.1 10 5.3 4 0.3 55.6-20.4 42.3 18.2 40.2 16.6 4.1 1.3 4-0.8 2 0.6 14.1 7.3 2 0.6 2 0.2 46.3-22.8 40 19.9 4 0.8 8 3.9 2 0.2 24.1-10.4 2-0.6 4-0.6 16 2.5 58-20 2 0.5 34.1 18.3 32 16.8" stroke="#17becf"/>
<path d="M774.7 147.7l59.6 33.2 2-0.4 21.9-10.3 1.9 0.1 2 0.8 10 5.4 2-0.2 53.6-19.6 2-0.2 2 0.4 40.3 17.4 40.2 16.8 2 0.6 4.1-0.8 4 0.8 16.1 8.5 42.3-20.9 6-1.6 4 0.7 2 1 36 18 2-0.4 16.1-8.7 18 2.9 2 0 4-0.9 56-25.1 2-0.2 14 7.7 2 0.4 2-0.5 22.1-8.1 40-15.2" stroke="#ff7f0e"/>
<path d="M776.7 147.7l39.7-0.1 41.8 22.5 1.9 0 2-0.8 43.8-21.4 1.9 0.2 19.9 7.7 2 0.2 2-0.4 12.1-5.3 2 0.7 36.2 19.9 36.3 19.3 4 1.2 28.2-5.8 30.2-6.6 4-1.7 2 0.4 2-0.4 2 1 2 0.5 54.1 9.5 2-0.9 18 2.9 2 0 58-26.2 2 0.2 2 0.8 14 7.7 2-0.4 20.1-7.3 46-17.4" stroke="#d62728"/>
<path d="M774.7 147.7l43.7-0.4 39.8 21.7 1.9 0.1 43.8-21.6 2-0.2 1.9 0.3 21.9 8.4 12.1-5.4 2-0.7 2 0.3 42.3 23.2 32.2 17.1 30.2-6.2 32.2-7.1 2 0 2 0.5 4-0.6 36 6.5 22.1 3.6 60-33.3 18 10 2 0.1 2-0.6 12-5.6 42.1-19.9 2-0.4 22 8.7" stroke="#8c564b"/>
<path d="M774.7 147.7l19.9-11.3 2 0.2 17.8 9.9 2 0.7 2 0.1 37.8-1.1 41.7-2 6 2.4 3.9 0.3 8-3.8 13.9-1 14.1 7.6 2-0.3 10.1-4.5 2-0.6 46.3 12.9 46.3 11.9 32.2 7.6 2 0.1 2-0.5 4 0.6 56.1-11.4 58-13.1 2 0.4 2 1 2 0.2 16 8.9 2 0.3 56.1-26.5 28 11" stroke="#7f7f7f"/>
<path d="M774.7 124.3l19.9 11.1 2-0.2 1.9 1 19.9 10.9 37.8-1.3 39.7-2.1 4 0.8 6 2 5.9-3 4-0.5 2-0.8 5.9-0.5 8 0.7 12.1 6.7 2-0.3 10.1-4.6 4-0.8 30.2 8.5 30.2 8.1 30.2 7.7 30.2 7.2 4 1.8 2-0.4 2 0.4 2-1.1 2-0.5 54.1-11 56-12.8 4 0.6 2 1 2-0.3 6-3.1 60.1-15.3 2 0.1 6 2.3 2 0.4 26-12.7" stroke="#17becf"/>
<path d="M774.7 124.3l4 0.6 17.9 10.2 9.9-5.6 2-0.3 35.8 4.5 37.7 4.2 13.9 5.5 4 0.7 11.9-0.8 2-0.8 4-0.5 2-0.7 5.9 0.2 6-0.6 4-2.2 2.1-0.3 18.1 5.3 4-0.6 32.2-14.5 44.3 23.4 42.2 21.6 4.1 1.8 4 0.9 4-0.8 2-0.9 38-19.6 40.1-21.3 2-0.2 30 17 2 0.4 2 0.9 8-1.8 6-3 54.1-13.9 4 1.1 6 2.3 20-9.8 8-2.4" stroke="#ff7f0e"/>
<path d="M774.7 124.3l2-0.3 2 0.9 27.8 4 4-0.9 33.8 4.5 33.7 3.9 4 1.5 2 0.4 13.9 5.2 15.9-1.1 2-0.9 6-0.9 7.9 0.6 6-3.4 4.1-0.3 18.1 5.3 2-0.4 30.2-13.9 2-0.1 2-0.6 46.3 24.7 46.3 23.8 40-20.8 42.1-22.5 2-0.6 2 0.2 2 1 30 17 2-0.2 14-3.5 36.1-21 2 0.3 16 6.5 4 0.9 26-7.1 6-2.8 2 0.6" stroke="#d62728"/>
<path d="M774.7 124.3l2-0.5 4-0.2 27.8 4.1 2-0.5 17.9-10.5 1.9-0.1 47.7 19.7 6 1.8 31.8 2.8 6-0.9 7.9-4.1 6 1.9 2.1-0.9 2-0.5 14.1-7.9 24.1-7.5 12.1 6.5 4-0.1 46.3-21.9 46.3-22.7 38 22.8 38.1 22.2 6 3.4 4 1.2 42-22.9 2-0.8 36 15 22.1 8.8 2 0.1 32-8.8 2-0.1 2 0.6" stroke="#8c564b"/>
<path d="M774.7 122.7l2 0.4 4 0.2 45.7-7.6 2 0 51.6 20.9 37.8 3.6 2-0.7 7.9-4.1 2 0.5 2-0.6 6.1 1.4 12-6.9 4.1-1.4 6-3.3 16.1-5.2 2 0.9 2-0.6 12.1 6.6 2-0.2 40.3-19.2 40.2-19.9 12.1-4.7 2 0.2 2 0.8 40 24.1 40.1 23.4 2-0.5 40-22.2 2-0.8 4 1.3 38.1 16 2-0.3 18-10.7 2 0.3 30 8.7 2 0.2 2-0.6" stroke="#7f7f7f"/>
<path d="M774.7 122.7l2 0.3 2-0.9 45.7-7.9 4 1.3 1.9 0.1 2-1 39.8-7.7 2 0.2 53.6 27.8 2-0.5 2 0.6 2-0.3 16.1-4.9 6.1-3.4 4-1.4 12.1-6.9 4 1.8 2-0.6 2 0.8 38.3-12.8 38.2-13.4 20.1-7.4 8.1-4.1 2 0.4 2-0.2 2 0.5 32 2.6 48.1 3 42 18.3 4 1.3 14-7.8 2-0.1 44.1 13.4 2-0.9 26 7.5 6 2.8 2-0.5" stroke="#17becf"/>
<path d="M774.7 122.7l4-0.7 27.8-15.7 17.9 7.7 4 1.3 3.9-0.9 4-2.3 33.8-6.7 4 1.1 1.9-0.1 53.7 28 26.2-8 14.1-8.1 4-1.4 4 2.2 2-0.5 52.4-17.6 52.3-18.9 2 0.7 8-0.7 32 2.7 42.1 3 2 0.9 2 0.2 42 18.5 14-7.8 2 0.1 2-0.3 2 0.1 44.1 13.4 4-2.4 2-0.2 20 10 8 2.4" stroke="#ff7f0e"/>
<path d="M774.7 122.7l29.8-17.2 19.9 8.3 2 0.1 9.9-1.9 21.9-12.9 1.9 0.7 10 5.2 2 0 2 0.3 1.9 0.8 53.7-11.6 40.3 22.1 2 0.6 2-0.3 36.2-21 42.3-25 2-0.4 30.2 11.5 2-0.6 8 0.7 50.1-5 22 9.8 6 1.9 28 1.3 28 9 2-0.7 2 0.4 2-0.6 12-6.6 2 0.3 34.1 17.4 4 0.3 26 13.1" stroke="#d62728"/>
<path d="M778.7 94.1l25.8 11.4 2 0.6 29.8-17.3 2-0.8 19.9 10.7 1.9-0.8 12 6.3 2 0.3 49.6-10.8 2-0.1 4 0.9 2-1.1 40.3 22.4 2 0.2 38.2-22.3 40.3-24 2-0.1 2 0.3 18.1 7 10.1 4.9 2-0.4 2 0.2 2-0.6 50-5.2 2 0.4 2.1 0.8 2 0.2 24 10.6 26 1.4 2 0.2 2 0.7 6 0.4 24 7.7 12-6.7 4-0.1 6 0.6 32.1 16.5 2-0.4 26-15.8" stroke="#8c564b"/>
<path d="M774.7 92.3l29.8 13 31.8-18.4 2 0.7 2-0.6 19.8 10.8 23.9-14.2 39.7 9.5 2 0.1 4-0.9 2 1.1 66.4-37.9 2-0.8 12.1-0.4 2 0.2 38.3 15.2 4-1.3 2 0.1 16.1 8.2 12.1 4.7 2-0.2 2-0.9 26-15.9 24 10.8 2 0.3 4.1 1.3 10-1.1 2 0.3 40 13.3 4 0.2 4 0.9 32 1 4 0.1 2-0.3 6 0.1 2 0.5 8.1 0.1 50 0.4" stroke="#7f7f7f"/>
<path d="M778.7 90.5l33.8-15.3 1.9-0.2 21.9 11.9 2-1 2 0.5 15.9-9.4 2-0.3 25.8 6.7 2-1 2-0.3 41.7 10.2 64.4-37 8.1-1.3 10-0.3 2 0.5 2.1-0.1 36.2 14.3 2 0.1 2-1 2-0.3 2 0.8 26.2 13.4 28-17.3 4 0.1 24 11.1 10.1-0.9 2 0.2 2 0.7 4-0.1 38 12.7 6 1.7 38 1.5 2-0.7 2 0.5 2-0.6 4 1.1 6.1 0.1 54 0.8" stroke="#17becf"/>
<path d="M774.7 92.3l37.8-17.2 3.9-1.3 21.9 11.9 15.9-9.4 4-0.4 1.9-1 25.9 6.7 2-0.4 41.7-25.6 32.2-0.1 32.2-0.6 2-0.6 4-0.2 6.1-2.9 6 2.4 2-0.1 2.1 0.6 12-0.5 2 0.4 26.2 13.3 2-0.3 2-1 26.2-15.8 28 13.1 4-0.2 2-0.5 32.1 11.3 2 0.2 2-0.2 4 1.3 44-5.5 2 0.1 38 20 2-0.6 2 0.7 2-0.8 28.1-16.2 2-0.4 32 19.8" stroke="#ff7f0e"/>
<path d="M774.7 52.9l37.8 21 1.9 0.2 12-5.3 2-0.2 25.8 7.1 4-1.4 1.9 0.4 49.7-29.9 2-0.3 17.9 11.1 32.2-0.4 32.2-0.8 2-0.3 6.1-3.6 2-0.1 2 0.5 2-0.1 6 2.5 2.1 0.1 12-0.4 2 0.5 2.1-0.1 24.1 12.5 2 0.2 24.2-14.7 2-1.1 2-0.1 12 4.5 16 7.6 2 0.6 2-1 4 0.1 34.1 11.9 46-6 4 1.5 2-0.2 2 0.5 36 19.1 2-0.7 28.1-16.3 2-0.5 2 0.5 32-18.9" stroke="#d62728"/>
<path d="M774.7 52.9l9.9 3.1 29.8 16.7 2 0.5 13.9-6.2 2 0.2 23.9 6.6 2 0.1 49.6-30.2 2-0.4 2 0.2 17.9-10.9 46.3 6.4 2 0.5 24.2 10.1 2-0.2 2 0.6 2-0.3 6-3.5 2.1 0.4 12 6.2 2-0.1 2.1 0.6 4-0.1 30.2-1.7 22.1-1.6 10 4.7 18 6.6 2 0.4 4-0.9 30.1-18.9 2-0.3 48 26.1 4-0.1 2 1.1 2 0.3 52.1-7.7 14 8.8 2 0.6 28-16.7 6-1" stroke="#8c564b"/>
<path d="M774.7 52.9l2-0.6 2 0.3 5.9 3.3 41.8 12.1 2-0.4 5.9-2.5 61.6-29.6 2 0.3 9.9 6.2 2 0.5 17.9-11 2 1.1 8.1-1.1 32.2 4.7 6 2.4 6 1.5 22.2 9.1 8-4.6 2 1 2.1-0.6 14 7.2 2.1 0.4 46.2-3 8.1 0.6 2-0.5 30 10.9 2-0.2 32.1-20 2 0.2 2-0.7 50 27.5 52.1-7.9 2 0.4 2 1.3 2-0.3 42-7 2-1.2 2-0.2 2 0.4" stroke="#7f7f7f"/>
<path d="M774.7 52.9l2-1.1 2-0.1 2 0.4 49.6 14.6 31.8-15.3 33.8-16.6 2-0.3 17.9-8.9M919.8 26.4l7.9 5 2-1.2 8.1 1.1 14-2.2 2.1 0.1 16.1 6.9 4 0.6 8 3.1 26.2 3.1 2 0.6 2 1 2-0.8 2.1 1 2-0.7 30.2 3 30.1 2.6 8.1-0.6 2 0.4 46-17.6 2-0.3 16.1 8.7 2-1.3 2 0.4 20-12.8 2-0.8 44 9.9 36.1 23.1 2 0.5 44-7.5 4 0.5 2-0.5 2 1.2" stroke="#17becf"/>
</g>
<g clip-path="url(#cp11)" fill="none" stroke-width="1.9" stroke-linejoin="round">
<path d="M774.7 1117l34.9-0.2 38.7-0.8 38.8-1.3 42.6-1.9M1086.7 1108.6l62.4 3.8 54.6 2.5 54.6 1.6 54.6 0.5" stroke="#1f77b4"/>
<path d="M778.6 1106.7l27.1 0.4 27.1 0.8 96.9 4.9 35.3-0.3 39.3-0.7 39.2-1.3 43.2-1.9" stroke="#ff7f0e"/>
<path d="M774.7 1106.7l34.9-0.2 38.7-0.8 38.8-1.3 42.6-1.9M1086.7 1108.6l54.6-0.3 117-1.3 54.6-0.3" stroke="#2ca02c"/>
<path d="M774.7 1096.7l46.5 0.7 34.9 1.5 73.6 3.6 27.5 0.3 31.4 1 98.1 4.8 97.5-6.9 42.9-2.6 42.9-1.8 42.9-0.6" stroke="#d62728"/>
<path d="M778.6 1066.9l34.8-0.3 38.8-0.8 38.8-1.4 38.7-1.9M1086.7 1045.3l7.8 0.8" stroke="#9467bd"/>
<path d="M774.7 1066.9l23.3-0.5 23.2-1.4 23.2-2.2 27.2-3.6 58.1 3.3 19.6-0.3 23.6-1.3 23.5-2.1 23.6-2.9 23.5-3.4 35.3-6.1 7.9-1.1 7.8 0.8 35.1 5.5 31.2 4.5 27.3 3.3 23.4 2.5 27.3 2.3 23.4 1.4 27.3 1 23.4 0.3" stroke="#8c564b"/>
<path d="M774.7 1055.8l42.6 0.8 54.3 2.6 27.1-4.4 31-5.8M1086.7 1045.3l50.7 4.5 50.7 3.2 50.7 1.9 58.5 0.9" stroke="#e377c2"/>
<path d="M774.7 1055.8l15.5-0.2 15.5-0.6 31-2.4 31-3.8 34.9-5.5 27.1 5.7 35.3-0.2 35.4-0.7 78.4-2.9 7.9 0.1 7.8-0.6 54.6 4.9 54.6 3.4 54.6 2.1 54.6 0.7" stroke="#7f7f7f"/>
<path d="M774.7 1018.5l27.1-0.3 58.2 15 42.6 10 27.1-5M1086.7 1043.9l7.8 0.6 31.2-3.5 35.1-4.4 54.6-8.1 62.4-10.7 3.9-0.1 15.6 0.6 15.6 0.2" stroke="#bcbd22"/>
<path d="M774.7 1013.1l7.7 0.7 19.4 4 31-2.1 50.4 12.4 46.5 10.1 23.5 0.2 23.6 0.7 94.2 4.6 15.7 0.2M1094.5 1043.1l39-4.6 42.9-5.8 39-5.9 58.5-9.5 3.9 0.1 3.9-0.3 19.5-3.1 11.7-0.9" stroke="#17becf"/>
<path d="M774.7 1013.1l46.5-0.4 11.6 2.7 31-3.7 65.9-2.8M1086.7 1043.9l7.8-0.8M1238.8 1014.8l3.9-0.6 31.2 3 23.4-3.2 7.8-0.6 7.8-0.3" stroke="#1f77b4"/>
<path d="M774.7 1007.4l19.4-1.4 27.1 6.7 42.6-1.2 27.2-4.3 42.6 1.9 4 0.5 15.6 3.2 51.1 13.1 35.3 8.5 31.4 6.9 7.8 1.5 7.9 1.1 11.7-1.5 39-7.1 105.3-21.3M1289.5 1005.1l3.9 0.1 11.7 1.8 7.8 0.4" stroke="#ff7f0e"/>
<path d="M774.7 1002.9l7.7 0.6 11.7 2.3 46.5-1.3 50.4 2.4 7.7-1.1 23.3-4.5 7.7-0.4M1086.7 981.2l42.9 11.4 39 9.1 35.1 6.8 19.5 3.1 15.6 2.1 3.9 0.3 31.2-6.1 19.5-3.3M1309 1003l3.9-0.1" stroke="#2ca02c"/>
<path d="M774.7 1002.9l31 0.4 34.9 1.2 38.7-1.3 38.8-1.7 7.7-0.8 7.8 0.1 7.9-1.2 27.5-1.3 27.4-2.5 27.5-3.5 31.4-5.1 31.4-6M1176.4 978.1l62.4 15.4 27.3 6.2 23.4 4.8 3.9 0.1 11.7-1.4 7.8-0.3" stroke="#d62728"/>
<path d="M774.7 1002.9l7.7-0.2 7.8-1 7.8-1.5 15.4-4.2 3.9-0.6 34.9 1.4 69.8 3.7 3.8 0 3.9-0.8M1086.7 981.2l27.3-0.3 23.4-0.7 23.4-1.1 23.4-1.6 46.8 11.4 39 8.5 23.4 4.1 11.7 1.2 7.8 0.2" stroke="#9467bd"/>
<path d="M774.7 994.6l38.7 0.6 3.9-0.3 38.8-12.5 38.7 9.5 34.9 7.8 11.8-0.1 11.7-2.9 19.7-5.7 62.8-20.4 3.9 0.3 47.1 10.3 46.8-13.7 3.9 0.2 39 10.3 11.7-0.8" stroke="#8c564b"/>
<path d="M774.7 994.6l7.7-0.6 11.7-2.5 19.3-5.4 23.3-7.4 3.9-0.4 15.5 4.1 34.9-12.2 38.7-14.3M1086.7 953.1l42.9 12.1 3.9 0.9 3.9-0.4 3.9 0.4 42.9 11.3 15.6-1.1 3.9 0.3 78 14.6 19.5 2.8 11.7 0.6" stroke="#e377c2"/>
<path d="M774.7 962.3l3.9 0.2 7.7 1.3 11.7 2.9 38.7 10.5 3.9 0.3 34.8-11.8 38.8-13.9 3.9-0.3 11.6 4.4 43.2-0.2 7.8 0.5 43.2 10.8 11.8 2.6 3.9-0.7 35.3-12.3 11.8-3.5M1106.2 956.4l31.2 8.6 3.9-0.4 3.9 0" stroke="#7f7f7f"/>
<path d="M774.7 962.3l15.5-0.3 15.5-0.6 31-2.5 34.9-4.3 34.8-5.8 3.9-0.2 3.9 1.4 3.9 0.3 11.6-4.3M1086.7 953.1l7.8 0.9 15.6 3.2M1141.3 963.8l54.6 11.1 3.9 0.7 3.9 0.1 19.5-1.9 19.5-2.4 54.6-7.9 7.8-0.9 7.8-0.3" stroke="#bcbd22"/>
<path d="M774.7 955.5l27.1-0.7 27.2-1.9 27.1-3.1 38.7-5.6 3.9 0.3 7.7 2.6 3.9 1 15.5-3 3.9 0.9 11.8 0 3.9 0.6 27.5 7 7.8 1.5 11.8 0 31.4-0.8 54.9-2.4 7.9 1.2 3.9-1.2 19.5 5.3 31.2 6.6 3.9-0.4 19.5-6.4 27.3-9.3 31.2-11.1 3.9-0.1" stroke="#17becf"/>
<path d="M774.7 955.5l7.7-0.8 15.6-3.9 27.1-8.5 34.9-11.9 3.8-0.6 23.3 9.4 7.7 2.7 3.9 0.6 11.6-1.7 3.9 0.3 3.9 0.8 7.7 2.6 3.9-0.2M1086.7 950.6l3.9 1.2 19.5-5.5M1223.2 935.3l31.2 8.9 27.3 6.7 19.5 3.7 11.7 0.9" stroke="#1f77b4"/>
<path d="M774.7 908.4l7.7 0.6 11.7 2.4 77.5 19.9 38.7 8.9 3.9-0.1 7.8 2.6 7.7 1.6 3.9 0.2 11.8 1.6 27.5 0.6 27.5 1 74.5 3.9 3.9 0.1 7.9-1.1M1106.2 947.2l35.1-8.3 42.9-10.7 7.8-1.6 3.9 0.4 27.3 8.3 3.9-0.1 42.9-15.7 19.5-6.7 11.7-3.1 7.8-1.2 3.9-0.1" stroke="#ff7f0e"/>
<path d="M774.7 900.3l3.9 0.1 7.7 1.3 27.1 6.9 46.6 19.6 3.8 0.8 11.6-4.1 38.8 15.2 15.5-3.1M1086.7 950.6l7.8-0.9 15.6-3.6 74.1-22.9 3.9 0.7M1281.7 900.9l3.9-0.6 23.4 0" stroke="#2ca02c"/>
<path d="M774.7 900.3l3.9-0.2 11.6-1.7 23.2 10.2 62 16.2 31 7.2 23.3 5 7.9-0.7 11.7-2.7 19.7-5.8 31.4-10 31.4 12.7 27.4 10.7 19.6 7.2 7.9 2.2 42.9-12.7 50.7-15.6 3.9 0.4 7.8 2.2 3.9-0.2 35.1-9.2 50.7-14.6 3.9-0.8 27.3 0.2" stroke="#d62728"/>
<path d="M774.7 892.8l3.9 0.4 11.6 4.8 11.6-3.1 3.9 0.8 38.7 16.4 31 12.7 23.3-8.4 31-11.8M1180.3 921.4l3.9 1.3 3.9-0.7 70.2-22.2 23.4 0.5 3.9-0.6M1309 892.6l3.9 0.2" stroke="#9467bd"/>
<path d="M774.7 891.7l3.9 0.9 7.7-1 7.8 0 3.9 0.7 3.8 1.7 3.9-0.2 7.7-2.3 73.7-2 3.9 0.1 38.7 15 35.3-0.4 4 0.8 3.9 1.5 27.5 11.1 35.3-12.2 51-18.4 54.6 20.7 39 13.7 3.9-0.3 66.3-20.6 3.9-0.8 7.8-0.1 19.5 0.4 3.9-0.3 27.3-8" stroke="#8c564b"/>
<path d="M774.7 891.7l7.7 0 7.8-0.6 3.9 0 3.9 0.5 15.4-0.2 3.9-0.6 69.8-1.9 3.9 0.4 38.7-1.6M1086.7 887l39 4.4 42.9 3.8 39 2.5 42.9 1.9 7.8-0.1 3.9-1 27.3-8.6 3.9-0.8 11.7 3 3.9 0.5 3.9-0.9" stroke="#e377c2"/>
<path d="M774.7 891.1l11.6 0 3.9-0.7 7.8 0.6 15.4-0.1 3.9-0.6 19.4-6.3 3.9-0.5 31 1.5 7.7 1 7.8 2.2 3.9 0.6 31-1.4 7.7 0.3 31.4 13.2 3.9 1.3 4 0.6 7.8-0.3 11.8-0.9 31.4-3.6 27.4-4.2 39.3-6.8 3.9-0.2 39 4.4 42.9 3.8 39 2.5 39 1.7 3.9 0 35.1-10.8 3.9 0.3 3.9-1.2 3.9 0.2" stroke="#7f7f7f"/>
<path d="M774.7 891.1l7.7-3.2 3.9-0.6 3.9 1.6 3.9 0.5 19.3-5.8 3.9-0.9 27.1 0.6 77.6 4 7.7-0.2M1086.7 886.3l3.9 0.2 7.8-1 46.8-6.9 39-6.9 39-8.1 3.9-0.1M1242.7 868.8l27.3 11.5 19.5 7.5 7.8-1.3 15.6 4.6" stroke="#bcbd22"/>
<path d="M774.7 883.4l3.9 0.8 3.8 1.4 3.9 0.5 7.8-3.5 3.9-0.3 15.4 0.3 3.9-0.2 19.4 0.6 3.9-0.2 19.4-6.6 15.4 5.7 7.8 2 11.6 1.2 34.9 2 11.8-5 39.2-18 3.9-1.3 31.4 8 27.5 6.5 31.4 6.9 11.8 2.1 35.1-4.8 35.1-5.8 31.2-5.8 35.1-7.5 23.4 7.7M1293.4 885.3l3.9 1.2 3.9-0.2 7.8-2.3 3.9-0.6" stroke="#17becf"/>
<path d="M774.7 881.7l7.7 0.4 11.7 0.1 3.9-0.3 19.3 0.4 31-10.2 3.9 0.7 7.8 3.2 3.8-1.2 23.3-8.2 42.6-15.8M1223.2 862.1l7.8 1.4 11.7 5.2 50.7 16.6 3.9 0.7 11.7-3.5 3.9-0.8" stroke="#1f77b4"/>
<path d="M774.7 881.7l19.4 0.1 3.9-1 34.8-16.3 15.5 6.6 3.9-0.3 31-11 34.9-13 3.9 1 7.7 3 7.9 0.6 7.8 1.4 35.3 9 3.9 0.5 15.8-7.4 3.9-1.3 51 20.8 23.5 9.2 7.9 2.7 7.8-2.8 31.2-13 50.7-22.3 3.9-1.1 42.9 15 3.9-0.3 3.9 0.2 7.8-1.1 3.9 0.5 11.7 3.2 50.7 15.4 3.9 1.1 3.9 0.6" stroke="#ff7f0e"/>
<path d="M774.7 880.9l3.9-1.1 3.8-1.6 38.8-17.6 3.9 0.5 7.7 3.3 58.2-28.4 3.8 1.2 23.3 9.1 3.9-1 7.7-3M1184.2 844.7l3.9-0.4 3.9 1.2 27.3 12.7 7.8 3.3 7.8-1.5 3.9-0.2 3.9 0.7 15.6 4.4 50.7 15.1 3.9 0.9" stroke="#2ca02c"/>
<path d="M774.7 840.2l3.9 0.8 3.8 1.4 38.8 17.1 3.9-0.7 54.2-25.6 3.9-0.7 7.8 3.1 7.7-3.5 3.9-0.4 27.1 10.6 3.9-0.1 7.9-1.2 7.8-1.8 11.8-3.2 3.9 0.8 35.4 15.2 3.9 1 39.2-19 43.2-21.5 50.7 19 39 14.2 3.9 0.8 3.9-1.8 3.9-0.9 3.9 1.7 31.2 9.4 11.7 3.2 3.9 0.6 3.9-0.3 3.9-0.7 11.7-2.8 23.4-6.2 27.3-7.8 3.9-0.7" stroke="#d62728"/>
<path d="M774.7 838.6l23.3-0.5 27.1-1.7 23.2-2.3 27.1-3.8 7.8 1.3 7.8-2.5 3.8-0.6 3.9 1.6 3.9 0 11.6-5.7 15.5-3.1M1086.7 812.5l46.8 14.9 50.7 15.7 3.9 0.6 31.2 9.4 15.6 4.2 3.9 0.4 3.9-0.5 7.8-1.8 23.4-6.2 31.2-9 3.9-1.1 3.9-0.5" stroke="#9467bd"/>
<path d="M774.7 838.6l34.9-1.3 15.5-1.1 19.3-1.9 23.3-2.9 23.3-3.5 3.8 0.3 15.5-3.1 7.8-2 7.7-1.5 3.9-0.3 31.4 13.7 3.9-0.2 27.5-8.6 31.4-10.6 3.9-1 58.9-2.1 97.5 30.1 3.9 0.3M1242.7 817.3l3.9-0.8 23.4 8.5 19.5 6.8 15.6 5 3.9 1.1 3.9 0.7" stroke="#8c564b"/>
<path d="M774.7 836.3l3.9-0.6 7.7-3.1 42.7-20 3.8-1.1 42.6 17.8 3.9 0.1 7.8-2 3.9-0.4 3.8 0.2 19.4-3.4 7.8-3.6 7.7 0.6M1086.7 812.3l23.4-7.2 58.5 29.2 15.6 7.5 3.9 1.1 58.5-27.5 3.9 0.1 23.4 8.6 19.5 6.8 11.7 3.8 3.9 1.1 3.9 0.5" stroke="#e377c2"/>
<path d="M774.7 786.1l54.3 23.7 3.8 0.9 7.8-3.8 3.8 0.6 42.7 17.9 3.9 0.5 15.4-7.2 3.9-1.5 11.7 2.5 3.8 0.3 3.9 0.8 7.9-3.3 3.9-1.3 39.2-0.4 43.2-1.1 3.9-0.5 11.8-4 47.1 2.1 62.4-20.4M1180.3 790.7l3.9 0.5 31.2 13 27.3 10.8 3.9 0.4 3.9-1.8" stroke="#7f7f7f"/>
<path d="M774.7 786.1l3.9 0.1 7.7 1 7.8 1.6 15.5 3.8 3.8 1.4 27.2 11.9 3.8-0.9 3.9-1.9 3.9 0.5 46.5 11.1 23.3 4.5 3.8-1 3.9-2M1106.2 804.8l3.9-0.2 35.1-11.7 3.9-1 39-1.6 35.1 14.4 23.4 9.3 3.9-0.4 42.9-20.3 11.7-4.8 7.8-2.4" stroke="#bcbd22"/>
<path d="M774.7 785.6l7.7 0.5 11.7 2.2 11.6 2.8 7.7 2.5 34.9 9 3.9 0.5 31 7.6 27.1 6.1 7.8-3.9 3.9-0.7 7.7 4 7.9 0 3.9-0.5 15.7-6.8 3.9-0.9 3.9-0.2 23.6 0.4 51 1.9 23.6-8.5 3.9 0.7 19.6 10 23.4-9M1145.2 792l3.9-0.3 19.5-6.7 3.9 1.1 7.8 3.4 3.9 1 7.8-0.4" stroke="#17becf"/>
<path d="M774.7 785.6l7.7-3.3 3.9-0.5 23.3 10.3 38.7 10.1 3.9-1 23.2-11.7 3.9 0.1 38.8 20.6 3.9 0.8 7.7-4M1086.7 792.8l19.5 10.2 3.9 0.3 27.3-10.7 11.7-1.1 23.4-7.9 3.9 1.3 11.7 5.1 3.9 0.1 31.2-1.9 27.3-2.1 23.4-2.4 19.5-2.6 19.5 4.5" stroke="#1f77b4"/>
<path d="M774.7 776.7l7.7 3.4 3.9 0.4 23.3-10.8 19.4-6.2 3.8 0.7 42.6 23.3 3.9 0 3.9-1.9 3.9-0.8 42.6 22.2 23.5 0 4-0.2 3.9-0.8 19.6-8.8 39.3-19 3.9 1.4 39.3 20.7 3.9-0.1 19.6-7.4M1160.8 783.4l3.9-0.8 3.9 1.8 3.9-0.9 39-13.8 3.9-0.6" stroke="#ff7f0e"/>
<path d="M774.7 776.7l7.7-0.6 11.7-2.3 15.5-4.3 3.8-1.6 15.6-4.9 3.8-0.8 7.8-2.3 42.6 22.8 3.9 0.9 42.6-22.3M1086.7 792.8l50.7-0.6 3.9-1.1 23.4-9.3 3.9-0.4 3.9 1.8 3.9-1.1 35.1-12.5 3.9-0.5 78 11.9 7.8-1.4 11.7-2.9" stroke="#2ca02c"/>
<path d="M774.7 776.3l3.9-0.2 7.7-1.1 7.8-1.7 11.6-3.1 7.7-2.4 11.7-5.5 7.7-0.6 11.6-3.3 46.6-16.2 3.8 0.4 34.9 18.7 27.5-0.6 27.4-1.7 4 1.5 31.4 17 3.9-1.2 7.9-3.9 3.9 0.5 51 19.9 42.9-23 3.9-1.4 27.3 12.5 3.9 0.9 3.9-1.5M1211.5 768.5l3.9-0.2 42.9-15.9 3.9 0.7" stroke="#d62728"/>
<path d="M774.7 776.3l11.6-5.2 31-14.7 3.9 1.3 3.9 2.2 3.9 0.6 3.8-1.9 3.9-1 3.9 1.6 50.4-17.5 3.8-0.9 34.9-13M1086.7 745.9l42.9 20.7 3.9 1.1 3.9-0.5 27.3 12.5 3.9 0.6 31.2-12.2 3.9-0.6 7.8 1 3.9-0.3 42.9-15.9 3.9 0.8 19.5 10 15.6 7.4 7.8 3.2 7.8 2.6" stroke="#9467bd"/>
<path d="M774.7 731.3l42.6 24.2 3.9-1 3.9-1.8 3.9 0.6 3.8 2.1 3.9 1.3 42.6-20.9 3.9 0.4 7.8 4.3 3.8-0.2 31-11.6 3.9-0.9 54.9 30.5 4 0.3 7.8-0.7 4 0.4 31.4 13 3.9-0.8 39.2-19.5 11.8-5.1M1094.5 746.7l39 18.6 3.9 0.3 11.7-6.5 3.9-0.9M1258.3 751l3.9-0.1 50.7-19.6" stroke="#8c564b"/>
<path d="M786.3 731.2l3.9 0.4 34.9 19.5 3.9-0.3 42.6-21 7.7 4.3 3.9-0.2 7.8-3.9 3.8-1M922 727.9l7.7-0.3M1086.7 745.9l3.9 0.2 7.8 1.3M1149.1 757.4l46.8 8.3 3.9 0.5 3.9-0.4 7.8-2.8 39-15.5 3.9 1.4 3.9 2.1 3.9-0.2 50.7-19.6" stroke="#e377c2"/>
<path d="M774.7 731.2l15.5 0M891 729.1l38.7-1.5 62.8 27.4 3.9 1.7 4 0.7 19.6-2.3 23.5-3.4 19.7-3.4 15.6-3.3 4-0.4 3.9 1.3 3.9-1.3 3.9 1.9 54.6 10.9 3.9-0.5 54.6-31 3.9-0.6M1301.2 727.3l3.9 0.8 7.8 3.1" stroke="#7f7f7f"/>
<path d="M774.7 731.2l7.7-4 7.8 4 50.4-0.7 50.4-1.4 3.8-1 3.9-1.4 3.9-0.1 27.1 1M1086.7 742.7l3.9 1.3 3.9-2 3.9-0.9M1207.6 723.1l42.9 23.7 3.9-0.9 46.8-18.6 3.9 0.8 7.8 3.1" stroke="#bcbd22"/>
<path d="M774.7 722.7l7.7 4 3.9-2.2 3.9-1.7 31 0.5 38.8 1.3 3.8 0.9 7.8 4.2 7.7-3.5 3.9-0.4 46.5 1.8 27.5-12.7 3.9 0.3 58.9 14.7 58.8 13.6 4 0.5 3.9-1.3M1094.5 741.9l15.6-3.3 27.3-6.7 27.3-7.4 27.3-7.8 3.9-0.2 11.7 6.6 3.9 0.5 31.2-18.3 3.9-1 54.6 22.3 3.9-0.8" stroke="#17becf"/>
<path d="M774.7 722.7l50.4 0.7 69.7 2.5 3.9-0.4 11.6-5.2 15.5 6 3.9 0.9M1086.7 742.7l7.8-0.8 3.9-1.8 35.1-18 35.1-18.5 3.9-0.7M1238.8 701.7l3.9 1 58.5 23.8 3.9-0.7 7.8-3.1" stroke="#1f77b4"/>
<path d="M774.7 722.7l11.6 0 3.9-0.5 31-18.2 3.9-0.5 34.9 19.8 3.8 1.4 11.6 0.4 3.9-0.2 3.9-1.4 15.5-7.8 7.7 3.1 7.8 2.5 15.5 5.9 3.9-1.8 19.6-11.3 4 0.2 3.9-1.2 35.3-16.7 4 1.3 35.3 19.3 31.4 16.6 11.7 5.8 7.9 3.3 39-19.9 39-20.5 3.9-1.6 23.4 13.5 3.9 1.3 42.9-13.8 3.9 0.9 3.9 0.3 3.9-2.3 3.9-0.7" stroke="#ff7f0e"/>
<path d="M774.7 722.7l38.7-22.5 3.9-1.1 3.9 2.2 3.9 0.4 15.5-9.3 3.8 1 50.4 20.7 3.9 1.6 3.9 1 7.7 3 19.4-9.7M1164.7 698.4l3.9 2.3 3.9 0.8 27.3-14.9 3.9-0.5M1223.2 694.4l15.6 6.6 3.9-0.6M1250.5 698.4l62.4 24.3" stroke="#2ca02c"/>
<path d="M774.7 674.2l38.7 22.7 3.9 1 15.5-9.1 7.8 3 3.8 1 54.3 22.3 3.9-1.4 15.5-8 3.9 0.2 7.7 4.1 3.9 0.1 7.9 0.9 11.7 2.3 4-1.5 31.4-18.3 3.9-0.2 3.9 2.2 4-1 43.1-21.2 43.2-22 54.6 33.2 23.4 13.9 3.9 1.8 27.3-14.9 3.9-0.9 39 16.6 3.9-0.6 3.9-1.3 3.9-0.7 3.9-0.1 7.8-4.7" stroke="#d62728"/>
<path d="M798 673.7l3.8 1.2 31 13.5 3.9 1.1 3.9 1.7 3.8-1.1 19.4-11.8 3.9-1.5 50.4 27.1 3.9-0.3 7.7-4M1195.9 682.8l3.9 1.6 3.9 0.1 3.9-2.2 3.9 1M1262.2 693.6l23.4-8.7 27.3-10.7" stroke="#9467bd"/>
<path d="M774.7 674.1l23.3-0.4 3.8 0.6 31 13.5 3.9-1.3 23.3-13.9 3.8 2.1 3.9 1.3 7.7-4.8 3.9 1.2 50.4 27.2 3.9-0.2 7.9-1 7.8-1.6 11.8-3 19.6-5.8 3.9 0.9 4 2.2 3.9 0.1 19.6-11.5 7.9-4.1 66.7-24.3 46.8 4.1 62.4 27.3 3.9 0.4 3.9-2.1 3.9 0.8 39 15.1 3.9 0.8 11.7-4.1 39-23.9 3.9 1.2" stroke="#8c564b"/>
<path d="M774.7 674.1l7.7-4.6 3.9-1.5 11.7 5.2 3.8 0.4M852.2 669.6l3.9 0.9 3.9 2 7.7-4.7 3.9 0.3 3.8 2.1 3.9-1.4 3.9-2.3 3.9-1.6M894.8 663.7l34.9-6.2M1203.7 680.2l3.9 1.6 3.9-1.7 31.2-17.4 3.9-1.3M1301.2 669.3l11.7 4.8" stroke="#e377c2"/>
<path d="M774.7 663l7.7 3.2 3.9 1.1 11.7 5.3 3.8 1 27.2-1.8 27.1-2.7M883.2 665.5l23.2-3.8 23.3-4.2 51 29.1 3.9 0.1 23.6-7.7 7.8-2.8 4-1.8 15.7-9.1 31.4-19.1 3.9-0.9 15.7 5.9 27.3-2.7 3.9 0.1 15.6 6.7 7.8 0.7 3.9 1.4 58.5 22.8 3.9-1.4 31.2-17.4 42.9 0.8 3.9 0.5 15.6 6.6 11.7-6.3" stroke="#7f7f7f"/>
<path d="M774.7 662.4l11.6 4.8 27.1-16.3 3.9-2 34.9 19.4 3.9 0.8 27.1-3.6 3.9-1.4 15.5-9.6 3.8-1.7 23.3 4.7M1238.8 661.2l3.9 0.1 3.9-0.8 11.7-6.6 3.9-1.5" stroke="#bcbd22"/>
<path d="M774.7 662.4l3.9-1.5 31-14.4 3.8 0.2 3.9 1.8 7.8-4.7 3.9 0.5 38.7 21.6 3.9-0.4 23.2-14.2 3.9-0.2 31 6.4 31.4-18.5 3.9-1.7 78.5-1.7 3.9 0.5 19.7 7.7 3.9 0 3.9 1.3 11.8 6.1 15.6-9.7 11.7 4.9 3.9 1.2 3.9 0.5 19.5 7.8 3.9 0.4 46.8 2.9 46.8 2 19.5-10.6 23.4 10.4 3.9 1.2 27.3 0.2" stroke="#17becf"/>
<path d="M774.7 661.7l3.9-1.5 31-14.4 3.8-1.1 7.8-3.7 3.9 1.1 3.9-0.7 7.7-4.8 54.3 12.8 11.6 2.5 3.8 0.2 23.3-14.6M1129.6 646.6l46.8-6.1 42.9-6.4 3.9 0M1254.4 648.8l3.9 1.8 3.9 1.1 15.6-8.7 3.9-0.4 27.3 17.2 3.9 1.9" stroke="#1f77b4"/>
</g>
<g clip-path="url(#cp21)" fill="none" stroke-width="1.6" stroke-linejoin="round">
<path d="M1449.5 1117l15.5-0.8 7.8-1 11.6-2.1 7.7-2 11.7-3.6 7.7-2.8 11.6-5 7.8-3.8 11.6-6.3 7.7-4.6 11.7-7.5 19.3-14 23.3-18.8M1761.5 972.8l15.6 17.7 15.6 16.8 15.6 16 15.6 14.9 15.6 13.8 11.7 9.6 15.6 11.7 11.7 7.9 15.6 9.4 11.7 6.1 15.6 7 11.7 4.3 15.6 4.4 11.7 2.3 15.6 1.9 11.7 0.4" stroke="#1f77b4"/>
<path d="M1449.5 940.3l3.9 0.1 7.7 0.9 7.8 1.6 7.7 2.4 7.8 3.2 7.7 3.8 7.8 4.5 7.7 5.1 15.5 11.4 15.5 12.8 50.4 45.1 15.5 13.5 15.7-0.8 7.8-0.9 11.8-2.2 7.9-1.9 11.7-3.6 7.9-2.9 11.8-4.9 7.8-3.8 11.8-6.3 19.6-12 19.7-13.9 23.5-18.7" stroke="#ff7f0e"/>
<path d="M1449.5 940.3l15.5-0.7 7.8-1 11.6-2.2 7.7-1.9 11.7-3.5 7.7-2.8 11.6-4.9 7.8-3.7 11.6-6.2 19.4-11.9 19.3-13.7 23.3-18.3M1761.5 972.8l11.7-0.2 15.6-0.8 11.7-1.1 15.6-1.9 15.6-2.5 15.6-3 62.4-13.6 23.4-4.5 15.6-2.3 11.7-1.3 15.6-1 11.7-0.3" stroke="#2ca02c"/>
<path d="M1449.5 768.7l11.6 0.9 11.7 2.6 11.6 4.3 11.6 5.8 7.8 4.5 7.7 5.1 7.7 5.5 11.7 8.9 19.3 16.2 34.9 30.5 19.4 16.5 3.9 0.1 7.9 0.8 7.8 1.6 7.9 2.4 7.8 3.1 7.9 3.8 7.8 4.5 7.9 4.9 15.7 11.4 15.7 12.7 51 44.7 15.7 13.3 27.3-32.3 50.7-61.8 19.5-23 11.7-13.1 11.7-12.6 11.7-11.7 7.8-7.3 11.7-10.2 11.7-8.9 11.7-7.7 7.8-4.3 11.7-5.2 11.7-3.6 11.7-2 7.8-0.4" stroke="#d62728"/>
</g>
<g clip-path="url(#cp12)" fill="none" stroke-width="1.9" stroke-linejoin="round">
<path d="M774.7 1715l143.9-0.1M1109.3 1714.9l203.6 0.1" stroke="#1f77b4"/>
<path d="M830.1 1714.9l245.4 0" stroke="#ff7f0e"/>
<path d="M774.7 1714.9l143.9-0.1M1109.3 1714.9l203.6 0" stroke="#2ca02c"/>
<path d="M774.7 1714.8l312 0.1 226.2-0.1" stroke="#d62728"/>
<path d="M785.8 1499.8l132.8-0.1" stroke="#9467bd"/>
<path d="M774.7 1499.8l188.6-0.1 56.1-0.5 67.3-0.8M1109.3 1498.6l113.1 0.9 90.5 0.3" stroke="#8c564b"/>
<path d="M785.8 1499.7l55.3-0.2 88.6-1" stroke="#e377c2"/>
<path d="M774.7 1499.7l66.4-0.3 88.6-0.9 157-0.1 124.4 1 101.8 0.3" stroke="#7f7f7f"/>
<path d="M785.8 1497.1l55.3 0.3 88.6 1" stroke="#bcbd22"/>
<path d="M774.7 1497.1l33.2 0 33.2 0.2 88.6 1.1 157 0M1109.3 1498.2l113.1-0.9 90.5-0.2" stroke="#17becf"/>
<path d="M785.8 1497l132.8 0" stroke="#1f77b4"/>
<path d="M774.7 1497l188.6 0.1 56.1 0.5 67.3 0.8 124.4-1.1 101.8-0.3" stroke="#ff7f0e"/>
<path d="M774.7 1335.3l22.1-0.2 33.3-0.6 99.6-2.7M1086.7 1324.6l33.9 2.7 34 2.4 33.9 2.1 22.6 1.1 33.9 1.3 22.7 0.6 22.6 0.3 22.6 0.2" stroke="#2ca02c"/>
<path d="M774.7 1330.2l44.3 0.1 44.3 0.4 33.2 0.4 33.2 0.7 22.4-0.2 22.5-0.6 33.6-1.5 78.5-4.9" stroke="#d62728"/>
<path d="M774.7 1330.2l11.1 0 22.1-0.5 11.1-0.4 22.1-1.1 22.2-1.4 22.1-1.8 44.3-4.3M1086.7 1324.6l22.6 0.2 22.6 0.6 79.2 3 33.9 1 34 0.6 33.9 0.2" stroke="#9467bd"/>
<path d="M774.7 1322l33.2-0.3 33.2-0.9 33.2-1.6 22.2-1.5 11.1 0.7 22.1 2.3 44.9 0.2 44.8 0.8 33.7 1.2 33.6 1.7 79.2-6.6 11.3-0.1 33.9 1.7 33.9 1.3 34 0.8 33.9 0.3" stroke="#8c564b"/>
<path d="M774.7 1311l22.1 0.2 11.1 0.3 22.2 0.8 11 0.6 22.2 1.5 33.2 2.9 11.1-0.4 22.1-2.1M1086.7 1311.3l45.2 3.6 34 2.3 11.3 0 45.2-3.2 34-1.8 33.9-1 22.6-0.2" stroke="#e377c2"/>
<path d="M774.7 1302.4l22.1 0.4 11.1 0.5 22.2 1.4 33.2 3.1 66.4 7 44.9-0.2 44.8-0.6 33.7-1 33.6-1.7" stroke="#7f7f7f"/>
<path d="M774.7 1302.4l88.6-0.3 66.4-0.8M1086.7 1311.3l22.6-0.2 22.6-0.8 22.7-1.2 67.8-4 34-1.6 33.9-0.9 22.6-0.2" stroke="#bcbd22"/>
<path d="M774.7 1297l11.1 0.1 22.1 0.4 77.5 2.7 33.2 0.9 22.3 0.3 22.4 0.7 11.3 0.6 22.4 1.6 56.1 4.7 33.6 2.3 90.5-7.7 45.2-3.4 22.6-1.3 22.7-1 22.6-0.7 22.6-0.2" stroke="#17becf"/>
<path d="M774.7 1274l66.4-0.3 88.6-1.2M1086.7 1271.1l67.9 1.3 56.5 0.9 56.6 0.6 45.2 0.1" stroke="#1f77b4"/>
<path d="M785.8 1271l66.4 0.5 77.5 1 67.3-0.3 89.7-1.1" stroke="#ff7f0e"/>
<path d="M774.7 1271l66.4-0.3 88.6-1.1M1086.7 1271.1l226.2-0.1" stroke="#2ca02c"/>
<path d="M774.7 1268.2l55.4 0.2 99.6 1.2 67.3 0.4 89.7 1.1 67.9-1.3 56.5-0.9 56.6-0.5 45.2-0.2" stroke="#d62728"/>
</g>
<g clip-path="url(#cp22)" fill="none" stroke-width="1.6" stroke-linejoin="round">
<path d="M1449.5 1715l66.4-0.2 88.6-0.8M1761.5 1713.1l124.4 1.4 56.6 0.4 45.2 0.1" stroke="#1f77b4"/>
<path d="M1460.6 1713.1l66.4 0.3 77.5 0.6 67.3-0.2 89.7-0.7" stroke="#ff7f0e"/>
<path d="M1449.5 1713.1l66.4-0.2 88.6-0.8M1761.5 1713.1l226.2 0" stroke="#2ca02c"/>
<path d="M1449.5 1711.2l66.4 0.2 88.6 0.7 67.3 0.2 89.7 0.8 124.4-1.5 56.6-0.4 45.2 0" stroke="#d62728"/>
</g>
<g clip-path="url(#cp20)" fill="none" stroke-width="1.6" stroke-linejoin="round">
<path d="M1449.5 518.9l7.9-0.3 10-1 9.9-2 10-2.7 9.9-3.6 9.9-4.4 10-5.3 9.9-6 7.9-5.5 10-7.6 9.9-8.4 10-9.2 9.9-10.1 9.9-10.9 10-11.7 9.9-12.6M1761.5 316.3l16 27.7 14 22.5 14 21 14.1 19.4 14 17.9 14 16.3 14 14.8 14 13.2 14 11.7 14 10.1 14 8.6 14.1 7 14 5.4 14 3.9 14 2.3 14 0.8" stroke="#ff7f0e"/>
<path d="M1449.5 114.6l19.9 50 19.8 46.8 19.9 43.5 17.9 36.3 19.9 37.2 9.9 17.4 9.9 16.5 10 15.7 9.9 14.9 17.9 24.7 8.1-0.3 8-0.8 8.1-1.3 8-1.9 8.1-2.3 8-3 8.1-3.4 10-5.1 10.1-5.9 12.1-8.2 10-7.8 12.1-10.4 10.1-9.5 12-12.6 12.1-13.8 12.1-15 12-0.5 12-1.7 12-2.9 14-4.7 12.1-5.3 12-6.5 12-7.6 14-10.3 14-11.8 16-15.4 16-17.5 16-19.4 16.1-21.5 16-23.5 16-25.6 16-27.5" stroke="#d62728"/>
</g>
<rect x="100.5" y="66.5" width="538.2" height="461.5" fill="none" stroke="#000" stroke-width="2.4"/>
<path d="M255.5 528v-10.5M412.5 528v-10.5" stroke="#000" stroke-width="2.1" fill="none"/>
<text transform="translate(88.2,570.6) scale(1,1.04)" font-size="42.5">Γ</text>
<text transform="translate(241.3,570.6) scale(1,1.04)" font-size="42.5">X</text>
<text transform="translate(394.8,570.6) scale(1,1.04)" font-size="42.5">M</text>
<text transform="translate(626.4,570.6) scale(1,1.04)" font-size="42.5">Γ</text>
<text x="97.3" y="38.7" font-size="52" font-weight="bold">a</text>
<rect x="774.7" y="66.5" width="538.2" height="461.5" fill="none" stroke="#000" stroke-width="2.4"/>
<path d="M929.7 528v-10.5M1086.7 528v-10.5" stroke="#000" stroke-width="2.1" fill="none"/>
<text transform="translate(762.4,570.6) scale(1,1.04)" font-size="42.5">Γ</text>
<text transform="translate(915.5,570.6) scale(1,1.04)" font-size="42.5">X</text>
<text transform="translate(1069,570.6) scale(1,1.04)" font-size="42.5">M</text>
<text transform="translate(1300.6,570.6) scale(1,1.04)" font-size="42.5">Γ</text>
<text x="771.2" y="38.7" font-size="52" font-weight="bold">d</text>
<rect x="1449.5" y="66.5" width="538.2" height="461.5" fill="none" stroke="#000" stroke-width="2.4"/>
<path d="M1604.5 528v-10.5M1761.5 528v-10.5" stroke="#000" stroke-width="2.1" fill="none"/>
<text transform="translate(1437.2,570.6) scale(1,1.04)" font-size="42.5">Γ</text>
<text transform="translate(1590.3,570.6) scale(1,1.04)" font-size="42.5">X</text>
<text transform="translate(1743.8,570.6) scale(1,1.04)" font-size="42.5">M</text>
<text transform="translate(1975.4,570.6) scale(1,1.04)" font-size="42.5">Γ</text>
<text x="1446.1" y="38.7" font-size="52" font-weight="bold">g</text>
<path d="M100.5 143.4h6.5M638.7 143.4h-6.5M100.5 220.3h10.5M638.7 220.3h-10.5M100.5 297.2h6.5M638.7 297.2h-6.5M100.5 374.2h10.5M638.7 374.2h-10.5M100.5 451.1h6.5M638.7 451.1h-6.5" stroke="#000" stroke-width="2.1" fill="none"/>
<text transform="translate(63.9,82) scale(1,1.04)" font-size="42">4</text>
<text transform="translate(64.8,235.8) scale(1,1.04)" font-size="42">2</text>
<text transform="translate(64.3,389.7) scale(1,1.04)" font-size="42">0</text>
<text transform="translate(40.2,543.5) scale(1,1.04)" font-size="42">−2</text>
<g transform="translate(34.6,297.2) rotate(-90)"><text transform="translate(-45.2,0) scale(1,1.025)" font-size="46.5">E/E</text><text transform="translate(31.4,13.8) scale(1,1.025)" font-size="32.5">r</text></g>
<text transform="translate(254.3,43.7) scale(1,1.025)" font-size="46.5">Ω</text>
<text transform="translate(290.3,57.5) scale(1,1.025)" font-size="32.5">R</text>
<text x="325" y="43.7" font-size="47.5" font-family="'DejaVu Sans',sans-serif">=</text>
<text transform="translate(373.4,43.7) scale(1,1.025)" font-size="46.5">0.0E</text>
<text transform="translate(470.1,57.5) scale(1,1.025)" font-size="32.5">r</text>
<text transform="translate(912.5,43.7) scale(1,1.025)" font-size="46.5">E</text>
<text transform="translate(944.7,57.5) scale(1,1.025)" font-size="32.5">0</text>
<text x="973.9" y="43.7" font-size="47.5" font-family="'DejaVu Sans',sans-serif">=</text>
<text transform="translate(1021.9,43.7) scale(1,1.025)" font-size="46.5">-0.91E</text>
<text transform="translate(1161.1,57.5) scale(1,1.025)" font-size="32.5">r</text>
<text transform="translate(1587.3,43.7) scale(1,1.025)" font-size="46.5">E</text>
<text transform="translate(1619.5,57.5) scale(1,1.025)" font-size="32.5">0</text>
<text x="1648.7" y="43.7" font-size="47.5" font-family="'DejaVu Sans',sans-serif">=</text>
<text transform="translate(1696.7,43.7) scale(1,1.025)" font-size="46.5">-0.91E</text>
<text transform="translate(1835.9,57.5) scale(1,1.025)" font-size="32.5">r</text>
<path d="M774.7 518.9h10.5M1312.9 518.9h-10.5M774.7 292.7h10.5M1312.9 292.7h-10.5" stroke="#000" stroke-width="2.1" fill="none"/>
<text transform="translate(1324.9,82) scale(1,1.04)" font-size="42">0.1</text>
<text transform="translate(1324.9,534.4) scale(1,1.04)" font-size="42">0.0</text>
<g transform="translate(1378.2,297.2) rotate(-90)"><text transform="translate(-108.2,0) scale(1,1.025)" font-size="46.5">(E</text><text transform="translate(-52.3,0) scale(1,1.025)" font-size="46.5">−</text><text transform="translate(-18.7,0) scale(1,1.025)" font-size="46.5">E</text><text transform="translate(13.9,14) scale(1,1.025)" font-size="32.5">0</text><text transform="translate(36.3,0) scale(1,1.025)" font-size="46.5">)</text><text transform="translate(49.5,0) scale(1,1.025)" font-size="46.5">/E</text><text transform="translate(94.7,14) scale(1,1.025)" font-size="32.5">r</text></g>
<path d="M1449.5 518.9h10.5M1987.7 518.9h-10.5M1449.5 292.7h10.5M1987.7 292.7h-10.5" stroke="#000" stroke-width="2.1" fill="none"/>
<text transform="translate(1999.7,82) scale(1,1.04)" font-size="42">0.006</text>
<text transform="translate(1999.7,534.4) scale(1,1.04)" font-size="42">0.0</text>
<g transform="translate(2053,297.2) rotate(-90)"><text transform="translate(-108.2,0) scale(1,1.025)" font-size="46.5">(E</text><text transform="translate(-52.3,0) scale(1,1.025)" font-size="46.5">−</text><text transform="translate(-18.7,0) scale(1,1.025)" font-size="46.5">E</text><text transform="translate(13.9,14) scale(1,1.025)" font-size="32.5">0</text><text transform="translate(36.3,0) scale(1,1.025)" font-size="46.5">)</text><text transform="translate(49.5,0) scale(1,1.025)" font-size="46.5">/E</text><text transform="translate(94.7,14) scale(1,1.025)" font-size="32.5">r</text></g>
<rect x="100.5" y="664.6" width="538.2" height="461.5" fill="none" stroke="#000" stroke-width="2.4"/>
<path d="M255.5 1126.1v-10.5M412.5 1126.1v-10.5" stroke="#000" stroke-width="2.1" fill="none"/>
<text transform="translate(88.2,1168.7) scale(1,1.04)" font-size="42.5">Γ</text>
<text transform="translate(241.3,1168.7) scale(1,1.04)" font-size="42.5">X</text>
<text transform="translate(394.8,1168.7) scale(1,1.04)" font-size="42.5">M</text>
<text transform="translate(626.4,1168.7) scale(1,1.04)" font-size="42.5">Γ</text>
<text x="95.4" y="636.8" font-size="52" font-weight="bold">b</text>
<rect x="774.7" y="664.6" width="538.2" height="461.5" fill="none" stroke="#000" stroke-width="2.4"/>
<path d="M929.7 1126.1v-10.5M1086.7 1126.1v-10.5" stroke="#000" stroke-width="2.1" fill="none"/>
<text transform="translate(762.4,1168.7) scale(1,1.04)" font-size="42.5">Γ</text>
<text transform="translate(915.5,1168.7) scale(1,1.04)" font-size="42.5">X</text>
<text transform="translate(1069,1168.7) scale(1,1.04)" font-size="42.5">M</text>
<text transform="translate(1300.6,1168.7) scale(1,1.04)" font-size="42.5">Γ</text>
<text x="771.3" y="636.8" font-size="52" font-weight="bold">e</text>
<rect x="1449.5" y="664.6" width="538.2" height="461.5" fill="none" stroke="#000" stroke-width="2.4"/>
<path d="M1604.5 1126.1v-10.5M1761.5 1126.1v-10.5" stroke="#000" stroke-width="2.1" fill="none"/>
<text transform="translate(1437.2,1168.7) scale(1,1.04)" font-size="42.5">Γ</text>
<text transform="translate(1590.3,1168.7) scale(1,1.04)" font-size="42.5">X</text>
<text transform="translate(1743.8,1168.7) scale(1,1.04)" font-size="42.5">M</text>
<text transform="translate(1975.4,1168.7) scale(1,1.04)" font-size="42.5">Γ</text>
<text x="1444.6" y="636.8" font-size="52" font-weight="bold">h</text>
<path d="M100.5 741.5h6.5M638.7 741.5h-6.5M100.5 818.4h10.5M638.7 818.4h-10.5M100.5 895.4h6.5M638.7 895.4h-6.5M100.5 972.3h10.5M638.7 972.3h-10.5M100.5 1049.2h6.5M638.7 1049.2h-6.5" stroke="#000" stroke-width="2.1" fill="none"/>
<text transform="translate(63.9,680.1) scale(1,1.04)" font-size="42">4</text>
<text transform="translate(64.8,833.9) scale(1,1.04)" font-size="42">2</text>
<text transform="translate(64.3,987.8) scale(1,1.04)" font-size="42">0</text>
<text transform="translate(40.2,1141.6) scale(1,1.04)" font-size="42">−2</text>
<g transform="translate(34.6,895.4) rotate(-90)"><text transform="translate(-45.2,0) scale(1,1.025)" font-size="46.5">E/E</text><text transform="translate(31.4,13.8) scale(1,1.025)" font-size="32.5">r</text></g>
<text transform="translate(254.3,641.8) scale(1,1.025)" font-size="46.5">Ω</text>
<text transform="translate(290.3,655.6) scale(1,1.025)" font-size="32.5">R</text>
<text x="325" y="641.8" font-size="47.5" font-family="'DejaVu Sans',sans-serif">=</text>
<text transform="translate(373.4,641.8) scale(1,1.025)" font-size="46.5">0.1E</text>
<text transform="translate(470.1,655.6) scale(1,1.025)" font-size="32.5">r</text>
<text transform="translate(912.5,641.8) scale(1,1.025)" font-size="46.5">E</text>
<text transform="translate(944.7,655.6) scale(1,1.025)" font-size="32.5">0</text>
<text x="973.9" y="641.8" font-size="47.5" font-family="'DejaVu Sans',sans-serif">=</text>
<text transform="translate(1021.9,641.8) scale(1,1.025)" font-size="46.5">-1.00E</text>
<text transform="translate(1161.1,655.6) scale(1,1.025)" font-size="32.5">r</text>
<text transform="translate(1587.3,641.8) scale(1,1.025)" font-size="46.5">E</text>
<text transform="translate(1619.5,655.6) scale(1,1.025)" font-size="32.5">0</text>
<text x="1648.7" y="641.8" font-size="47.5" font-family="'DejaVu Sans',sans-serif">=</text>
<text transform="translate(1696.7,641.8) scale(1,1.025)" font-size="46.5">-1.00E</text>
<text transform="translate(1835.9,655.6) scale(1,1.025)" font-size="32.5">r</text>
<path d="M774.7 1117h10.5M1312.9 1117h-10.5M774.7 890.8h10.5M1312.9 890.8h-10.5" stroke="#000" stroke-width="2.1" fill="none"/>
<text transform="translate(1324.9,680.1) scale(1,1.04)" font-size="42">0.1</text>
<text transform="translate(1324.9,1132.5) scale(1,1.04)" font-size="42">0.0</text>
<g transform="translate(1378.2,895.4) rotate(-90)"><text transform="translate(-108.2,0) scale(1,1.025)" font-size="46.5">(E</text><text transform="translate(-52.3,0) scale(1,1.025)" font-size="46.5">−</text><text transform="translate(-18.7,0) scale(1,1.025)" font-size="46.5">E</text><text transform="translate(13.9,14) scale(1,1.025)" font-size="32.5">0</text><text transform="translate(36.3,0) scale(1,1.025)" font-size="46.5">)</text><text transform="translate(49.5,0) scale(1,1.025)" font-size="46.5">/E</text><text transform="translate(94.7,14) scale(1,1.025)" font-size="32.5">r</text></g>
<path d="M1449.5 1117h10.5M1987.7 1117h-10.5M1449.5 890.8h10.5M1987.7 890.8h-10.5" stroke="#000" stroke-width="2.1" fill="none"/>
<text transform="translate(1999.7,680.1) scale(1,1.04)" font-size="42">0.006</text>
<text transform="translate(1999.7,1132.5) scale(1,1.04)" font-size="42">0.0</text>
<g transform="translate(2053,895.4) rotate(-90)"><text transform="translate(-108.2,0) scale(1,1.025)" font-size="46.5">(E</text><text transform="translate(-52.3,0) scale(1,1.025)" font-size="46.5">−</text><text transform="translate(-18.7,0) scale(1,1.025)" font-size="46.5">E</text><text transform="translate(13.9,14) scale(1,1.025)" font-size="32.5">0</text><text transform="translate(36.3,0) scale(1,1.025)" font-size="46.5">)</text><text transform="translate(49.5,0) scale(1,1.025)" font-size="46.5">/E</text><text transform="translate(94.7,14) scale(1,1.025)" font-size="32.5">r</text></g>
<rect x="100.5" y="1262.6" width="538.2" height="461.5" fill="none" stroke="#000" stroke-width="2.4"/>
<path d="M255.5 1724.1v-10.5M412.5 1724.1v-10.5" stroke="#000" stroke-width="2.1" fill="none"/>
<text transform="translate(88.2,1766.7) scale(1,1.04)" font-size="42.5">Γ</text>
<text transform="translate(241.3,1766.7) scale(1,1.04)" font-size="42.5">X</text>
<text transform="translate(394.8,1766.7) scale(1,1.04)" font-size="42.5">M</text>
<text transform="translate(626.4,1766.7) scale(1,1.04)" font-size="42.5">Γ</text>
<text x="96.8" y="1234.8" font-size="52" font-weight="bold">c</text>
<rect x="774.7" y="1262.6" width="538.2" height="461.5" fill="none" stroke="#000" stroke-width="2.4"/>
<path d="M929.7 1724.1v-10.5M1086.7 1724.1v-10.5" stroke="#000" stroke-width="2.1" fill="none"/>
<text transform="translate(762.4,1766.7) scale(1,1.04)" font-size="42.5">Γ</text>
<text transform="translate(915.5,1766.7) scale(1,1.04)" font-size="42.5">X</text>
<text transform="translate(1069,1766.7) scale(1,1.04)" font-size="42.5">M</text>
<text transform="translate(1300.6,1766.7) scale(1,1.04)" font-size="42.5">Γ</text>
<text x="772.4" y="1234.8" font-size="52" font-weight="bold">f</text>
<rect x="1449.5" y="1262.6" width="538.2" height="461.5" fill="none" stroke="#000" stroke-width="2.4"/>
<path d="M1604.5 1724.1v-10.5M1761.5 1724.1v-10.5" stroke="#000" stroke-width="2.1" fill="none"/>
<text transform="translate(1437.2,1766.7) scale(1,1.04)" font-size="42.5">Γ</text>
<text transform="translate(1590.3,1766.7) scale(1,1.04)" font-size="42.5">X</text>
<text transform="translate(1743.8,1766.7) scale(1,1.04)" font-size="42.5">M</text>
<text transform="translate(1975.4,1766.7) scale(1,1.04)" font-size="42.5">Γ</text>
<text x="1444.6" y="1234.8" font-size="52" font-weight="bold">i</text>
<path d="M100.5 1339.5h6.5M638.7 1339.5h-6.5M100.5 1416.4h10.5M638.7 1416.4h-10.5M100.5 1493.3h6.5M638.7 1493.3h-6.5M100.5 1570.3h10.5M638.7 1570.3h-10.5M100.5 1647.2h6.5M638.7 1647.2h-6.5" stroke="#000" stroke-width="2.1" fill="none"/>
<text transform="translate(63.9,1278.1) scale(1,1.04)" font-size="42">4</text>
<text transform="translate(64.8,1431.9) scale(1,1.04)" font-size="42">2</text>
<text transform="translate(64.3,1585.8) scale(1,1.04)" font-size="42">0</text>
<text transform="translate(40.2,1739.6) scale(1,1.04)" font-size="42">−2</text>
<g transform="translate(34.6,1493.3) rotate(-90)"><text transform="translate(-45.2,0) scale(1,1.025)" font-size="46.5">E/E</text><text transform="translate(31.4,13.8) scale(1,1.025)" font-size="32.5">r</text></g>
<text transform="translate(254.3,1239.8) scale(1,1.025)" font-size="46.5">Ω</text>
<text transform="translate(290.3,1253.6) scale(1,1.025)" font-size="32.5">R</text>
<text x="325" y="1239.8" font-size="47.5" font-family="'DejaVu Sans',sans-serif">=</text>
<text transform="translate(371.7,1239.8) scale(1,1.025)" font-size="46.5">1.0E</text>
<text transform="translate(470.1,1253.6) scale(1,1.025)" font-size="32.5">r</text>
<text transform="translate(912.5,1239.8) scale(1,1.025)" font-size="46.5">E</text>
<text transform="translate(944.7,1253.6) scale(1,1.025)" font-size="32.5">0</text>
<text x="973.9" y="1239.8" font-size="47.5" font-family="'DejaVu Sans',sans-serif">=</text>
<text transform="translate(1021.9,1239.8) scale(1,1.025)" font-size="46.5">-1.86E</text>
<text transform="translate(1161.1,1253.6) scale(1,1.025)" font-size="32.5">r</text>
<text transform="translate(1587.3,1239.8) scale(1,1.025)" font-size="46.5">E</text>
<text transform="translate(1619.5,1253.6) scale(1,1.025)" font-size="32.5">0</text>
<text x="1648.7" y="1239.8" font-size="47.5" font-family="'DejaVu Sans',sans-serif">=</text>
<text transform="translate(1696.7,1239.8) scale(1,1.025)" font-size="46.5">-1.86E</text>
<text transform="translate(1835.9,1253.6) scale(1,1.025)" font-size="32.5">r</text>
<path d="M774.7 1715h10.5M1312.9 1715h-10.5M774.7 1488.8h10.5M1312.9 1488.8h-10.5" stroke="#000" stroke-width="2.1" fill="none"/>
<text transform="translate(1324.9,1278.1) scale(1,1.04)" font-size="42">0.1</text>
<text transform="translate(1324.9,1730.5) scale(1,1.04)" font-size="42">0.0</text>
<g transform="translate(1378.2,1493.3) rotate(-90)"><text transform="translate(-108.2,0) scale(1,1.025)" font-size="46.5">(E</text><text transform="translate(-52.3,0) scale(1,1.025)" font-size="46.5">−</text><text transform="translate(-18.7,0) scale(1,1.025)" font-size="46.5">E</text><text transform="translate(13.9,14) scale(1,1.025)" font-size="32.5">0</text><text transform="translate(36.3,0) scale(1,1.025)" font-size="46.5">)</text><text transform="translate(49.5,0) scale(1,1.025)" font-size="46.5">/E</text><text transform="translate(94.7,14) scale(1,1.025)" font-size="32.5">r</text></g>
<path d="M1449.5 1715h10.5M1987.7 1715h-10.5M1449.5 1488.8h10.5M1987.7 1488.8h-10.5" stroke="#000" stroke-width="2.1" fill="none"/>
<text transform="translate(1999.7,1278.1) scale(1,1.04)" font-size="42">0.006</text>
<text transform="translate(1999.7,1730.5) scale(1,1.04)" font-size="42">0.0</text>
<g transform="translate(2053,1493.3) rotate(-90)"><text transform="translate(-108.2,0) scale(1,1.025)" font-size="46.5">(E</text><text transform="translate(-52.3,0) scale(1,1.025)" font-size="46.5">−</text><text transform="translate(-18.7,0) scale(1,1.025)" font-size="46.5">E</text><text transform="translate(13.9,14) scale(1,1.025)" font-size="32.5">0</text><text transform="translate(36.3,0) scale(1,1.025)" font-size="46.5">)</text><text transform="translate(49.5,0) scale(1,1.025)" font-size="46.5">/E</text><text transform="translate(94.7,14) scale(1,1.025)" font-size="32.5">r</text></g>
<rect x="330" y="294.6" width="91" height="90.4" fill="#f0f0f0" stroke="#000" stroke-width="2"/>
<path d="M374.7 339.7H420V295.2Z" fill="none" stroke="#0a0acd" stroke-width="2.5" stroke-linejoin="miter"/>
<path d="M303.3 294.6H326.7M303.3 385H326.7M315 296.5V383" stroke="#000" stroke-width="1.3" fill="none"/>
<path d="M309.2 308L315 296.2L320.8 308M309.2 371.6L315 383.4L320.8 371.6" stroke="#000" stroke-width="1.3" fill="none"/>
<text transform="translate(348.5,354.2) scale(1,1.025)" font-size="46.5">Γ</text>
<text transform="translate(427.2,311.6) scale(1,1.025)" font-size="46.5">M</text>
<text transform="translate(429.4,358.2) scale(1,1.025)" font-size="46.5">X</text>
<text x="234.5" y="325.3" font-size="33.5" font-family="'DejaVu Sans',sans-serif">2</text>
<text x="256" y="325.3" font-size="33.5" font-family="'DejaVu Sans',sans-serif" font-style="italic">ℏ</text>
<text x="276.6" y="325.3" font-size="33.5" font-family="'DejaVu Sans',sans-serif" font-style="italic">k</text>
<path d="M235 335.6H298" stroke="#000" stroke-width="3" fill="none"/>
<text x="245" y="377.3" font-size="33.5" font-family="'DejaVu Sans',sans-serif">√</text>
<text x="268.3" y="377.3" font-size="33.5" font-family="'DejaVu Sans',sans-serif" font-style="italic">c</text>
<path d="M265.5 343.3H289.5" stroke="#000" stroke-width="2.2" fill="none"/><path d="M275.5 351.8H286.5" stroke="#000" stroke-width="2.2" fill="none"/>
<text transform="translate(675,194.4) scale(1,1.03)" font-size="47" font-style="italic">P</text>
<text transform="translate(678.2,438.9) scale(1,1.03)" font-size="47" font-style="italic">S</text>
<path d="M376.8 74.9V142.5" stroke="#000" stroke-width="5" stroke-dasharray="5 10.2" fill="none"/>
<path d="M376.8 673V740.6" stroke="#000" stroke-width="5" stroke-dasharray="5 10.2" fill="none"/>
<path d="M376.8 1271V1338.6" stroke="#000" stroke-width="5" stroke-dasharray="5 10.2" fill="none"/>
</svg>
</body></html>
